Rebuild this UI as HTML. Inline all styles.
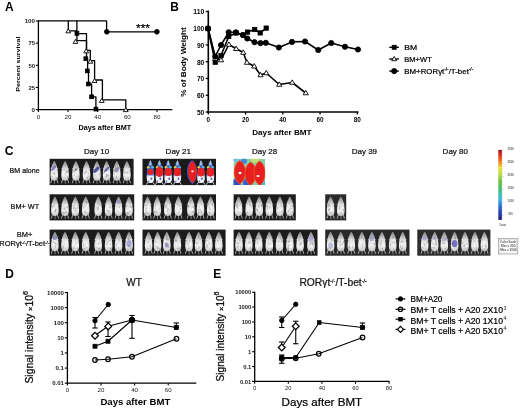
<!DOCTYPE html>
<html><head><meta charset="utf-8"><style>
html,body{margin:0;padding:0;background:#fff;}
svg{display:block;will-change:transform;}
text{font-family:"Liberation Sans", sans-serif;}
</style></head><body>
<svg width="520" height="410" viewBox="0 0 520 410" font-family='"Liberation Sans", sans-serif'>
<g>
<rect width="520" height="410" fill="#fff"/>
<text x="5.0" y="10.85" font-size="11.9" font-weight="bold" text-anchor="start" fill="#000" >A</text>
<line x1="38.40" y1="20.40" x2="38.40" y2="110.25" stroke="#000" stroke-width="1.3"/>
<line x1="37.75" y1="109.60" x2="172.30" y2="109.60" stroke="#000" stroke-width="1.3"/>
<line x1="35.80" y1="21.00" x2="38.40" y2="21.00" stroke="#000" stroke-width="1.1"/>
<text x="35.0" y="23.3" font-size="6.2" font-weight="bold" text-anchor="end" fill="#1a1a1a" textLength="10.3" lengthAdjust="spacingAndGlyphs" >100</text>
<line x1="35.80" y1="43.15" x2="38.40" y2="43.15" stroke="#000" stroke-width="1.1"/>
<text x="35.0" y="45.44999999999999" font-size="6.2" font-weight="bold" text-anchor="end" fill="#1a1a1a" textLength="6.6" lengthAdjust="spacingAndGlyphs" >75</text>
<line x1="35.80" y1="65.30" x2="38.40" y2="65.30" stroke="#000" stroke-width="1.1"/>
<text x="35.0" y="67.6" font-size="6.2" font-weight="bold" text-anchor="end" fill="#1a1a1a" textLength="6.6" lengthAdjust="spacingAndGlyphs" >50</text>
<line x1="35.80" y1="87.45" x2="38.40" y2="87.45" stroke="#000" stroke-width="1.1"/>
<text x="35.0" y="89.74999999999999" font-size="6.2" font-weight="bold" text-anchor="end" fill="#1a1a1a" textLength="6.6" lengthAdjust="spacingAndGlyphs" >25</text>
<line x1="35.80" y1="109.60" x2="38.40" y2="109.60" stroke="#000" stroke-width="1.1"/>
<text x="35.0" y="111.89999999999999" font-size="6.2" font-weight="bold" text-anchor="end" fill="#1a1a1a" >0</text>
<line x1="38.40" y1="109.60" x2="38.40" y2="112.00" stroke="#000" stroke-width="1.1"/>
<text x="38.4" y="118.6" font-size="6.2" font-weight="normal" text-anchor="middle" fill="#1a1a1a" >0</text>
<line x1="68.05" y1="109.60" x2="68.05" y2="112.00" stroke="#000" stroke-width="1.1"/>
<text x="68.05" y="118.6" font-size="6.2" font-weight="normal" text-anchor="middle" fill="#1a1a1a" >20</text>
<line x1="97.70" y1="109.60" x2="97.70" y2="112.00" stroke="#000" stroke-width="1.1"/>
<text x="97.69999999999999" y="118.6" font-size="6.2" font-weight="normal" text-anchor="middle" fill="#1a1a1a" >40</text>
<line x1="127.35" y1="109.60" x2="127.35" y2="112.00" stroke="#000" stroke-width="1.1"/>
<text x="127.35" y="118.6" font-size="6.2" font-weight="normal" text-anchor="middle" fill="#1a1a1a" >60</text>
<line x1="157.00" y1="109.60" x2="157.00" y2="112.00" stroke="#000" stroke-width="1.1"/>
<text x="157.0" y="118.6" font-size="6.2" font-weight="normal" text-anchor="middle" fill="#1a1a1a" >80</text>
<text x="78.5" y="130.1" font-size="7.1" font-weight="bold" text-anchor="start" fill="#000" textLength="52.8" lengthAdjust="spacingAndGlyphs" >Days after BMT</text>
<text transform="translate(20.0,64.1) scale(0.86,1) rotate(-90)" font-size="7.07" font-weight="bold" text-anchor="middle" fill="#000" textLength="55.2" lengthAdjust="spacingAndGlyphs">Percent survival</text>
<line x1="38.40" y1="20.75" x2="106.60" y2="20.75" stroke="#000" stroke-width="1.25"/>
<polyline points="106.60,20.75 106.60,31.80 157.00,31.80" fill="none" stroke="#000" stroke-width="1.3" stroke-linejoin="round"/>
<circle cx="106.80" cy="31.80" r="2.35" fill="#000" stroke="#000" stroke-width="0.9"/>
<circle cx="156.90" cy="31.80" r="2.35" fill="#000" stroke="#000" stroke-width="0.9"/>
<text x="136.0" y="32.0" font-size="10.5" font-weight="normal" text-anchor="start" fill="#000" stroke="#000" stroke-width="0.22" textLength="14" lengthAdjust="spacingAndGlyphs" >***</text>
<polyline points="68.30,20.75 68.30,30.80 76.90,30.80 76.90,40.60 86.50,40.60 86.50,50.40 90.30,50.40 90.30,60.60 94.60,60.60 94.60,80.00 102.40,80.00 102.40,99.90 125.80,99.90 125.80,109.60" fill="none" stroke="#000" stroke-width="1.3" stroke-linejoin="round"/>
<polyline points="76.90,20.75 76.90,33.70 86.50,33.70 86.50,58.70 87.60,58.70 87.60,71.00 88.50,71.00 88.50,84.00 91.60,84.00 91.60,96.80 95.90,96.80 95.90,109.60" fill="none" stroke="#000" stroke-width="1.3" stroke-linejoin="round"/>
<path d="M68.30,28.75 L70.70,32.83 L65.90,32.83 Z" fill="#fff" stroke="#000" stroke-width="0.9" stroke-linejoin="miter"/>
<path d="M75.50,39.35 L77.90,43.43 L73.10,43.43 Z" fill="#fff" stroke="#000" stroke-width="0.9" stroke-linejoin="miter"/>
<path d="M86.20,48.75 L88.60,52.83 L83.80,52.83 Z" fill="#fff" stroke="#000" stroke-width="0.9" stroke-linejoin="miter"/>
<path d="M90.30,59.15 L92.70,63.23 L87.90,63.23 Z" fill="#fff" stroke="#000" stroke-width="0.9" stroke-linejoin="miter"/>
<path d="M94.60,78.45 L97.00,82.53 L92.20,82.53 Z" fill="#fff" stroke="#000" stroke-width="0.9" stroke-linejoin="miter"/>
<path d="M101.80,98.35 L104.20,102.43 L99.40,102.43 Z" fill="#fff" stroke="#000" stroke-width="0.9" stroke-linejoin="miter"/>
<path d="M125.80,107.55 L128.20,111.63 L123.40,111.63 Z" fill="#fff" stroke="#000" stroke-width="0.9" stroke-linejoin="miter"/>
<rect x="75.00" y="31.50" width="3.8" height="3.8" fill="#000" stroke="#000" stroke-width="0.8"/>
<rect x="83.90" y="56.80" width="3.8" height="3.8" fill="#000" stroke="#000" stroke-width="0.8"/>
<rect x="85.40" y="69.00" width="3.8" height="3.8" fill="#000" stroke="#000" stroke-width="0.8"/>
<rect x="86.40" y="82.10" width="3.8" height="3.8" fill="#000" stroke="#000" stroke-width="0.8"/>
<rect x="89.70" y="94.90" width="3.8" height="3.8" fill="#000" stroke="#000" stroke-width="0.8"/>
<rect x="94.00" y="107.20" width="3.8" height="3.8" fill="#000" stroke="#000" stroke-width="0.8"/>
<text x="170.3" y="10.9" font-size="11.9" font-weight="bold" text-anchor="start" fill="#000" >B</text>
<line x1="208.30" y1="10.60" x2="208.30" y2="112.80" stroke="#000" stroke-width="1.6"/>
<line x1="207.50" y1="112.00" x2="358.50" y2="112.00" stroke="#000" stroke-width="1.6"/>
<line x1="205.70" y1="11.50" x2="208.30" y2="11.50" stroke="#000" stroke-width="1.3"/>
<text x="204.3" y="14.4" font-size="6.6" font-weight="bold" text-anchor="end" fill="#000" textLength="11.0" lengthAdjust="spacingAndGlyphs" >110</text>
<line x1="205.70" y1="28.25" x2="208.30" y2="28.25" stroke="#000" stroke-width="1.3"/>
<text x="204.3" y="31.15" font-size="6.6" font-weight="bold" text-anchor="end" fill="#000" textLength="11.0" lengthAdjust="spacingAndGlyphs" >100</text>
<line x1="205.70" y1="45.00" x2="208.30" y2="45.00" stroke="#000" stroke-width="1.3"/>
<text x="204.3" y="47.9" font-size="6.6" font-weight="bold" text-anchor="end" fill="#000" textLength="7.4" lengthAdjust="spacingAndGlyphs" >90</text>
<line x1="205.70" y1="61.75" x2="208.30" y2="61.75" stroke="#000" stroke-width="1.3"/>
<text x="204.3" y="64.65" font-size="6.6" font-weight="bold" text-anchor="end" fill="#000" textLength="7.4" lengthAdjust="spacingAndGlyphs" >80</text>
<line x1="205.70" y1="78.50" x2="208.30" y2="78.50" stroke="#000" stroke-width="1.3"/>
<text x="204.3" y="81.4" font-size="6.6" font-weight="bold" text-anchor="end" fill="#000" textLength="7.4" lengthAdjust="spacingAndGlyphs" >70</text>
<line x1="205.70" y1="95.25" x2="208.30" y2="95.25" stroke="#000" stroke-width="1.3"/>
<text x="204.3" y="98.15" font-size="6.6" font-weight="bold" text-anchor="end" fill="#000" textLength="7.4" lengthAdjust="spacingAndGlyphs" >60</text>
<line x1="205.70" y1="112.00" x2="208.30" y2="112.00" stroke="#000" stroke-width="1.3"/>
<text x="204.3" y="114.9" font-size="6.6" font-weight="bold" text-anchor="end" fill="#000" textLength="7.4" lengthAdjust="spacingAndGlyphs" >50</text>
<line x1="208.30" y1="112.00" x2="208.30" y2="114.60" stroke="#000" stroke-width="1.3"/>
<text x="208.3" y="122.3" font-size="6.4" font-weight="bold" text-anchor="middle" fill="#000" >0</text>
<line x1="245.55" y1="112.00" x2="245.55" y2="114.60" stroke="#000" stroke-width="1.3"/>
<text x="245.55" y="122.3" font-size="6.4" font-weight="bold" text-anchor="middle" fill="#000" >20</text>
<line x1="282.80" y1="112.00" x2="282.80" y2="114.60" stroke="#000" stroke-width="1.3"/>
<text x="282.8" y="122.3" font-size="6.4" font-weight="bold" text-anchor="middle" fill="#000" >40</text>
<line x1="320.05" y1="112.00" x2="320.05" y2="114.60" stroke="#000" stroke-width="1.3"/>
<text x="320.05" y="122.3" font-size="6.4" font-weight="bold" text-anchor="middle" fill="#000" >60</text>
<line x1="357.30" y1="112.00" x2="357.30" y2="114.60" stroke="#000" stroke-width="1.3"/>
<text x="357.3" y="122.3" font-size="6.4" font-weight="bold" text-anchor="middle" fill="#000" >80</text>
<text x="252.2" y="135.0" font-size="8.1" font-weight="bold" text-anchor="start" fill="#000" textLength="59.4" lengthAdjust="spacingAndGlyphs" >Days after BMT</text>
<text transform="translate(185.6,61.95) scale(0.86,1) rotate(-90)" font-size="8.15" font-weight="bold" text-anchor="middle" fill="#000" textLength="69.6" lengthAdjust="spacingAndGlyphs">% of Body Weight</text>
<polyline points="208.00,28.50 215.20,56.50 221.00,45.00 228.70,32.30 235.90,32.30 242.80,35.00 247.30,38.50 254.50,42.20 260.50,43.10 265.80,42.80 278.90,47.50 292.00,41.90 305.00,41.50 318.25,50.00 331.25,43.00 345.00,46.75 358.00,49.50" fill="none" stroke="#000" stroke-width="1.6" stroke-linejoin="round"/>
<polyline points="208.00,28.50 215.20,58.50 221.00,60.00 228.90,44.50 236.20,48.70 243.25,52.50 246.90,62.50 254.25,66.25 260.50,75.00 266.25,73.00 279.25,84.50 292.20,82.50 305.75,93.00" fill="none" stroke="#000" stroke-width="1.6" stroke-linejoin="round"/>
<polyline points="208.00,28.50 215.20,62.20 221.00,55.50 228.70,36.50 236.00,33.00 243.50,35.00 247.50,32.10 254.70,29.50 260.20,32.90 266.20,28.10" fill="none" stroke="#000" stroke-width="1.6" stroke-linejoin="round"/>
<rect x="205.85" y="26.35" width="4.3" height="4.3" fill="#000" stroke="#000" stroke-width="0.8"/>
<rect x="213.05" y="60.05" width="4.3" height="4.3" fill="#000" stroke="#000" stroke-width="0.8"/>
<rect x="218.85" y="53.35" width="4.3" height="4.3" fill="#000" stroke="#000" stroke-width="0.8"/>
<rect x="226.55" y="34.35" width="4.3" height="4.3" fill="#000" stroke="#000" stroke-width="0.8"/>
<rect x="233.85" y="30.85" width="4.3" height="4.3" fill="#000" stroke="#000" stroke-width="0.8"/>
<rect x="241.35" y="32.85" width="4.3" height="4.3" fill="#000" stroke="#000" stroke-width="0.8"/>
<rect x="245.35" y="29.95" width="4.3" height="4.3" fill="#000" stroke="#000" stroke-width="0.8"/>
<rect x="252.55" y="27.35" width="4.3" height="4.3" fill="#000" stroke="#000" stroke-width="0.8"/>
<rect x="258.05" y="30.75" width="4.3" height="4.3" fill="#000" stroke="#000" stroke-width="0.8"/>
<rect x="264.05" y="25.95" width="4.3" height="4.3" fill="#000" stroke="#000" stroke-width="0.8"/>
<path d="M208.00,25.85 L210.60,30.27 L205.40,30.27 Z" fill="#fff" stroke="#000" stroke-width="0.9" stroke-linejoin="miter"/>
<path d="M215.20,55.85 L217.80,60.27 L212.60,60.27 Z" fill="#fff" stroke="#000" stroke-width="0.9" stroke-linejoin="miter"/>
<path d="M221.00,57.35 L223.60,61.77 L218.40,61.77 Z" fill="#fff" stroke="#000" stroke-width="0.9" stroke-linejoin="miter"/>
<path d="M228.90,41.85 L231.50,46.27 L226.30,46.27 Z" fill="#fff" stroke="#000" stroke-width="0.9" stroke-linejoin="miter"/>
<path d="M236.20,46.05 L238.80,50.47 L233.60,50.47 Z" fill="#fff" stroke="#000" stroke-width="0.9" stroke-linejoin="miter"/>
<path d="M243.25,49.85 L245.85,54.27 L240.65,54.27 Z" fill="#fff" stroke="#000" stroke-width="0.9" stroke-linejoin="miter"/>
<path d="M246.90,59.85 L249.50,64.27 L244.30,64.27 Z" fill="#fff" stroke="#000" stroke-width="0.9" stroke-linejoin="miter"/>
<path d="M254.25,63.60 L256.85,68.02 L251.65,68.02 Z" fill="#fff" stroke="#000" stroke-width="0.9" stroke-linejoin="miter"/>
<path d="M260.50,72.35 L263.10,76.77 L257.90,76.77 Z" fill="#fff" stroke="#000" stroke-width="0.9" stroke-linejoin="miter"/>
<path d="M266.25,70.35 L268.85,74.77 L263.65,74.77 Z" fill="#fff" stroke="#000" stroke-width="0.9" stroke-linejoin="miter"/>
<path d="M279.25,81.85 L281.85,86.27 L276.65,86.27 Z" fill="#fff" stroke="#000" stroke-width="0.9" stroke-linejoin="miter"/>
<path d="M292.20,79.85 L294.80,84.27 L289.60,84.27 Z" fill="#fff" stroke="#000" stroke-width="0.9" stroke-linejoin="miter"/>
<path d="M305.75,90.35 L308.35,94.77 L303.15,94.77 Z" fill="#fff" stroke="#000" stroke-width="0.9" stroke-linejoin="miter"/>
<circle cx="208.00" cy="28.50" r="2.6" fill="#000" stroke="#000" stroke-width="0.9"/>
<circle cx="215.20" cy="56.50" r="2.6" fill="#000" stroke="#000" stroke-width="0.9"/>
<circle cx="221.00" cy="45.00" r="2.6" fill="#000" stroke="#000" stroke-width="0.9"/>
<circle cx="228.70" cy="32.30" r="2.6" fill="#000" stroke="#000" stroke-width="0.9"/>
<circle cx="235.90" cy="32.30" r="2.6" fill="#000" stroke="#000" stroke-width="0.9"/>
<circle cx="242.80" cy="35.00" r="2.6" fill="#000" stroke="#000" stroke-width="0.9"/>
<circle cx="247.30" cy="38.50" r="2.6" fill="#000" stroke="#000" stroke-width="0.9"/>
<circle cx="254.50" cy="42.20" r="2.6" fill="#000" stroke="#000" stroke-width="0.9"/>
<circle cx="260.50" cy="43.10" r="2.6" fill="#000" stroke="#000" stroke-width="0.9"/>
<circle cx="265.80" cy="42.80" r="2.6" fill="#000" stroke="#000" stroke-width="0.9"/>
<circle cx="278.90" cy="47.50" r="2.6" fill="#000" stroke="#000" stroke-width="0.9"/>
<circle cx="292.00" cy="41.90" r="2.6" fill="#000" stroke="#000" stroke-width="0.9"/>
<circle cx="305.00" cy="41.50" r="2.6" fill="#000" stroke="#000" stroke-width="0.9"/>
<circle cx="318.25" cy="50.00" r="2.6" fill="#000" stroke="#000" stroke-width="0.9"/>
<circle cx="331.25" cy="43.00" r="2.6" fill="#000" stroke="#000" stroke-width="0.9"/>
<circle cx="345.00" cy="46.75" r="2.6" fill="#000" stroke="#000" stroke-width="0.9"/>
<circle cx="358.00" cy="49.50" r="2.6" fill="#000" stroke="#000" stroke-width="0.9"/>
<line x1="389.30" y1="47.30" x2="398.80" y2="47.30" stroke="#000" stroke-width="1.4"/>
<rect x="392.20" y="45.30" width="4" height="4" fill="#000" stroke="#000" stroke-width="0.8"/>
<text x="404.2" y="49.5" font-size="7.9" font-weight="normal" text-anchor="start" fill="#000" stroke="#000" stroke-width="0.22" textLength="12.9" lengthAdjust="spacingAndGlyphs" >BM</text>
<line x1="389.30" y1="59.00" x2="398.80" y2="59.00" stroke="#000" stroke-width="1.4"/>
<path d="M394.20,56.45 L396.70,60.70 L391.70,60.70 Z" fill="#fff" stroke="#000" stroke-width="0.9" stroke-linejoin="miter"/>
<text x="404.2" y="61.6" font-size="7.9" font-weight="normal" text-anchor="start" fill="#000" stroke="#000" stroke-width="0.22" textLength="27.6" lengthAdjust="spacingAndGlyphs" >BM+WT</text>
<line x1="389.30" y1="71.10" x2="398.80" y2="71.10" stroke="#000" stroke-width="1.4"/>
<circle cx="394.20" cy="71.10" r="2.6" fill="#000" stroke="#000" stroke-width="0.9"/>
<text x="404.2" y="73.7" font-size="7.9" font-weight="normal" text-anchor="start" fill="#000" stroke="#000" stroke-width="0.22" textLength="69.0" lengthAdjust="spacingAndGlyphs" >BM+ROR&#947;t<tspan dy="-2.8" font-size="4.6">-/-</tspan><tspan dy="2.8">/T-bet</tspan><tspan dy="-2.8" font-size="4.6">-/-</tspan></text>
<text x="4.8" y="154.9" font-size="12.2" font-weight="bold" text-anchor="start" fill="#000" >C</text>
<text x="96.6" y="154.1" font-size="8.0" font-weight="normal" text-anchor="middle" fill="#111" stroke="#111" stroke-width="0.22" >Day 10</text>
<text x="178.3" y="154.1" font-size="8.0" font-weight="normal" text-anchor="middle" fill="#111" stroke="#111" stroke-width="0.22" >Day 21</text>
<text x="264.6" y="154.1" font-size="8.0" font-weight="normal" text-anchor="middle" fill="#111" stroke="#111" stroke-width="0.22" >Day 28</text>
<text x="364.4" y="154.1" font-size="8.0" font-weight="normal" text-anchor="middle" fill="#111" stroke="#111" stroke-width="0.22" >Day 39</text>
<text x="455.3" y="154.1" font-size="8.0" font-weight="normal" text-anchor="middle" fill="#111" stroke="#111" stroke-width="0.22" >Day 80</text>
<text x="24.6" y="173.4" font-size="7.1" font-weight="normal" text-anchor="middle" fill="#111" stroke="#111" stroke-width="0.22" >BM alone</text>
<text x="24.9" y="209.0" font-size="7.1" font-weight="normal" text-anchor="middle" fill="#111" stroke="#111" stroke-width="0.22" textLength="28.6" lengthAdjust="spacingAndGlyphs" >BM+ WT</text>
<text x="24.6" y="237.0" font-size="7.4" font-weight="normal" text-anchor="middle" fill="#111" stroke="#111" stroke-width="0.22" textLength="15.6" lengthAdjust="spacingAndGlyphs" >BM+</text>
<text x="24.3" y="246.3" font-size="7.5" font-weight="normal" text-anchor="middle" fill="#111" stroke="#111" stroke-width="0.22" >ROR&#947;t<tspan dy="-2.4" font-size="4.4">-/-</tspan><tspan dy="2.4">/T-bet</tspan><tspan dy="-2.4" font-size="4.4">-/-</tspan></text>
<defs><linearGradient id="hg" x1="0" y1="0" x2="0" y2="1"><stop offset="0" stop-color="#a0b8e0"/><stop offset="0.2" stop-color="#4868c8"/><stop offset="0.6" stop-color="#3858c8"/><stop offset="0.72" stop-color="#d8dcf0"/><stop offset="1" stop-color="#e8e8f0"/></linearGradient></defs>
<defs><linearGradient id="mg" x1="0" y1="0" x2="0" y2="1"><stop offset="0" stop-color="#7c7c7c"/><stop offset="0.22" stop-color="#b0b0b0"/><stop offset="0.42" stop-color="#e0e0e0"/><stop offset="0.72" stop-color="#efefef"/><stop offset="1" stop-color="#c4c4c4"/></linearGradient></defs>
<rect x="49.6" y="158.8" width="84.00" height="26.30" fill="#1c1c1c"/>
<path d="M51.85,179.00 l-1.2,4.2 M56.65,179.00 l1.2,4.2 M51.95,167.57 l-1.3,1.4 M56.55,167.57 l1.3,1.4" stroke="#a8a8a8" stroke-width="1.0"/>
<path d="M54.25,180.00 l0.3,3.8" stroke="#888" stroke-width="0.9"/>
<path d="M54.65,161.20 Q55.05,161.79 55.45,162.69 Q55.85,163.59 56.30,164.68 Q56.75,165.77 57.05,166.97 Q57.35,168.16 57.58,169.56 Q57.80,170.95 57.92,172.74 Q58.05,174.53 58.00,175.92 Q57.95,177.32 57.60,178.41 Q57.25,179.50 56.35,180.00 Q55.45,180.50 54.85,180.60 Q54.25,180.70 53.65,180.60 Q53.05,180.50 52.15,180.00 Q51.25,179.50 50.90,178.41 Q50.55,177.32 50.50,175.92 Q50.45,174.53 50.58,172.74 Q50.70,170.95 50.92,169.56 Q51.15,168.16 51.45,166.97 Q51.75,165.77 52.20,164.68 Q52.65,163.59 53.05,162.69 Q53.45,161.79 53.85,161.20 Q54.25,160.60 54.65,161.20 Z" fill="url(#mg)"/>
<ellipse cx="54.00" cy="173.30" rx="1.05" ry="0.97" fill="#8a8a8a" opacity="0.45"/>
<ellipse cx="54.29" cy="173.65" rx="0.61" ry="1.01" fill="#8a8a8a" opacity="0.45"/>
<ellipse cx="54.93" cy="176.27" rx="0.56" ry="0.84" fill="#8a8a8a" opacity="0.45"/>
<ellipse cx="52.12" cy="176.48" rx="0.92" ry="0.63" fill="#8a8a8a" opacity="0.45"/>
<ellipse cx="56.76" cy="178.46" rx="0.89" ry="1.09" fill="#8a8a8a" opacity="0.45"/>
<ellipse cx="52.47" cy="166.36" rx="0.82" ry="0.65" fill="#8a8a8a" opacity="0.45"/>
<ellipse cx="53.13" cy="171.48" rx="0.82" ry="1.46" fill="#f8f8f8" opacity="0.7"/>
<ellipse cx="54.04" cy="176.26" rx="1.11" ry="1.64" fill="#f8f8f8" opacity="0.7"/>
<ellipse cx="53.65" cy="168.16" rx="1.5" ry="3.4" fill="#5050b0" opacity="0.6" transform="rotate(40 53.65 168.16)"/>
<path d="M62.70,179.00 l-1.2,4.2 M67.50,179.00 l1.2,4.2 M62.80,167.57 l-1.3,1.4 M67.40,167.57 l1.3,1.4" stroke="#a8a8a8" stroke-width="1.0"/>
<path d="M65.10,180.00 l0.3,3.8" stroke="#888" stroke-width="0.9"/>
<path d="M65.50,161.20 Q65.90,161.79 66.30,162.69 Q66.70,163.59 67.15,164.68 Q67.60,165.77 67.90,166.97 Q68.20,168.16 68.42,169.56 Q68.65,170.95 68.77,172.74 Q68.90,174.53 68.85,175.92 Q68.80,177.32 68.45,178.41 Q68.10,179.50 67.20,180.00 Q66.30,180.50 65.70,180.60 Q65.10,180.70 64.50,180.60 Q63.90,180.50 63.00,180.00 Q62.10,179.50 61.75,178.41 Q61.40,177.32 61.35,175.92 Q61.30,174.53 61.42,172.74 Q61.55,170.95 61.77,169.56 Q62.00,168.16 62.30,166.97 Q62.60,165.77 63.05,164.68 Q63.50,163.59 63.90,162.69 Q64.30,161.79 64.70,161.20 Q65.10,160.60 65.50,161.20 Z" fill="url(#mg)"/>
<ellipse cx="65.10" cy="174.61" rx="0.77" ry="0.82" fill="#8a8a8a" opacity="0.45"/>
<ellipse cx="67.69" cy="178.85" rx="1.00" ry="1.17" fill="#8a8a8a" opacity="0.45"/>
<ellipse cx="64.14" cy="169.10" rx="0.67" ry="0.66" fill="#8a8a8a" opacity="0.45"/>
<ellipse cx="66.48" cy="171.27" rx="1.01" ry="0.91" fill="#8a8a8a" opacity="0.45"/>
<ellipse cx="67.48" cy="176.96" rx="0.50" ry="0.77" fill="#8a8a8a" opacity="0.45"/>
<ellipse cx="67.23" cy="172.16" rx="1.09" ry="0.92" fill="#8a8a8a" opacity="0.45"/>
<ellipse cx="63.56" cy="174.57" rx="1.27" ry="1.27" fill="#f8f8f8" opacity="0.7"/>
<ellipse cx="63.61" cy="172.20" rx="1.38" ry="1.76" fill="#f8f8f8" opacity="0.7"/>
<path d="M73.50,179.00 l-1.2,4.2 M78.30,179.00 l1.2,4.2 M73.60,167.57 l-1.3,1.4 M78.20,167.57 l1.3,1.4" stroke="#a8a8a8" stroke-width="1.0"/>
<path d="M75.90,180.00 l0.3,3.8" stroke="#888" stroke-width="0.9"/>
<path d="M76.30,161.20 Q76.70,161.79 77.10,162.69 Q77.50,163.59 77.95,164.68 Q78.40,165.77 78.70,166.97 Q79.00,168.16 79.22,169.56 Q79.45,170.95 79.58,172.74 Q79.70,174.53 79.65,175.92 Q79.60,177.32 79.25,178.41 Q78.90,179.50 78.00,180.00 Q77.10,180.50 76.50,180.60 Q75.90,180.70 75.30,180.60 Q74.70,180.50 73.80,180.00 Q72.90,179.50 72.55,178.41 Q72.20,177.32 72.15,175.92 Q72.10,174.53 72.23,172.74 Q72.35,170.95 72.58,169.56 Q72.80,168.16 73.10,166.97 Q73.40,165.77 73.85,164.68 Q74.30,163.59 74.70,162.69 Q75.10,161.79 75.50,161.20 Q75.90,160.60 76.30,161.20 Z" fill="url(#mg)"/>
<ellipse cx="73.91" cy="169.31" rx="0.56" ry="0.65" fill="#8a8a8a" opacity="0.45"/>
<ellipse cx="77.44" cy="168.43" rx="0.84" ry="0.96" fill="#8a8a8a" opacity="0.45"/>
<ellipse cx="74.29" cy="175.49" rx="0.58" ry="1.11" fill="#8a8a8a" opacity="0.45"/>
<ellipse cx="73.91" cy="171.53" rx="0.63" ry="0.82" fill="#8a8a8a" opacity="0.45"/>
<ellipse cx="78.35" cy="176.40" rx="0.68" ry="1.31" fill="#8a8a8a" opacity="0.45"/>
<ellipse cx="74.40" cy="171.19" rx="1.01" ry="1.11" fill="#8a8a8a" opacity="0.45"/>
<ellipse cx="74.46" cy="177.43" rx="0.93" ry="1.26" fill="#f8f8f8" opacity="0.7"/>
<ellipse cx="76.88" cy="172.17" rx="0.98" ry="1.07" fill="#f8f8f8" opacity="0.7"/>
<ellipse cx="75.90" cy="169.56" rx="0.9" ry="1.1" fill="#303040" opacity="0.8" transform="rotate(0 75.90 169.56)"/>
<path d="M84.10,179.00 l-1.2,4.2 M88.90,179.00 l1.2,4.2 M84.20,167.57 l-1.3,1.4 M88.80,167.57 l1.3,1.4" stroke="#a8a8a8" stroke-width="1.0"/>
<path d="M86.50,180.00 l0.3,3.8" stroke="#888" stroke-width="0.9"/>
<path d="M86.90,161.20 Q87.30,161.79 87.70,162.69 Q88.10,163.59 88.55,164.68 Q89.00,165.77 89.30,166.97 Q89.60,168.16 89.82,169.56 Q90.05,170.95 90.17,172.74 Q90.30,174.53 90.25,175.92 Q90.20,177.32 89.85,178.41 Q89.50,179.50 88.60,180.00 Q87.70,180.50 87.10,180.60 Q86.50,180.70 85.90,180.60 Q85.30,180.50 84.40,180.00 Q83.50,179.50 83.15,178.41 Q82.80,177.32 82.75,175.92 Q82.70,174.53 82.83,172.74 Q82.95,170.95 83.18,169.56 Q83.40,168.16 83.70,166.97 Q84.00,165.77 84.45,164.68 Q84.90,163.59 85.30,162.69 Q85.70,161.79 86.10,161.20 Q86.50,160.60 86.90,161.20 Z" fill="url(#mg)"/>
<ellipse cx="84.37" cy="173.59" rx="0.65" ry="1.08" fill="#8a8a8a" opacity="0.45"/>
<ellipse cx="85.83" cy="171.94" rx="1.08" ry="0.99" fill="#8a8a8a" opacity="0.45"/>
<ellipse cx="86.89" cy="177.21" rx="0.61" ry="0.72" fill="#8a8a8a" opacity="0.45"/>
<ellipse cx="88.62" cy="176.59" rx="0.65" ry="0.75" fill="#8a8a8a" opacity="0.45"/>
<ellipse cx="87.75" cy="178.15" rx="0.62" ry="1.36" fill="#8a8a8a" opacity="0.45"/>
<ellipse cx="88.49" cy="173.86" rx="0.75" ry="0.68" fill="#8a8a8a" opacity="0.45"/>
<ellipse cx="84.84" cy="177.22" rx="0.94" ry="1.70" fill="#f8f8f8" opacity="0.7"/>
<ellipse cx="85.63" cy="176.11" rx="1.16" ry="1.29" fill="#f8f8f8" opacity="0.7"/>
<path d="M94.50,179.00 l-1.2,4.2 M99.30,179.00 l1.2,4.2 M94.60,167.57 l-1.3,1.4 M99.20,167.57 l1.3,1.4" stroke="#a8a8a8" stroke-width="1.0"/>
<path d="M96.90,180.00 l0.3,3.8" stroke="#888" stroke-width="0.9"/>
<path d="M97.30,161.20 Q97.70,161.79 98.10,162.69 Q98.50,163.59 98.95,164.68 Q99.40,165.77 99.70,166.97 Q100.00,168.16 100.22,169.56 Q100.45,170.95 100.58,172.74 Q100.70,174.53 100.65,175.92 Q100.60,177.32 100.25,178.41 Q99.90,179.50 99.00,180.00 Q98.10,180.50 97.50,180.60 Q96.90,180.70 96.30,180.60 Q95.70,180.50 94.80,180.00 Q93.90,179.50 93.55,178.41 Q93.20,177.32 93.15,175.92 Q93.10,174.53 93.23,172.74 Q93.35,170.95 93.58,169.56 Q93.80,168.16 94.10,166.97 Q94.40,165.77 94.85,164.68 Q95.30,163.59 95.70,162.69 Q96.10,161.79 96.50,161.20 Q96.90,160.60 97.30,161.20 Z" fill="url(#mg)"/>
<ellipse cx="95.21" cy="175.35" rx="0.54" ry="0.78" fill="#8a8a8a" opacity="0.45"/>
<ellipse cx="97.21" cy="177.03" rx="0.87" ry="0.82" fill="#8a8a8a" opacity="0.45"/>
<ellipse cx="99.07" cy="168.77" rx="0.51" ry="0.82" fill="#8a8a8a" opacity="0.45"/>
<ellipse cx="96.62" cy="166.94" rx="0.61" ry="0.90" fill="#8a8a8a" opacity="0.45"/>
<ellipse cx="97.28" cy="167.85" rx="0.72" ry="1.31" fill="#8a8a8a" opacity="0.45"/>
<ellipse cx="99.40" cy="174.54" rx="0.91" ry="1.07" fill="#8a8a8a" opacity="0.45"/>
<ellipse cx="95.61" cy="169.83" rx="0.81" ry="1.91" fill="#f8f8f8" opacity="0.7"/>
<ellipse cx="97.62" cy="177.22" rx="0.81" ry="1.64" fill="#f8f8f8" opacity="0.7"/>
<ellipse cx="96.40" cy="169.75" rx="1.6" ry="4.0" fill="#3a3a9a" opacity="0.85" transform="rotate(45 96.40 169.75)"/>
<path d="M104.20,179.00 l-1.2,4.2 M109.00,179.00 l1.2,4.2 M104.30,167.57 l-1.3,1.4 M108.90,167.57 l1.3,1.4" stroke="#a8a8a8" stroke-width="1.0"/>
<path d="M106.60,180.00 l0.3,3.8" stroke="#888" stroke-width="0.9"/>
<path d="M107.00,161.20 Q107.40,161.79 107.80,162.69 Q108.20,163.59 108.65,164.68 Q109.10,165.77 109.40,166.97 Q109.70,168.16 109.92,169.56 Q110.15,170.95 110.27,172.74 Q110.40,174.53 110.35,175.92 Q110.30,177.32 109.95,178.41 Q109.60,179.50 108.70,180.00 Q107.80,180.50 107.20,180.60 Q106.60,180.70 106.00,180.60 Q105.40,180.50 104.50,180.00 Q103.60,179.50 103.25,178.41 Q102.90,177.32 102.85,175.92 Q102.80,174.53 102.92,172.74 Q103.05,170.95 103.28,169.56 Q103.50,168.16 103.80,166.97 Q104.10,165.77 104.55,164.68 Q105.00,163.59 105.40,162.69 Q105.80,161.79 106.20,161.20 Q106.60,160.60 107.00,161.20 Z" fill="url(#mg)"/>
<ellipse cx="106.51" cy="175.48" rx="0.69" ry="1.40" fill="#8a8a8a" opacity="0.45"/>
<ellipse cx="104.39" cy="173.13" rx="0.94" ry="1.32" fill="#8a8a8a" opacity="0.45"/>
<ellipse cx="107.83" cy="175.13" rx="0.98" ry="1.33" fill="#8a8a8a" opacity="0.45"/>
<ellipse cx="105.83" cy="174.90" rx="1.04" ry="1.30" fill="#8a8a8a" opacity="0.45"/>
<ellipse cx="106.17" cy="176.24" rx="1.02" ry="1.06" fill="#8a8a8a" opacity="0.45"/>
<ellipse cx="107.25" cy="171.04" rx="0.85" ry="1.09" fill="#8a8a8a" opacity="0.45"/>
<ellipse cx="105.09" cy="174.64" rx="1.40" ry="1.88" fill="#f8f8f8" opacity="0.7"/>
<ellipse cx="107.42" cy="172.65" rx="1.24" ry="1.58" fill="#f8f8f8" opacity="0.7"/>
<ellipse cx="106.60" cy="169.36" rx="1.3" ry="3.4" fill="#3a3a9a" opacity="0.7" transform="rotate(45 106.60 169.36)"/>
<path d="M114.40,179.00 l-1.2,4.2 M119.20,179.00 l1.2,4.2 M114.50,167.57 l-1.3,1.4 M119.10,167.57 l1.3,1.4" stroke="#a8a8a8" stroke-width="1.0"/>
<path d="M116.80,180.00 l0.3,3.8" stroke="#888" stroke-width="0.9"/>
<path d="M117.20,161.20 Q117.60,161.79 118.00,162.69 Q118.40,163.59 118.85,164.68 Q119.30,165.77 119.60,166.97 Q119.90,168.16 120.12,169.56 Q120.35,170.95 120.47,172.74 Q120.60,174.53 120.55,175.92 Q120.50,177.32 120.15,178.41 Q119.80,179.50 118.90,180.00 Q118.00,180.50 117.40,180.60 Q116.80,180.70 116.20,180.60 Q115.60,180.50 114.70,180.00 Q113.80,179.50 113.45,178.41 Q113.10,177.32 113.05,175.92 Q113.00,174.53 113.12,172.74 Q113.25,170.95 113.47,169.56 Q113.70,168.16 114.00,166.97 Q114.30,165.77 114.75,164.68 Q115.20,163.59 115.60,162.69 Q116.00,161.79 116.40,161.20 Q116.80,160.60 117.20,161.20 Z" fill="url(#mg)"/>
<ellipse cx="116.49" cy="176.85" rx="0.55" ry="1.20" fill="#8a8a8a" opacity="0.45"/>
<ellipse cx="114.35" cy="173.83" rx="0.79" ry="0.78" fill="#8a8a8a" opacity="0.45"/>
<ellipse cx="117.83" cy="172.50" rx="0.87" ry="1.34" fill="#8a8a8a" opacity="0.45"/>
<ellipse cx="115.53" cy="166.32" rx="0.68" ry="1.14" fill="#8a8a8a" opacity="0.45"/>
<ellipse cx="115.25" cy="168.33" rx="1.04" ry="1.13" fill="#8a8a8a" opacity="0.45"/>
<ellipse cx="116.50" cy="177.53" rx="0.70" ry="1.13" fill="#8a8a8a" opacity="0.45"/>
<ellipse cx="115.71" cy="172.98" rx="1.28" ry="1.91" fill="#f8f8f8" opacity="0.7"/>
<ellipse cx="118.17" cy="172.61" rx="1.15" ry="1.32" fill="#f8f8f8" opacity="0.7"/>
<ellipse cx="116.80" cy="169.75" rx="1.8" ry="3.2" fill="#505088" opacity="0.55" transform="rotate(40 116.80 169.75)"/>
<path d="M124.50,179.00 l-1.2,4.2 M129.30,179.00 l1.2,4.2 M124.60,167.57 l-1.3,1.4 M129.20,167.57 l1.3,1.4" stroke="#a8a8a8" stroke-width="1.0"/>
<path d="M126.90,180.00 l0.3,3.8" stroke="#888" stroke-width="0.9"/>
<path d="M127.30,161.20 Q127.70,161.79 128.10,162.69 Q128.50,163.59 128.95,164.68 Q129.40,165.77 129.70,166.97 Q130.00,168.16 130.23,169.56 Q130.45,170.95 130.58,172.74 Q130.70,174.53 130.65,175.92 Q130.60,177.32 130.25,178.41 Q129.90,179.50 129.00,180.00 Q128.10,180.50 127.50,180.60 Q126.90,180.70 126.30,180.60 Q125.70,180.50 124.80,180.00 Q123.90,179.50 123.55,178.41 Q123.20,177.32 123.15,175.92 Q123.10,174.53 123.23,172.74 Q123.35,170.95 123.58,169.56 Q123.80,168.16 124.10,166.97 Q124.40,165.77 124.85,164.68 Q125.30,163.59 125.70,162.69 Q126.10,161.79 126.50,161.20 Q126.90,160.60 127.30,161.20 Z" fill="url(#mg)"/>
<ellipse cx="125.01" cy="172.50" rx="1.00" ry="1.28" fill="#8a8a8a" opacity="0.45"/>
<ellipse cx="128.00" cy="178.27" rx="0.67" ry="0.74" fill="#8a8a8a" opacity="0.45"/>
<ellipse cx="126.64" cy="169.68" rx="0.63" ry="0.93" fill="#8a8a8a" opacity="0.45"/>
<ellipse cx="127.55" cy="172.46" rx="0.69" ry="1.27" fill="#8a8a8a" opacity="0.45"/>
<ellipse cx="129.41" cy="171.93" rx="0.54" ry="0.63" fill="#8a8a8a" opacity="0.45"/>
<ellipse cx="128.84" cy="166.70" rx="0.93" ry="1.06" fill="#8a8a8a" opacity="0.45"/>
<ellipse cx="126.21" cy="175.86" rx="0.81" ry="1.14" fill="#f8f8f8" opacity="0.7"/>
<ellipse cx="126.74" cy="169.75" rx="1.30" ry="1.24" fill="#f8f8f8" opacity="0.7"/>
<rect x="49.6" y="194.3" width="84.60" height="26.10" fill="#1c1c1c"/>
<path d="M52.50,214.30 l-1.2,4.2 M57.30,214.30 l1.2,4.2 M52.60,203.00 l-1.3,1.4 M57.20,203.00 l1.3,1.4" stroke="#a8a8a8" stroke-width="1.0"/>
<path d="M54.90,215.30 l0.3,3.8" stroke="#888" stroke-width="0.9"/>
<path d="M55.30,196.69 Q55.70,197.28 56.10,198.17 Q56.50,199.06 56.95,200.14 Q57.40,201.22 57.70,202.40 Q58.00,203.59 58.22,204.97 Q58.45,206.34 58.57,208.12 Q58.70,209.89 58.65,211.27 Q58.60,212.65 58.25,213.73 Q57.90,214.81 57.00,215.31 Q56.10,215.80 55.50,215.90 Q54.90,216.00 54.30,215.90 Q53.70,215.80 52.80,215.31 Q51.90,214.81 51.55,213.73 Q51.20,212.65 51.15,211.27 Q51.10,209.89 51.23,208.12 Q51.35,206.34 51.58,204.97 Q51.80,203.59 52.10,202.40 Q52.40,201.22 52.85,200.14 Q53.30,199.06 53.70,198.17 Q54.10,197.28 54.50,196.69 Q54.90,196.10 55.30,196.69 Z" fill="url(#mg)"/>
<ellipse cx="53.03" cy="202.21" rx="0.88" ry="0.96" fill="#8a8a8a" opacity="0.45"/>
<ellipse cx="55.58" cy="209.87" rx="0.98" ry="1.37" fill="#8a8a8a" opacity="0.45"/>
<ellipse cx="55.86" cy="204.13" rx="0.79" ry="0.74" fill="#8a8a8a" opacity="0.45"/>
<ellipse cx="52.36" cy="207.57" rx="0.93" ry="0.74" fill="#8a8a8a" opacity="0.45"/>
<ellipse cx="53.72" cy="205.98" rx="0.92" ry="1.02" fill="#8a8a8a" opacity="0.45"/>
<ellipse cx="55.50" cy="211.15" rx="0.74" ry="1.23" fill="#8a8a8a" opacity="0.45"/>
<ellipse cx="56.36" cy="205.65" rx="1.36" ry="1.72" fill="#f8f8f8" opacity="0.7"/>
<ellipse cx="53.57" cy="208.54" rx="1.18" ry="1.91" fill="#f8f8f8" opacity="0.7"/>
<path d="M62.60,214.30 l-1.2,4.2 M67.40,214.30 l1.2,4.2 M62.70,203.00 l-1.3,1.4 M67.30,203.00 l1.3,1.4" stroke="#a8a8a8" stroke-width="1.0"/>
<path d="M65.00,215.30 l0.3,3.8" stroke="#888" stroke-width="0.9"/>
<path d="M65.40,196.69 Q65.80,197.28 66.20,198.17 Q66.60,199.06 67.05,200.14 Q67.50,201.22 67.80,202.40 Q68.10,203.59 68.32,204.97 Q68.55,206.34 68.67,208.12 Q68.80,209.89 68.75,211.27 Q68.70,212.65 68.35,213.73 Q68.00,214.81 67.10,215.31 Q66.20,215.80 65.60,215.90 Q65.00,216.00 64.40,215.90 Q63.80,215.80 62.90,215.31 Q62.00,214.81 61.65,213.73 Q61.30,212.65 61.25,211.27 Q61.20,209.89 61.33,208.12 Q61.45,206.34 61.67,204.97 Q61.90,203.59 62.20,202.40 Q62.50,201.22 62.95,200.14 Q63.40,199.06 63.80,198.17 Q64.20,197.28 64.60,196.69 Q65.00,196.10 65.40,196.69 Z" fill="url(#mg)"/>
<ellipse cx="64.36" cy="208.79" rx="1.03" ry="1.24" fill="#8a8a8a" opacity="0.45"/>
<ellipse cx="67.31" cy="207.46" rx="0.89" ry="0.76" fill="#8a8a8a" opacity="0.45"/>
<ellipse cx="66.15" cy="211.93" rx="0.88" ry="1.17" fill="#8a8a8a" opacity="0.45"/>
<ellipse cx="63.51" cy="212.96" rx="1.09" ry="1.38" fill="#8a8a8a" opacity="0.45"/>
<ellipse cx="65.19" cy="211.59" rx="0.69" ry="1.33" fill="#8a8a8a" opacity="0.45"/>
<ellipse cx="66.85" cy="206.01" rx="0.55" ry="0.95" fill="#8a8a8a" opacity="0.45"/>
<ellipse cx="65.18" cy="211.02" rx="1.09" ry="1.03" fill="#f8f8f8" opacity="0.7"/>
<ellipse cx="66.11" cy="205.47" rx="1.28" ry="1.17" fill="#f8f8f8" opacity="0.7"/>
<path d="M72.90,214.30 l-1.2,4.2 M77.70,214.30 l1.2,4.2 M73.00,203.00 l-1.3,1.4 M77.60,203.00 l1.3,1.4" stroke="#a8a8a8" stroke-width="1.0"/>
<path d="M75.30,215.30 l0.3,3.8" stroke="#888" stroke-width="0.9"/>
<path d="M75.70,196.69 Q76.10,197.28 76.50,198.17 Q76.90,199.06 77.35,200.14 Q77.80,201.22 78.10,202.40 Q78.40,203.59 78.62,204.97 Q78.85,206.34 78.97,208.12 Q79.10,209.89 79.05,211.27 Q79.00,212.65 78.65,213.73 Q78.30,214.81 77.40,215.31 Q76.50,215.80 75.90,215.90 Q75.30,216.00 74.70,215.90 Q74.10,215.80 73.20,215.31 Q72.30,214.81 71.95,213.73 Q71.60,212.65 71.55,211.27 Q71.50,209.89 71.62,208.12 Q71.75,206.34 71.97,204.97 Q72.20,203.59 72.50,202.40 Q72.80,201.22 73.25,200.14 Q73.70,199.06 74.10,198.17 Q74.50,197.28 74.90,196.69 Q75.30,196.10 75.70,196.69 Z" fill="url(#mg)"/>
<ellipse cx="74.44" cy="211.55" rx="0.58" ry="0.72" fill="#8a8a8a" opacity="0.45"/>
<ellipse cx="75.39" cy="210.74" rx="1.00" ry="1.15" fill="#8a8a8a" opacity="0.45"/>
<ellipse cx="77.62" cy="207.83" rx="1.07" ry="0.67" fill="#8a8a8a" opacity="0.45"/>
<ellipse cx="73.85" cy="208.26" rx="0.67" ry="1.18" fill="#8a8a8a" opacity="0.45"/>
<ellipse cx="76.02" cy="208.21" rx="1.01" ry="1.05" fill="#8a8a8a" opacity="0.45"/>
<ellipse cx="74.32" cy="206.42" rx="1.01" ry="1.32" fill="#8a8a8a" opacity="0.45"/>
<ellipse cx="74.25" cy="211.67" rx="1.38" ry="1.52" fill="#f8f8f8" opacity="0.7"/>
<ellipse cx="75.56" cy="206.55" rx="1.12" ry="1.50" fill="#f8f8f8" opacity="0.7"/>
<path d="M83.30,214.30 l-1.2,4.2 M88.10,214.30 l1.2,4.2 M83.40,203.00 l-1.3,1.4 M88.00,203.00 l1.3,1.4" stroke="#a8a8a8" stroke-width="1.0"/>
<path d="M85.70,215.30 l0.3,3.8" stroke="#888" stroke-width="0.9"/>
<path d="M86.10,196.69 Q86.50,197.28 86.90,198.17 Q87.30,199.06 87.75,200.14 Q88.20,201.22 88.50,202.40 Q88.80,203.59 89.03,204.97 Q89.25,206.34 89.38,208.12 Q89.50,209.89 89.45,211.27 Q89.40,212.65 89.05,213.73 Q88.70,214.81 87.80,215.31 Q86.90,215.80 86.30,215.90 Q85.70,216.00 85.10,215.90 Q84.50,215.80 83.60,215.31 Q82.70,214.81 82.35,213.73 Q82.00,212.65 81.95,211.27 Q81.90,209.89 82.03,208.12 Q82.15,206.34 82.38,204.97 Q82.60,203.59 82.90,202.40 Q83.20,201.22 83.65,200.14 Q84.10,199.06 84.50,198.17 Q84.90,197.28 85.30,196.69 Q85.70,196.10 86.10,196.69 Z" fill="url(#mg)"/>
<ellipse cx="86.25" cy="201.97" rx="1.08" ry="1.01" fill="#8a8a8a" opacity="0.45"/>
<ellipse cx="85.18" cy="211.72" rx="0.84" ry="0.99" fill="#8a8a8a" opacity="0.45"/>
<ellipse cx="86.69" cy="202.45" rx="0.82" ry="0.93" fill="#8a8a8a" opacity="0.45"/>
<ellipse cx="88.08" cy="213.26" rx="0.66" ry="0.98" fill="#8a8a8a" opacity="0.45"/>
<ellipse cx="83.76" cy="207.08" rx="0.99" ry="1.32" fill="#8a8a8a" opacity="0.45"/>
<ellipse cx="85.58" cy="205.62" rx="0.61" ry="1.09" fill="#8a8a8a" opacity="0.45"/>
<ellipse cx="87.23" cy="205.99" rx="1.27" ry="1.02" fill="#f8f8f8" opacity="0.7"/>
<ellipse cx="84.60" cy="206.76" rx="1.21" ry="1.32" fill="#f8f8f8" opacity="0.7"/>
<path d="M95.80,214.30 l-1.2,4.2 M100.60,214.30 l1.2,4.2 M95.90,203.00 l-1.3,1.4 M100.50,203.00 l1.3,1.4" stroke="#a8a8a8" stroke-width="1.0"/>
<path d="M98.20,215.30 l0.3,3.8" stroke="#888" stroke-width="0.9"/>
<path d="M98.60,196.69 Q99.00,197.28 99.40,198.17 Q99.80,199.06 100.25,200.14 Q100.70,201.22 101.00,202.40 Q101.30,203.59 101.53,204.97 Q101.75,206.34 101.88,208.12 Q102.00,209.89 101.95,211.27 Q101.90,212.65 101.55,213.73 Q101.20,214.81 100.30,215.31 Q99.40,215.80 98.80,215.90 Q98.20,216.00 97.60,215.90 Q97.00,215.80 96.10,215.31 Q95.20,214.81 94.85,213.73 Q94.50,212.65 94.45,211.27 Q94.40,209.89 94.53,208.12 Q94.65,206.34 94.88,204.97 Q95.10,203.59 95.40,202.40 Q95.70,201.22 96.15,200.14 Q96.60,199.06 97.00,198.17 Q97.40,197.28 97.80,196.69 Q98.20,196.10 98.60,196.69 Z" fill="url(#mg)"/>
<ellipse cx="97.45" cy="209.43" rx="0.56" ry="1.18" fill="#8a8a8a" opacity="0.45"/>
<ellipse cx="96.24" cy="208.05" rx="0.65" ry="0.76" fill="#8a8a8a" opacity="0.45"/>
<ellipse cx="98.36" cy="207.12" rx="0.73" ry="0.93" fill="#8a8a8a" opacity="0.45"/>
<ellipse cx="98.35" cy="203.63" rx="0.62" ry="1.11" fill="#8a8a8a" opacity="0.45"/>
<ellipse cx="98.92" cy="208.29" rx="1.01" ry="1.09" fill="#8a8a8a" opacity="0.45"/>
<ellipse cx="100.06" cy="204.55" rx="0.94" ry="1.25" fill="#8a8a8a" opacity="0.45"/>
<ellipse cx="99.65" cy="207.45" rx="0.99" ry="1.92" fill="#f8f8f8" opacity="0.7"/>
<ellipse cx="97.19" cy="212.83" rx="1.33" ry="1.13" fill="#f8f8f8" opacity="0.7"/>
<path d="M106.20,214.30 l-1.2,4.2 M111.00,214.30 l1.2,4.2 M106.30,203.00 l-1.3,1.4 M110.90,203.00 l1.3,1.4" stroke="#a8a8a8" stroke-width="1.0"/>
<path d="M108.60,215.30 l0.3,3.8" stroke="#888" stroke-width="0.9"/>
<path d="M109.00,196.69 Q109.40,197.28 109.80,198.17 Q110.20,199.06 110.65,200.14 Q111.10,201.22 111.40,202.40 Q111.70,203.59 111.92,204.97 Q112.15,206.34 112.27,208.12 Q112.40,209.89 112.35,211.27 Q112.30,212.65 111.95,213.73 Q111.60,214.81 110.70,215.31 Q109.80,215.80 109.20,215.90 Q108.60,216.00 108.00,215.90 Q107.40,215.80 106.50,215.31 Q105.60,214.81 105.25,213.73 Q104.90,212.65 104.85,211.27 Q104.80,209.89 104.92,208.12 Q105.05,206.34 105.28,204.97 Q105.50,203.59 105.80,202.40 Q106.10,201.22 106.55,200.14 Q107.00,199.06 107.40,198.17 Q107.80,197.28 108.20,196.69 Q108.60,196.10 109.00,196.69 Z" fill="url(#mg)"/>
<ellipse cx="107.24" cy="210.78" rx="0.66" ry="0.68" fill="#8a8a8a" opacity="0.45"/>
<ellipse cx="110.33" cy="206.93" rx="0.97" ry="0.70" fill="#8a8a8a" opacity="0.45"/>
<ellipse cx="108.09" cy="210.26" rx="0.51" ry="0.76" fill="#8a8a8a" opacity="0.45"/>
<ellipse cx="109.55" cy="213.11" rx="1.08" ry="0.69" fill="#8a8a8a" opacity="0.45"/>
<ellipse cx="108.63" cy="211.17" rx="0.80" ry="1.15" fill="#8a8a8a" opacity="0.45"/>
<ellipse cx="106.98" cy="202.51" rx="0.56" ry="0.63" fill="#8a8a8a" opacity="0.45"/>
<ellipse cx="108.79" cy="209.02" rx="1.14" ry="1.15" fill="#f8f8f8" opacity="0.7"/>
<ellipse cx="107.46" cy="206.57" rx="1.30" ry="1.99" fill="#f8f8f8" opacity="0.7"/>
<path d="M116.20,214.30 l-1.2,4.2 M121.00,214.30 l1.2,4.2 M116.30,203.00 l-1.3,1.4 M120.90,203.00 l1.3,1.4" stroke="#a8a8a8" stroke-width="1.0"/>
<path d="M118.60,215.30 l0.3,3.8" stroke="#888" stroke-width="0.9"/>
<path d="M119.00,196.69 Q119.40,197.28 119.80,198.17 Q120.20,199.06 120.65,200.14 Q121.10,201.22 121.40,202.40 Q121.70,203.59 121.92,204.97 Q122.15,206.34 122.27,208.12 Q122.40,209.89 122.35,211.27 Q122.30,212.65 121.95,213.73 Q121.60,214.81 120.70,215.31 Q119.80,215.80 119.20,215.90 Q118.60,216.00 118.00,215.90 Q117.40,215.80 116.50,215.31 Q115.60,214.81 115.25,213.73 Q114.90,212.65 114.85,211.27 Q114.80,209.89 114.92,208.12 Q115.05,206.34 115.28,204.97 Q115.50,203.59 115.80,202.40 Q116.10,201.22 116.55,200.14 Q117.00,199.06 117.40,198.17 Q117.80,197.28 118.20,196.69 Q118.60,196.10 119.00,196.69 Z" fill="url(#mg)"/>
<ellipse cx="120.82" cy="202.82" rx="0.54" ry="1.36" fill="#8a8a8a" opacity="0.45"/>
<ellipse cx="118.40" cy="211.26" rx="0.70" ry="0.97" fill="#8a8a8a" opacity="0.45"/>
<ellipse cx="118.68" cy="207.04" rx="0.86" ry="0.61" fill="#8a8a8a" opacity="0.45"/>
<ellipse cx="119.65" cy="212.26" rx="0.61" ry="0.96" fill="#8a8a8a" opacity="0.45"/>
<ellipse cx="119.84" cy="206.73" rx="0.62" ry="0.73" fill="#8a8a8a" opacity="0.45"/>
<ellipse cx="118.67" cy="201.81" rx="1.04" ry="1.24" fill="#8a8a8a" opacity="0.45"/>
<ellipse cx="119.34" cy="211.75" rx="1.18" ry="1.40" fill="#f8f8f8" opacity="0.7"/>
<ellipse cx="118.96" cy="208.94" rx="1.39" ry="1.80" fill="#f8f8f8" opacity="0.7"/>
<ellipse cx="118.60" cy="202.01" rx="2.2" ry="2.2" fill="#8080c8" opacity="0.45" transform="rotate(0 118.60 202.01)"/>
<path d="M126.60,214.30 l-1.2,4.2 M131.40,214.30 l1.2,4.2 M126.70,203.00 l-1.3,1.4 M131.30,203.00 l1.3,1.4" stroke="#a8a8a8" stroke-width="1.0"/>
<path d="M129.00,215.30 l0.3,3.8" stroke="#888" stroke-width="0.9"/>
<path d="M129.40,196.69 Q129.80,197.28 130.20,198.17 Q130.60,199.06 131.05,200.14 Q131.50,201.22 131.80,202.40 Q132.10,203.59 132.32,204.97 Q132.55,206.34 132.68,208.12 Q132.80,209.89 132.75,211.27 Q132.70,212.65 132.35,213.73 Q132.00,214.81 131.10,215.31 Q130.20,215.80 129.60,215.90 Q129.00,216.00 128.40,215.90 Q127.80,215.80 126.90,215.31 Q126.00,214.81 125.65,213.73 Q125.30,212.65 125.25,211.27 Q125.20,209.89 125.33,208.12 Q125.45,206.34 125.68,204.97 Q125.90,203.59 126.20,202.40 Q126.50,201.22 126.95,200.14 Q127.40,199.06 127.80,198.17 Q128.20,197.28 128.60,196.69 Q129.00,196.10 129.40,196.69 Z" fill="url(#mg)"/>
<ellipse cx="127.74" cy="213.11" rx="0.95" ry="1.22" fill="#8a8a8a" opacity="0.45"/>
<ellipse cx="130.64" cy="206.73" rx="1.04" ry="1.30" fill="#8a8a8a" opacity="0.45"/>
<ellipse cx="130.01" cy="211.29" rx="0.96" ry="0.92" fill="#8a8a8a" opacity="0.45"/>
<ellipse cx="130.16" cy="202.51" rx="0.71" ry="0.98" fill="#8a8a8a" opacity="0.45"/>
<ellipse cx="126.46" cy="206.10" rx="0.88" ry="1.10" fill="#8a8a8a" opacity="0.45"/>
<ellipse cx="127.61" cy="213.53" rx="0.90" ry="0.87" fill="#8a8a8a" opacity="0.45"/>
<ellipse cx="129.58" cy="209.45" rx="1.12" ry="1.39" fill="#f8f8f8" opacity="0.7"/>
<ellipse cx="130.80" cy="210.03" rx="1.22" ry="1.76" fill="#f8f8f8" opacity="0.7"/>
<rect x="49.6" y="229.6" width="84.60" height="26.10" fill="#1c1c1c"/>
<path d="M52.50,249.60 l-1.2,4.2 M57.30,249.60 l1.2,4.2 M52.60,238.30 l-1.3,1.4 M57.20,238.30 l1.3,1.4" stroke="#a8a8a8" stroke-width="1.0"/>
<path d="M54.90,250.60 l0.3,3.8" stroke="#888" stroke-width="0.9"/>
<path d="M55.30,231.99 Q55.70,232.58 56.10,233.47 Q56.50,234.36 56.95,235.44 Q57.40,236.52 57.70,237.70 Q58.00,238.89 58.22,240.26 Q58.45,241.64 58.57,243.42 Q58.70,245.19 58.65,246.57 Q58.60,247.95 58.25,249.03 Q57.90,250.12 57.00,250.61 Q56.10,251.10 55.50,251.20 Q54.90,251.30 54.30,251.20 Q53.70,251.10 52.80,250.61 Q51.90,250.12 51.55,249.03 Q51.20,247.95 51.15,246.57 Q51.10,245.19 51.23,243.42 Q51.35,241.64 51.58,240.26 Q51.80,238.89 52.10,237.70 Q52.40,236.52 52.85,235.44 Q53.30,234.36 53.70,233.47 Q54.10,232.58 54.50,231.99 Q54.90,231.40 55.30,231.99 Z" fill="url(#mg)"/>
<ellipse cx="57.40" cy="237.20" rx="0.87" ry="1.19" fill="#8a8a8a" opacity="0.45"/>
<ellipse cx="53.63" cy="241.98" rx="0.53" ry="0.76" fill="#8a8a8a" opacity="0.45"/>
<ellipse cx="54.25" cy="238.16" rx="0.65" ry="1.32" fill="#8a8a8a" opacity="0.45"/>
<ellipse cx="55.16" cy="243.32" rx="1.08" ry="1.05" fill="#8a8a8a" opacity="0.45"/>
<ellipse cx="57.47" cy="244.96" rx="0.99" ry="0.66" fill="#8a8a8a" opacity="0.45"/>
<ellipse cx="55.41" cy="246.49" rx="0.53" ry="1.34" fill="#8a8a8a" opacity="0.45"/>
<ellipse cx="53.68" cy="243.98" rx="0.90" ry="1.50" fill="#f8f8f8" opacity="0.7"/>
<ellipse cx="55.30" cy="240.73" rx="1.37" ry="1.42" fill="#f8f8f8" opacity="0.7"/>
<ellipse cx="54.90" cy="237.70" rx="2.3" ry="2.4" fill="#6060b8" opacity="0.55" transform="rotate(0 54.90 237.70)"/>
<path d="M62.60,249.60 l-1.2,4.2 M67.40,249.60 l1.2,4.2 M62.70,238.30 l-1.3,1.4 M67.30,238.30 l1.3,1.4" stroke="#a8a8a8" stroke-width="1.0"/>
<path d="M65.00,250.60 l0.3,3.8" stroke="#888" stroke-width="0.9"/>
<path d="M65.40,231.99 Q65.80,232.58 66.20,233.47 Q66.60,234.36 67.05,235.44 Q67.50,236.52 67.80,237.70 Q68.10,238.89 68.32,240.26 Q68.55,241.64 68.67,243.42 Q68.80,245.19 68.75,246.57 Q68.70,247.95 68.35,249.03 Q68.00,250.12 67.10,250.61 Q66.20,251.10 65.60,251.20 Q65.00,251.30 64.40,251.20 Q63.80,251.10 62.90,250.61 Q62.00,250.12 61.65,249.03 Q61.30,247.95 61.25,246.57 Q61.20,245.19 61.33,243.42 Q61.45,241.64 61.67,240.26 Q61.90,238.89 62.20,237.70 Q62.50,236.52 62.95,235.44 Q63.40,234.36 63.80,233.47 Q64.20,232.58 64.60,231.99 Q65.00,231.40 65.40,231.99 Z" fill="url(#mg)"/>
<ellipse cx="65.14" cy="244.45" rx="0.72" ry="0.83" fill="#8a8a8a" opacity="0.45"/>
<ellipse cx="65.81" cy="243.98" rx="0.67" ry="1.17" fill="#8a8a8a" opacity="0.45"/>
<ellipse cx="63.94" cy="237.09" rx="0.65" ry="0.63" fill="#8a8a8a" opacity="0.45"/>
<ellipse cx="63.21" cy="246.43" rx="0.73" ry="1.32" fill="#8a8a8a" opacity="0.45"/>
<ellipse cx="66.29" cy="237.55" rx="1.09" ry="1.36" fill="#8a8a8a" opacity="0.45"/>
<ellipse cx="62.78" cy="248.33" rx="0.76" ry="0.98" fill="#8a8a8a" opacity="0.45"/>
<ellipse cx="66.70" cy="242.19" rx="1.11" ry="1.94" fill="#f8f8f8" opacity="0.7"/>
<ellipse cx="65.80" cy="243.96" rx="1.39" ry="1.82" fill="#f8f8f8" opacity="0.7"/>
<path d="M72.90,249.60 l-1.2,4.2 M77.70,249.60 l1.2,4.2 M73.00,238.30 l-1.3,1.4 M77.60,238.30 l1.3,1.4" stroke="#a8a8a8" stroke-width="1.0"/>
<path d="M75.30,250.60 l0.3,3.8" stroke="#888" stroke-width="0.9"/>
<path d="M75.70,231.99 Q76.10,232.58 76.50,233.47 Q76.90,234.36 77.35,235.44 Q77.80,236.52 78.10,237.70 Q78.40,238.89 78.62,240.26 Q78.85,241.64 78.97,243.42 Q79.10,245.19 79.05,246.57 Q79.00,247.95 78.65,249.03 Q78.30,250.12 77.40,250.61 Q76.50,251.10 75.90,251.20 Q75.30,251.30 74.70,251.20 Q74.10,251.10 73.20,250.61 Q72.30,250.12 71.95,249.03 Q71.60,247.95 71.55,246.57 Q71.50,245.19 71.62,243.42 Q71.75,241.64 71.97,240.26 Q72.20,238.89 72.50,237.70 Q72.80,236.52 73.25,235.44 Q73.70,234.36 74.10,233.47 Q74.50,232.58 74.90,231.99 Q75.30,231.40 75.70,231.99 Z" fill="url(#mg)"/>
<ellipse cx="75.84" cy="238.37" rx="0.87" ry="0.96" fill="#8a8a8a" opacity="0.45"/>
<ellipse cx="73.76" cy="237.57" rx="0.82" ry="0.70" fill="#8a8a8a" opacity="0.45"/>
<ellipse cx="75.00" cy="245.34" rx="0.77" ry="0.81" fill="#8a8a8a" opacity="0.45"/>
<ellipse cx="75.73" cy="242.21" rx="0.97" ry="1.02" fill="#8a8a8a" opacity="0.45"/>
<ellipse cx="77.89" cy="248.93" rx="0.94" ry="0.79" fill="#8a8a8a" opacity="0.45"/>
<ellipse cx="73.29" cy="248.17" rx="0.97" ry="1.10" fill="#8a8a8a" opacity="0.45"/>
<ellipse cx="74.79" cy="242.40" rx="1.21" ry="1.56" fill="#f8f8f8" opacity="0.7"/>
<ellipse cx="75.63" cy="245.25" rx="1.25" ry="1.19" fill="#f8f8f8" opacity="0.7"/>
<path d="M83.30,249.60 l-1.2,4.2 M88.10,249.60 l1.2,4.2 M83.40,238.30 l-1.3,1.4 M88.00,238.30 l1.3,1.4" stroke="#a8a8a8" stroke-width="1.0"/>
<path d="M85.70,250.60 l0.3,3.8" stroke="#888" stroke-width="0.9"/>
<path d="M86.10,231.99 Q86.50,232.58 86.90,233.47 Q87.30,234.36 87.75,235.44 Q88.20,236.52 88.50,237.70 Q88.80,238.89 89.03,240.26 Q89.25,241.64 89.38,243.42 Q89.50,245.19 89.45,246.57 Q89.40,247.95 89.05,249.03 Q88.70,250.12 87.80,250.61 Q86.90,251.10 86.30,251.20 Q85.70,251.30 85.10,251.20 Q84.50,251.10 83.60,250.61 Q82.70,250.12 82.35,249.03 Q82.00,247.95 81.95,246.57 Q81.90,245.19 82.03,243.42 Q82.15,241.64 82.38,240.26 Q82.60,238.89 82.90,237.70 Q83.20,236.52 83.65,235.44 Q84.10,234.36 84.50,233.47 Q84.90,232.58 85.30,231.99 Q85.70,231.40 86.10,231.99 Z" fill="url(#mg)"/>
<ellipse cx="84.39" cy="249.27" rx="1.05" ry="1.30" fill="#8a8a8a" opacity="0.45"/>
<ellipse cx="83.31" cy="237.68" rx="0.66" ry="0.94" fill="#8a8a8a" opacity="0.45"/>
<ellipse cx="86.34" cy="238.21" rx="0.82" ry="0.66" fill="#8a8a8a" opacity="0.45"/>
<ellipse cx="83.55" cy="245.44" rx="0.83" ry="1.10" fill="#8a8a8a" opacity="0.45"/>
<ellipse cx="85.04" cy="242.95" rx="0.63" ry="0.87" fill="#8a8a8a" opacity="0.45"/>
<ellipse cx="86.97" cy="247.49" rx="0.54" ry="0.70" fill="#8a8a8a" opacity="0.45"/>
<ellipse cx="86.81" cy="245.18" rx="1.26" ry="1.21" fill="#f8f8f8" opacity="0.7"/>
<ellipse cx="85.43" cy="242.30" rx="1.29" ry="1.37" fill="#f8f8f8" opacity="0.7"/>
<path d="M95.80,249.60 l-1.2,4.2 M100.60,249.60 l1.2,4.2 M95.90,238.30 l-1.3,1.4 M100.50,238.30 l1.3,1.4" stroke="#a8a8a8" stroke-width="1.0"/>
<path d="M98.20,250.60 l0.3,3.8" stroke="#888" stroke-width="0.9"/>
<path d="M98.60,231.99 Q99.00,232.58 99.40,233.47 Q99.80,234.36 100.25,235.44 Q100.70,236.52 101.00,237.70 Q101.30,238.89 101.53,240.26 Q101.75,241.64 101.88,243.42 Q102.00,245.19 101.95,246.57 Q101.90,247.95 101.55,249.03 Q101.20,250.12 100.30,250.61 Q99.40,251.10 98.80,251.20 Q98.20,251.30 97.60,251.20 Q97.00,251.10 96.10,250.61 Q95.20,250.12 94.85,249.03 Q94.50,247.95 94.45,246.57 Q94.40,245.19 94.53,243.42 Q94.65,241.64 94.88,240.26 Q95.10,238.89 95.40,237.70 Q95.70,236.52 96.15,235.44 Q96.60,234.36 97.00,233.47 Q97.40,232.58 97.80,231.99 Q98.20,231.40 98.60,231.99 Z" fill="url(#mg)"/>
<ellipse cx="99.00" cy="249.39" rx="0.70" ry="1.04" fill="#8a8a8a" opacity="0.45"/>
<ellipse cx="99.48" cy="248.53" rx="0.76" ry="0.90" fill="#8a8a8a" opacity="0.45"/>
<ellipse cx="96.10" cy="247.95" rx="0.55" ry="0.67" fill="#8a8a8a" opacity="0.45"/>
<ellipse cx="98.53" cy="243.03" rx="0.91" ry="0.84" fill="#8a8a8a" opacity="0.45"/>
<ellipse cx="99.63" cy="237.88" rx="0.63" ry="1.13" fill="#8a8a8a" opacity="0.45"/>
<ellipse cx="96.02" cy="240.75" rx="0.93" ry="1.16" fill="#8a8a8a" opacity="0.45"/>
<ellipse cx="97.42" cy="241.39" rx="1.01" ry="1.73" fill="#f8f8f8" opacity="0.7"/>
<ellipse cx="97.72" cy="241.19" rx="1.23" ry="1.57" fill="#f8f8f8" opacity="0.7"/>
<path d="M106.20,249.60 l-1.2,4.2 M111.00,249.60 l1.2,4.2 M106.30,238.30 l-1.3,1.4 M110.90,238.30 l1.3,1.4" stroke="#a8a8a8" stroke-width="1.0"/>
<path d="M108.60,250.60 l0.3,3.8" stroke="#888" stroke-width="0.9"/>
<path d="M109.00,231.99 Q109.40,232.58 109.80,233.47 Q110.20,234.36 110.65,235.44 Q111.10,236.52 111.40,237.70 Q111.70,238.89 111.92,240.26 Q112.15,241.64 112.27,243.42 Q112.40,245.19 112.35,246.57 Q112.30,247.95 111.95,249.03 Q111.60,250.12 110.70,250.61 Q109.80,251.10 109.20,251.20 Q108.60,251.30 108.00,251.20 Q107.40,251.10 106.50,250.61 Q105.60,250.12 105.25,249.03 Q104.90,247.95 104.85,246.57 Q104.80,245.19 104.92,243.42 Q105.05,241.64 105.28,240.26 Q105.50,238.89 105.80,237.70 Q106.10,236.52 106.55,235.44 Q107.00,234.36 107.40,233.47 Q107.80,232.58 108.20,231.99 Q108.60,231.40 109.00,231.99 Z" fill="url(#mg)"/>
<ellipse cx="110.78" cy="248.77" rx="1.05" ry="0.95" fill="#8a8a8a" opacity="0.45"/>
<ellipse cx="110.18" cy="240.76" rx="0.69" ry="0.92" fill="#8a8a8a" opacity="0.45"/>
<ellipse cx="110.86" cy="248.20" rx="0.65" ry="0.89" fill="#8a8a8a" opacity="0.45"/>
<ellipse cx="107.90" cy="241.50" rx="0.74" ry="0.91" fill="#8a8a8a" opacity="0.45"/>
<ellipse cx="107.01" cy="244.02" rx="0.98" ry="1.03" fill="#8a8a8a" opacity="0.45"/>
<ellipse cx="110.35" cy="244.01" rx="0.61" ry="1.21" fill="#8a8a8a" opacity="0.45"/>
<ellipse cx="109.97" cy="242.48" rx="0.81" ry="1.52" fill="#f8f8f8" opacity="0.7"/>
<ellipse cx="108.76" cy="244.74" rx="1.38" ry="1.65" fill="#f8f8f8" opacity="0.7"/>
<path d="M116.20,249.60 l-1.2,4.2 M121.00,249.60 l1.2,4.2 M116.30,238.30 l-1.3,1.4 M120.90,238.30 l1.3,1.4" stroke="#a8a8a8" stroke-width="1.0"/>
<path d="M118.60,250.60 l0.3,3.8" stroke="#888" stroke-width="0.9"/>
<path d="M119.00,231.99 Q119.40,232.58 119.80,233.47 Q120.20,234.36 120.65,235.44 Q121.10,236.52 121.40,237.70 Q121.70,238.89 121.92,240.26 Q122.15,241.64 122.27,243.42 Q122.40,245.19 122.35,246.57 Q122.30,247.95 121.95,249.03 Q121.60,250.12 120.70,250.61 Q119.80,251.10 119.20,251.20 Q118.60,251.30 118.00,251.20 Q117.40,251.10 116.50,250.61 Q115.60,250.12 115.25,249.03 Q114.90,247.95 114.85,246.57 Q114.80,245.19 114.92,243.42 Q115.05,241.64 115.28,240.26 Q115.50,238.89 115.80,237.70 Q116.10,236.52 116.55,235.44 Q117.00,234.36 117.40,233.47 Q117.80,232.58 118.20,231.99 Q118.60,231.40 119.00,231.99 Z" fill="url(#mg)"/>
<ellipse cx="120.18" cy="237.72" rx="0.83" ry="1.23" fill="#8a8a8a" opacity="0.45"/>
<ellipse cx="116.44" cy="237.95" rx="0.94" ry="1.32" fill="#8a8a8a" opacity="0.45"/>
<ellipse cx="116.44" cy="244.91" rx="0.59" ry="1.20" fill="#8a8a8a" opacity="0.45"/>
<ellipse cx="119.37" cy="240.01" rx="0.63" ry="1.21" fill="#8a8a8a" opacity="0.45"/>
<ellipse cx="118.71" cy="246.56" rx="0.74" ry="0.87" fill="#8a8a8a" opacity="0.45"/>
<ellipse cx="121.04" cy="245.39" rx="0.80" ry="1.03" fill="#8a8a8a" opacity="0.45"/>
<ellipse cx="119.40" cy="245.85" rx="1.35" ry="1.41" fill="#f8f8f8" opacity="0.7"/>
<ellipse cx="119.77" cy="245.52" rx="1.31" ry="1.81" fill="#f8f8f8" opacity="0.7"/>
<path d="M126.60,249.60 l-1.2,4.2 M131.40,249.60 l1.2,4.2 M126.70,238.30 l-1.3,1.4 M131.30,238.30 l1.3,1.4" stroke="#a8a8a8" stroke-width="1.0"/>
<path d="M129.00,250.60 l0.3,3.8" stroke="#888" stroke-width="0.9"/>
<path d="M129.40,231.99 Q129.80,232.58 130.20,233.47 Q130.60,234.36 131.05,235.44 Q131.50,236.52 131.80,237.70 Q132.10,238.89 132.32,240.26 Q132.55,241.64 132.68,243.42 Q132.80,245.19 132.75,246.57 Q132.70,247.95 132.35,249.03 Q132.00,250.12 131.10,250.61 Q130.20,251.10 129.60,251.20 Q129.00,251.30 128.40,251.20 Q127.80,251.10 126.90,250.61 Q126.00,250.12 125.65,249.03 Q125.30,247.95 125.25,246.57 Q125.20,245.19 125.33,243.42 Q125.45,241.64 125.68,240.26 Q125.90,238.89 126.20,237.70 Q126.50,236.52 126.95,235.44 Q127.40,234.36 127.80,233.47 Q128.20,232.58 128.60,231.99 Q129.00,231.40 129.40,231.99 Z" fill="url(#mg)"/>
<ellipse cx="130.74" cy="248.12" rx="1.07" ry="1.11" fill="#8a8a8a" opacity="0.45"/>
<ellipse cx="129.12" cy="245.87" rx="0.98" ry="0.94" fill="#8a8a8a" opacity="0.45"/>
<ellipse cx="128.59" cy="238.76" rx="0.94" ry="1.39" fill="#8a8a8a" opacity="0.45"/>
<ellipse cx="128.35" cy="239.03" rx="0.62" ry="0.94" fill="#8a8a8a" opacity="0.45"/>
<ellipse cx="127.92" cy="249.14" rx="0.54" ry="0.85" fill="#8a8a8a" opacity="0.45"/>
<ellipse cx="127.00" cy="245.09" rx="0.97" ry="0.74" fill="#8a8a8a" opacity="0.45"/>
<ellipse cx="127.42" cy="243.88" rx="1.15" ry="1.91" fill="#f8f8f8" opacity="0.7"/>
<ellipse cx="127.33" cy="241.12" rx="0.91" ry="1.22" fill="#f8f8f8" opacity="0.7"/>
<ellipse cx="129.00" cy="243.61" rx="2.6" ry="3.6" fill="#6060b8" opacity="0.5" transform="rotate(0 129.00 243.61)"/>
<rect x="142.5" y="158.8" width="73.5" height="26.30" fill="#1a1a1a"/>
<path d="M148.00,182.10 l-1.6,2.6 M152.80,182.10 l1.6,2.6" stroke="#d0d0e8" stroke-width="1.0"/>
<path d="M150.80,160.68 Q151.20,161.36 151.60,162.37 Q152.00,163.39 152.45,164.63 Q152.90,165.88 153.20,167.23 Q153.50,168.59 153.73,170.17 Q153.95,171.75 154.08,173.79 Q154.20,175.82 154.15,177.40 Q154.10,178.98 153.75,180.23 Q153.40,181.47 152.50,182.03 Q151.60,182.60 151.00,182.71 Q150.40,182.83 149.80,182.71 Q149.20,182.60 148.30,182.03 Q147.40,181.47 147.05,180.23 Q146.70,178.98 146.65,177.40 Q146.60,175.82 146.72,173.79 Q146.85,171.75 147.07,170.17 Q147.30,168.59 147.60,167.23 Q147.90,165.88 148.35,164.63 Q148.80,163.39 149.20,162.37 Q149.60,161.36 150.00,160.68 Q150.40,160.00 150.80,160.68 Z" fill="url(#hg)"/>
<path d="M150.40,160.30 L151.70,165.30 L149.10,165.30 Z" fill="#c0d4ec" opacity="0.85"/>
<ellipse cx="148.20" cy="167.23" rx="1.3" ry="1.2" fill="#d8d040"/>
<ellipse cx="152.60" cy="167.23" rx="1.3" ry="1.2" fill="#50c0e0"/>
<ellipse cx="150.40" cy="179.28" rx="3.4" ry="3.6" fill="#f4f4fa"/>
<ellipse cx="151.40" cy="178.80" rx="0.9" ry="1.3" fill="#3848b0" opacity="0.85"/>
<ellipse cx="148.80" cy="181.21" rx="0.9" ry="0.8" fill="#3848b0" opacity="0.7"/>
<ellipse cx="150.40" cy="172.05" rx="2.9" ry="3.0" fill="#e82222"/>
<path d="M157.00,182.10 l-1.6,2.6 M161.80,182.10 l1.6,2.6" stroke="#d0d0e8" stroke-width="1.0"/>
<path d="M159.80,160.68 Q160.20,161.36 160.60,162.37 Q161.00,163.39 161.45,164.63 Q161.90,165.88 162.20,167.23 Q162.50,168.59 162.73,170.17 Q162.95,171.75 163.08,173.79 Q163.20,175.82 163.15,177.40 Q163.10,178.98 162.75,180.23 Q162.40,181.47 161.50,182.03 Q160.60,182.60 160.00,182.71 Q159.40,182.83 158.80,182.71 Q158.20,182.60 157.30,182.03 Q156.40,181.47 156.05,180.23 Q155.70,178.98 155.65,177.40 Q155.60,175.82 155.72,173.79 Q155.85,171.75 156.07,170.17 Q156.30,168.59 156.60,167.23 Q156.90,165.88 157.35,164.63 Q157.80,163.39 158.20,162.37 Q158.60,161.36 159.00,160.68 Q159.40,160.00 159.80,160.68 Z" fill="url(#hg)"/>
<path d="M159.40,160.30 L160.70,165.30 L158.10,165.30 Z" fill="#c0d4ec" opacity="0.85"/>
<ellipse cx="157.20" cy="167.23" rx="1.3" ry="1.2" fill="#d8d040"/>
<ellipse cx="161.60" cy="167.23" rx="1.3" ry="1.2" fill="#50c0e0"/>
<ellipse cx="159.40" cy="179.28" rx="3.4" ry="3.6" fill="#f4f4fa"/>
<ellipse cx="160.40" cy="178.80" rx="0.9" ry="1.3" fill="#3848b0" opacity="0.85"/>
<ellipse cx="157.80" cy="181.21" rx="0.9" ry="0.8" fill="#3848b0" opacity="0.7"/>
<ellipse cx="159.40" cy="172.05" rx="4.0" ry="5.0" fill="#e82222"/>
<path d="M165.80,182.10 l-1.6,2.6 M170.60,182.10 l1.6,2.6" stroke="#d0d0e8" stroke-width="1.0"/>
<path d="M168.60,160.68 Q169.00,161.36 169.40,162.37 Q169.80,163.39 170.25,164.63 Q170.70,165.88 171.00,167.23 Q171.30,168.59 171.52,170.17 Q171.75,171.75 171.88,173.79 Q172.00,175.82 171.95,177.40 Q171.90,178.98 171.55,180.23 Q171.20,181.47 170.30,182.03 Q169.40,182.60 168.80,182.71 Q168.20,182.83 167.60,182.71 Q167.00,182.60 166.10,182.03 Q165.20,181.47 164.85,180.23 Q164.50,178.98 164.45,177.40 Q164.40,175.82 164.52,173.79 Q164.65,171.75 164.88,170.17 Q165.10,168.59 165.40,167.23 Q165.70,165.88 166.15,164.63 Q166.60,163.39 167.00,162.37 Q167.40,161.36 167.80,160.68 Q168.20,160.00 168.60,160.68 Z" fill="url(#hg)"/>
<path d="M168.20,160.30 L169.50,165.30 L166.90,165.30 Z" fill="#c0d4ec" opacity="0.85"/>
<ellipse cx="166.00" cy="167.23" rx="1.3" ry="1.2" fill="#d8d040"/>
<ellipse cx="170.40" cy="167.23" rx="1.3" ry="1.2" fill="#50c0e0"/>
<ellipse cx="168.20" cy="179.28" rx="3.4" ry="3.6" fill="#f4f4fa"/>
<ellipse cx="169.20" cy="178.80" rx="0.9" ry="1.3" fill="#3848b0" opacity="0.85"/>
<ellipse cx="166.60" cy="181.21" rx="0.9" ry="0.8" fill="#3848b0" opacity="0.7"/>
<ellipse cx="168.20" cy="172.05" rx="3.7" ry="4.0" fill="#e82222"/>
<path d="M175.00,182.10 l-1.6,2.6 M179.80,182.10 l1.6,2.6" stroke="#d0d0e8" stroke-width="1.0"/>
<path d="M177.80,160.68 Q178.20,161.36 178.60,162.37 Q179.00,163.39 179.45,164.63 Q179.90,165.88 180.20,167.23 Q180.50,168.59 180.73,170.17 Q180.95,171.75 181.08,173.79 Q181.20,175.82 181.15,177.40 Q181.10,178.98 180.75,180.23 Q180.40,181.47 179.50,182.03 Q178.60,182.60 178.00,182.71 Q177.40,182.83 176.80,182.71 Q176.20,182.60 175.30,182.03 Q174.40,181.47 174.05,180.23 Q173.70,178.98 173.65,177.40 Q173.60,175.82 173.72,173.79 Q173.85,171.75 174.07,170.17 Q174.30,168.59 174.60,167.23 Q174.90,165.88 175.35,164.63 Q175.80,163.39 176.20,162.37 Q176.60,161.36 177.00,160.68 Q177.40,160.00 177.80,160.68 Z" fill="url(#hg)"/>
<path d="M177.40,160.30 L178.70,165.30 L176.10,165.30 Z" fill="#c0d4ec" opacity="0.85"/>
<ellipse cx="175.20" cy="167.23" rx="1.3" ry="1.2" fill="#d8d040"/>
<ellipse cx="179.60" cy="167.23" rx="1.3" ry="1.2" fill="#50c0e0"/>
<ellipse cx="177.40" cy="179.28" rx="3.4" ry="3.6" fill="#f4f4fa"/>
<ellipse cx="178.40" cy="178.80" rx="0.9" ry="1.3" fill="#3848b0" opacity="0.85"/>
<ellipse cx="175.80" cy="181.21" rx="0.9" ry="0.8" fill="#3848b0" opacity="0.7"/>
<ellipse cx="177.40" cy="172.05" rx="3.7" ry="4.2" fill="#e82222"/>
<path d="M198.60,182.10 l-1.6,2.6 M203.40,182.10 l1.6,2.6" stroke="#d0d0e8" stroke-width="1.0"/>
<path d="M201.40,160.68 Q201.80,161.36 202.20,162.37 Q202.60,163.39 203.05,164.63 Q203.50,165.88 203.80,167.23 Q204.10,168.59 204.32,170.17 Q204.55,171.75 204.68,173.79 Q204.80,175.82 204.75,177.40 Q204.70,178.98 204.35,180.23 Q204.00,181.47 203.10,182.03 Q202.20,182.60 201.60,182.71 Q201.00,182.83 200.40,182.71 Q199.80,182.60 198.90,182.03 Q198.00,181.47 197.65,180.23 Q197.30,178.98 197.25,177.40 Q197.20,175.82 197.32,173.79 Q197.45,171.75 197.68,170.17 Q197.90,168.59 198.20,167.23 Q198.50,165.88 198.95,164.63 Q199.40,163.39 199.80,162.37 Q200.20,161.36 200.60,160.68 Q201.00,160.00 201.40,160.68 Z" fill="url(#hg)"/>
<path d="M201.00,160.30 L202.30,165.30 L199.70,165.30 Z" fill="#c0d4ec" opacity="0.85"/>
<ellipse cx="198.80" cy="167.23" rx="1.3" ry="1.2" fill="#d8d040"/>
<ellipse cx="203.20" cy="167.23" rx="1.3" ry="1.2" fill="#50c0e0"/>
<ellipse cx="201.00" cy="179.28" rx="3.4" ry="3.6" fill="#f4f4fa"/>
<ellipse cx="202.00" cy="178.80" rx="0.9" ry="1.3" fill="#3848b0" opacity="0.85"/>
<ellipse cx="199.40" cy="181.21" rx="0.9" ry="0.8" fill="#3848b0" opacity="0.7"/>
<ellipse cx="201.00" cy="172.05" rx="3.9" ry="4.4" fill="#e82222"/>
<path d="M208.00,182.10 l-1.6,2.6 M212.80,182.10 l1.6,2.6" stroke="#d0d0e8" stroke-width="1.0"/>
<path d="M210.80,160.68 Q211.20,161.36 211.60,162.37 Q212.00,163.39 212.45,164.63 Q212.90,165.88 213.20,167.23 Q213.50,168.59 213.73,170.17 Q213.95,171.75 214.08,173.79 Q214.20,175.82 214.15,177.40 Q214.10,178.98 213.75,180.23 Q213.40,181.47 212.50,182.03 Q211.60,182.60 211.00,182.71 Q210.40,182.83 209.80,182.71 Q209.20,182.60 208.30,182.03 Q207.40,181.47 207.05,180.23 Q206.70,178.98 206.65,177.40 Q206.60,175.82 206.72,173.79 Q206.85,171.75 207.07,170.17 Q207.30,168.59 207.60,167.23 Q207.90,165.88 208.35,164.63 Q208.80,163.39 209.20,162.37 Q209.60,161.36 210.00,160.68 Q210.40,160.00 210.80,160.68 Z" fill="url(#hg)"/>
<path d="M210.40,160.30 L211.70,165.30 L209.10,165.30 Z" fill="#c0d4ec" opacity="0.85"/>
<ellipse cx="208.20" cy="167.23" rx="1.3" ry="1.2" fill="#d8d040"/>
<ellipse cx="212.60" cy="167.23" rx="1.3" ry="1.2" fill="#50c0e0"/>
<ellipse cx="210.40" cy="179.28" rx="3.4" ry="3.6" fill="#f4f4fa"/>
<ellipse cx="211.40" cy="178.80" rx="0.9" ry="1.3" fill="#3848b0" opacity="0.85"/>
<ellipse cx="208.80" cy="181.21" rx="0.9" ry="0.8" fill="#3848b0" opacity="0.7"/>
<ellipse cx="210.40" cy="172.05" rx="3.9" ry="4.6" fill="#e82222"/>
<path d="M192.00,160.00 C198.80,164.82 198.80,178.80 192.50,184.10 C185.40,178.80 185.40,164.82 192.00,160.00 Z" fill="#4a5ad0"/>
<path d="M192.30,161.00 C198.20,165.30 198.20,178.32 192.60,183.10 C186.60,178.32 186.60,165.30 192.30,161.00 Z" fill="#e42020"/>
<ellipse cx="192.50" cy="171.33" rx="1.3" ry="1.1" fill="#fff" opacity="0.85"/>
<rect x="142.5" y="194.3" width="73.50" height="26.10" fill="#1c1c1c"/>
<path d="M145.20,214.30 l-1.2,4.2 M150.00,214.30 l1.2,4.2 M145.30,203.00 l-1.3,1.4 M149.90,203.00 l1.3,1.4" stroke="#a8a8a8" stroke-width="1.0"/>
<path d="M147.60,215.30 l0.3,3.8" stroke="#888" stroke-width="0.9"/>
<path d="M148.00,196.69 Q148.40,197.28 148.80,198.17 Q149.20,199.06 149.65,200.14 Q150.10,201.22 150.40,202.40 Q150.70,203.59 150.93,204.97 Q151.15,206.34 151.28,208.12 Q151.40,209.89 151.35,211.27 Q151.30,212.65 150.95,213.73 Q150.60,214.81 149.70,215.31 Q148.80,215.80 148.20,215.90 Q147.60,216.00 147.00,215.90 Q146.40,215.80 145.50,215.31 Q144.60,214.81 144.25,213.73 Q143.90,212.65 143.85,211.27 Q143.80,209.89 143.92,208.12 Q144.05,206.34 144.27,204.97 Q144.50,203.59 144.80,202.40 Q145.10,201.22 145.55,200.14 Q146.00,199.06 146.40,198.17 Q146.80,197.28 147.20,196.69 Q147.60,196.10 148.00,196.69 Z" fill="url(#mg)"/>
<ellipse cx="146.22" cy="210.66" rx="0.86" ry="0.78" fill="#8a8a8a" opacity="0.45"/>
<ellipse cx="145.96" cy="205.16" rx="0.60" ry="1.21" fill="#8a8a8a" opacity="0.45"/>
<ellipse cx="146.62" cy="208.53" rx="0.99" ry="0.98" fill="#8a8a8a" opacity="0.45"/>
<ellipse cx="146.35" cy="212.80" rx="1.05" ry="0.87" fill="#8a8a8a" opacity="0.45"/>
<ellipse cx="147.85" cy="213.68" rx="0.79" ry="0.78" fill="#8a8a8a" opacity="0.45"/>
<ellipse cx="145.26" cy="213.56" rx="0.98" ry="0.91" fill="#8a8a8a" opacity="0.45"/>
<ellipse cx="147.70" cy="209.03" rx="0.96" ry="1.99" fill="#f8f8f8" opacity="0.7"/>
<ellipse cx="148.17" cy="206.84" rx="0.81" ry="1.47" fill="#f8f8f8" opacity="0.7"/>
<path d="M154.80,214.30 l-1.2,4.2 M159.60,214.30 l1.2,4.2 M154.90,203.00 l-1.3,1.4 M159.50,203.00 l1.3,1.4" stroke="#a8a8a8" stroke-width="1.0"/>
<path d="M157.20,215.30 l0.3,3.8" stroke="#888" stroke-width="0.9"/>
<path d="M157.60,196.69 Q158.00,197.28 158.40,198.17 Q158.80,199.06 159.25,200.14 Q159.70,201.22 160.00,202.40 Q160.30,203.59 160.52,204.97 Q160.75,206.34 160.88,208.12 Q161.00,209.89 160.95,211.27 Q160.90,212.65 160.55,213.73 Q160.20,214.81 159.30,215.31 Q158.40,215.80 157.80,215.90 Q157.20,216.00 156.60,215.90 Q156.00,215.80 155.10,215.31 Q154.20,214.81 153.85,213.73 Q153.50,212.65 153.45,211.27 Q153.40,209.89 153.52,208.12 Q153.65,206.34 153.88,204.97 Q154.10,203.59 154.40,202.40 Q154.70,201.22 155.15,200.14 Q155.60,199.06 156.00,198.17 Q156.40,197.28 156.80,196.69 Q157.20,196.10 157.60,196.69 Z" fill="url(#mg)"/>
<ellipse cx="156.53" cy="211.66" rx="0.93" ry="1.08" fill="#8a8a8a" opacity="0.45"/>
<ellipse cx="155.42" cy="203.59" rx="0.69" ry="0.81" fill="#8a8a8a" opacity="0.45"/>
<ellipse cx="159.12" cy="208.12" rx="0.88" ry="1.39" fill="#8a8a8a" opacity="0.45"/>
<ellipse cx="155.99" cy="208.36" rx="0.59" ry="1.22" fill="#8a8a8a" opacity="0.45"/>
<ellipse cx="154.61" cy="211.97" rx="1.01" ry="1.26" fill="#8a8a8a" opacity="0.45"/>
<ellipse cx="155.03" cy="205.02" rx="0.93" ry="0.68" fill="#8a8a8a" opacity="0.45"/>
<ellipse cx="157.13" cy="208.66" rx="1.37" ry="1.59" fill="#f8f8f8" opacity="0.7"/>
<ellipse cx="158.49" cy="207.36" rx="1.27" ry="1.42" fill="#f8f8f8" opacity="0.7"/>
<path d="M165.40,214.30 l-1.2,4.2 M170.20,214.30 l1.2,4.2 M165.50,203.00 l-1.3,1.4 M170.10,203.00 l1.3,1.4" stroke="#a8a8a8" stroke-width="1.0"/>
<path d="M167.80,215.30 l0.3,3.8" stroke="#888" stroke-width="0.9"/>
<path d="M168.20,196.69 Q168.60,197.28 169.00,198.17 Q169.40,199.06 169.85,200.14 Q170.30,201.22 170.60,202.40 Q170.90,203.59 171.12,204.97 Q171.35,206.34 171.48,208.12 Q171.60,209.89 171.55,211.27 Q171.50,212.65 171.15,213.73 Q170.80,214.81 169.90,215.31 Q169.00,215.80 168.40,215.90 Q167.80,216.00 167.20,215.90 Q166.60,215.80 165.70,215.31 Q164.80,214.81 164.45,213.73 Q164.10,212.65 164.05,211.27 Q164.00,209.89 164.12,208.12 Q164.25,206.34 164.48,204.97 Q164.70,203.59 165.00,202.40 Q165.30,201.22 165.75,200.14 Q166.20,199.06 166.60,198.17 Q167.00,197.28 167.40,196.69 Q167.80,196.10 168.20,196.69 Z" fill="url(#mg)"/>
<ellipse cx="169.97" cy="202.76" rx="1.00" ry="0.77" fill="#8a8a8a" opacity="0.45"/>
<ellipse cx="168.03" cy="208.24" rx="0.59" ry="1.27" fill="#8a8a8a" opacity="0.45"/>
<ellipse cx="166.82" cy="205.53" rx="0.55" ry="0.84" fill="#8a8a8a" opacity="0.45"/>
<ellipse cx="167.63" cy="210.63" rx="0.72" ry="1.15" fill="#8a8a8a" opacity="0.45"/>
<ellipse cx="165.75" cy="206.59" rx="0.78" ry="1.37" fill="#8a8a8a" opacity="0.45"/>
<ellipse cx="169.51" cy="209.86" rx="0.51" ry="0.90" fill="#8a8a8a" opacity="0.45"/>
<ellipse cx="168.56" cy="206.84" rx="1.14" ry="1.46" fill="#f8f8f8" opacity="0.7"/>
<ellipse cx="166.04" cy="212.78" rx="1.28" ry="1.21" fill="#f8f8f8" opacity="0.7"/>
<path d="M176.00,214.30 l-1.2,4.2 M180.80,214.30 l1.2,4.2 M176.10,203.00 l-1.3,1.4 M180.70,203.00 l1.3,1.4" stroke="#a8a8a8" stroke-width="1.0"/>
<path d="M178.40,215.30 l0.3,3.8" stroke="#888" stroke-width="0.9"/>
<path d="M178.80,196.69 Q179.20,197.28 179.60,198.17 Q180.00,199.06 180.45,200.14 Q180.90,201.22 181.20,202.40 Q181.50,203.59 181.73,204.97 Q181.95,206.34 182.08,208.12 Q182.20,209.89 182.15,211.27 Q182.10,212.65 181.75,213.73 Q181.40,214.81 180.50,215.31 Q179.60,215.80 179.00,215.90 Q178.40,216.00 177.80,215.90 Q177.20,215.80 176.30,215.31 Q175.40,214.81 175.05,213.73 Q174.70,212.65 174.65,211.27 Q174.60,209.89 174.72,208.12 Q174.85,206.34 175.07,204.97 Q175.30,203.59 175.60,202.40 Q175.90,201.22 176.35,200.14 Q176.80,199.06 177.20,198.17 Q177.60,197.28 178.00,196.69 Q178.40,196.10 178.80,196.69 Z" fill="url(#mg)"/>
<ellipse cx="179.00" cy="205.28" rx="0.73" ry="1.03" fill="#8a8a8a" opacity="0.45"/>
<ellipse cx="177.35" cy="205.87" rx="0.74" ry="1.13" fill="#8a8a8a" opacity="0.45"/>
<ellipse cx="177.13" cy="204.14" rx="0.94" ry="0.86" fill="#8a8a8a" opacity="0.45"/>
<ellipse cx="180.71" cy="208.71" rx="0.93" ry="0.87" fill="#8a8a8a" opacity="0.45"/>
<ellipse cx="180.10" cy="202.78" rx="0.58" ry="0.68" fill="#8a8a8a" opacity="0.45"/>
<ellipse cx="179.32" cy="210.55" rx="0.61" ry="0.92" fill="#8a8a8a" opacity="0.45"/>
<ellipse cx="179.61" cy="209.64" rx="0.85" ry="1.23" fill="#f8f8f8" opacity="0.7"/>
<ellipse cx="177.17" cy="205.94" rx="1.04" ry="1.07" fill="#f8f8f8" opacity="0.7"/>
<path d="M188.50,214.30 l-1.2,4.2 M193.30,214.30 l1.2,4.2 M188.60,203.00 l-1.3,1.4 M193.20,203.00 l1.3,1.4" stroke="#a8a8a8" stroke-width="1.0"/>
<path d="M190.90,215.30 l0.3,3.8" stroke="#888" stroke-width="0.9"/>
<path d="M191.30,196.69 Q191.70,197.28 192.10,198.17 Q192.50,199.06 192.95,200.14 Q193.40,201.22 193.70,202.40 Q194.00,203.59 194.23,204.97 Q194.45,206.34 194.58,208.12 Q194.70,209.89 194.65,211.27 Q194.60,212.65 194.25,213.73 Q193.90,214.81 193.00,215.31 Q192.10,215.80 191.50,215.90 Q190.90,216.00 190.30,215.90 Q189.70,215.80 188.80,215.31 Q187.90,214.81 187.55,213.73 Q187.20,212.65 187.15,211.27 Q187.10,209.89 187.22,208.12 Q187.35,206.34 187.57,204.97 Q187.80,203.59 188.10,202.40 Q188.40,201.22 188.85,200.14 Q189.30,199.06 189.70,198.17 Q190.10,197.28 190.50,196.69 Q190.90,196.10 191.30,196.69 Z" fill="url(#mg)"/>
<ellipse cx="193.09" cy="207.00" rx="0.81" ry="1.12" fill="#8a8a8a" opacity="0.45"/>
<ellipse cx="192.29" cy="211.97" rx="0.73" ry="0.87" fill="#8a8a8a" opacity="0.45"/>
<ellipse cx="190.44" cy="201.81" rx="0.74" ry="1.16" fill="#8a8a8a" opacity="0.45"/>
<ellipse cx="193.41" cy="211.57" rx="0.90" ry="1.09" fill="#8a8a8a" opacity="0.45"/>
<ellipse cx="188.40" cy="205.79" rx="0.71" ry="1.12" fill="#8a8a8a" opacity="0.45"/>
<ellipse cx="188.85" cy="206.38" rx="0.81" ry="1.23" fill="#8a8a8a" opacity="0.45"/>
<ellipse cx="192.07" cy="209.78" rx="0.90" ry="1.77" fill="#f8f8f8" opacity="0.7"/>
<ellipse cx="192.35" cy="209.29" rx="1.01" ry="1.50" fill="#f8f8f8" opacity="0.7"/>
<path d="M198.10,214.30 l-1.2,4.2 M202.90,214.30 l1.2,4.2 M198.20,203.00 l-1.3,1.4 M202.80,203.00 l1.3,1.4" stroke="#a8a8a8" stroke-width="1.0"/>
<path d="M200.50,215.30 l0.3,3.8" stroke="#888" stroke-width="0.9"/>
<path d="M200.90,196.69 Q201.30,197.28 201.70,198.17 Q202.10,199.06 202.55,200.14 Q203.00,201.22 203.30,202.40 Q203.60,203.59 203.82,204.97 Q204.05,206.34 204.18,208.12 Q204.30,209.89 204.25,211.27 Q204.20,212.65 203.85,213.73 Q203.50,214.81 202.60,215.31 Q201.70,215.80 201.10,215.90 Q200.50,216.00 199.90,215.90 Q199.30,215.80 198.40,215.31 Q197.50,214.81 197.15,213.73 Q196.80,212.65 196.75,211.27 Q196.70,209.89 196.82,208.12 Q196.95,206.34 197.18,204.97 Q197.40,203.59 197.70,202.40 Q198.00,201.22 198.45,200.14 Q198.90,199.06 199.30,198.17 Q199.70,197.28 200.10,196.69 Q200.50,196.10 200.90,196.69 Z" fill="url(#mg)"/>
<ellipse cx="198.64" cy="210.61" rx="1.09" ry="1.01" fill="#8a8a8a" opacity="0.45"/>
<ellipse cx="201.62" cy="212.15" rx="0.62" ry="1.36" fill="#8a8a8a" opacity="0.45"/>
<ellipse cx="201.16" cy="204.11" rx="0.55" ry="0.80" fill="#8a8a8a" opacity="0.45"/>
<ellipse cx="200.90" cy="210.41" rx="0.70" ry="1.34" fill="#8a8a8a" opacity="0.45"/>
<ellipse cx="199.78" cy="207.45" rx="0.57" ry="1.38" fill="#8a8a8a" opacity="0.45"/>
<ellipse cx="198.61" cy="213.01" rx="0.83" ry="1.05" fill="#8a8a8a" opacity="0.45"/>
<ellipse cx="200.72" cy="207.05" rx="1.35" ry="1.99" fill="#f8f8f8" opacity="0.7"/>
<ellipse cx="201.64" cy="209.70" rx="0.87" ry="1.82" fill="#f8f8f8" opacity="0.7"/>
<path d="M208.30,214.30 l-1.2,4.2 M213.10,214.30 l1.2,4.2 M208.40,203.00 l-1.3,1.4 M213.00,203.00 l1.3,1.4" stroke="#a8a8a8" stroke-width="1.0"/>
<path d="M210.70,215.30 l0.3,3.8" stroke="#888" stroke-width="0.9"/>
<path d="M211.10,196.69 Q211.50,197.28 211.90,198.17 Q212.30,199.06 212.75,200.14 Q213.20,201.22 213.50,202.40 Q213.80,203.59 214.02,204.97 Q214.25,206.34 214.38,208.12 Q214.50,209.89 214.45,211.27 Q214.40,212.65 214.05,213.73 Q213.70,214.81 212.80,215.31 Q211.90,215.80 211.30,215.90 Q210.70,216.00 210.10,215.90 Q209.50,215.80 208.60,215.31 Q207.70,214.81 207.35,213.73 Q207.00,212.65 206.95,211.27 Q206.90,209.89 207.02,208.12 Q207.15,206.34 207.38,204.97 Q207.60,203.59 207.90,202.40 Q208.20,201.22 208.65,200.14 Q209.10,199.06 209.50,198.17 Q209.90,197.28 210.30,196.69 Q210.70,196.10 211.10,196.69 Z" fill="url(#mg)"/>
<ellipse cx="209.60" cy="212.93" rx="0.64" ry="1.06" fill="#8a8a8a" opacity="0.45"/>
<ellipse cx="212.42" cy="203.96" rx="0.83" ry="0.66" fill="#8a8a8a" opacity="0.45"/>
<ellipse cx="208.27" cy="203.89" rx="1.09" ry="1.35" fill="#8a8a8a" opacity="0.45"/>
<ellipse cx="211.52" cy="205.49" rx="0.90" ry="1.19" fill="#8a8a8a" opacity="0.45"/>
<ellipse cx="210.08" cy="209.08" rx="0.98" ry="0.61" fill="#8a8a8a" opacity="0.45"/>
<ellipse cx="209.14" cy="207.52" rx="0.59" ry="0.91" fill="#8a8a8a" opacity="0.45"/>
<ellipse cx="210.95" cy="206.33" rx="1.11" ry="1.26" fill="#f8f8f8" opacity="0.7"/>
<ellipse cx="210.94" cy="207.58" rx="1.19" ry="1.04" fill="#f8f8f8" opacity="0.7"/>
<rect x="142.5" y="229.6" width="83.10" height="26.10" fill="#1c1c1c"/>
<path d="M146.20,249.60 l-1.2,4.2 M151.00,249.60 l1.2,4.2 M146.30,238.30 l-1.3,1.4 M150.90,238.30 l1.3,1.4" stroke="#a8a8a8" stroke-width="1.0"/>
<path d="M148.60,250.60 l0.3,3.8" stroke="#888" stroke-width="0.9"/>
<path d="M149.00,231.99 Q149.40,232.58 149.80,233.47 Q150.20,234.36 150.65,235.44 Q151.10,236.52 151.40,237.70 Q151.70,238.89 151.93,240.26 Q152.15,241.64 152.28,243.42 Q152.40,245.19 152.35,246.57 Q152.30,247.95 151.95,249.03 Q151.60,250.12 150.70,250.61 Q149.80,251.10 149.20,251.20 Q148.60,251.30 148.00,251.20 Q147.40,251.10 146.50,250.61 Q145.60,250.12 145.25,249.03 Q144.90,247.95 144.85,246.57 Q144.80,245.19 144.92,243.42 Q145.05,241.64 145.27,240.26 Q145.50,238.89 145.80,237.70 Q146.10,236.52 146.55,235.44 Q147.00,234.36 147.40,233.47 Q147.80,232.58 148.20,231.99 Q148.60,231.40 149.00,231.99 Z" fill="url(#mg)"/>
<ellipse cx="149.49" cy="238.74" rx="1.08" ry="1.08" fill="#8a8a8a" opacity="0.45"/>
<ellipse cx="148.44" cy="242.10" rx="0.87" ry="1.15" fill="#8a8a8a" opacity="0.45"/>
<ellipse cx="149.94" cy="246.39" rx="0.79" ry="1.40" fill="#8a8a8a" opacity="0.45"/>
<ellipse cx="150.36" cy="247.70" rx="0.75" ry="0.95" fill="#8a8a8a" opacity="0.45"/>
<ellipse cx="148.94" cy="248.33" rx="0.82" ry="1.02" fill="#8a8a8a" opacity="0.45"/>
<ellipse cx="148.25" cy="248.32" rx="0.69" ry="0.64" fill="#8a8a8a" opacity="0.45"/>
<ellipse cx="149.41" cy="247.36" rx="1.24" ry="1.60" fill="#f8f8f8" opacity="0.7"/>
<ellipse cx="149.51" cy="242.67" rx="1.16" ry="1.07" fill="#f8f8f8" opacity="0.7"/>
<path d="M155.20,249.60 l-1.2,4.2 M160.00,249.60 l1.2,4.2 M155.30,238.30 l-1.3,1.4 M159.90,238.30 l1.3,1.4" stroke="#a8a8a8" stroke-width="1.0"/>
<path d="M157.60,250.60 l0.3,3.8" stroke="#888" stroke-width="0.9"/>
<path d="M158.00,231.99 Q158.40,232.58 158.80,233.47 Q159.20,234.36 159.65,235.44 Q160.10,236.52 160.40,237.70 Q160.70,238.89 160.93,240.26 Q161.15,241.64 161.28,243.42 Q161.40,245.19 161.35,246.57 Q161.30,247.95 160.95,249.03 Q160.60,250.12 159.70,250.61 Q158.80,251.10 158.20,251.20 Q157.60,251.30 157.00,251.20 Q156.40,251.10 155.50,250.61 Q154.60,250.12 154.25,249.03 Q153.90,247.95 153.85,246.57 Q153.80,245.19 153.92,243.42 Q154.05,241.64 154.27,240.26 Q154.50,238.89 154.80,237.70 Q155.10,236.52 155.55,235.44 Q156.00,234.36 156.40,233.47 Q156.80,232.58 157.20,231.99 Q157.60,231.40 158.00,231.99 Z" fill="url(#mg)"/>
<ellipse cx="155.65" cy="242.55" rx="0.80" ry="0.92" fill="#8a8a8a" opacity="0.45"/>
<ellipse cx="155.27" cy="245.68" rx="0.82" ry="0.79" fill="#8a8a8a" opacity="0.45"/>
<ellipse cx="156.59" cy="241.90" rx="0.64" ry="0.65" fill="#8a8a8a" opacity="0.45"/>
<ellipse cx="159.74" cy="249.10" rx="0.90" ry="1.29" fill="#8a8a8a" opacity="0.45"/>
<ellipse cx="157.19" cy="247.07" rx="0.63" ry="1.20" fill="#8a8a8a" opacity="0.45"/>
<ellipse cx="157.95" cy="248.31" rx="0.56" ry="1.23" fill="#8a8a8a" opacity="0.45"/>
<ellipse cx="156.25" cy="244.50" rx="1.37" ry="1.00" fill="#f8f8f8" opacity="0.7"/>
<ellipse cx="156.68" cy="242.62" rx="0.99" ry="1.06" fill="#f8f8f8" opacity="0.7"/>
<path d="M164.40,249.60 l-1.2,4.2 M169.20,249.60 l1.2,4.2 M164.50,238.30 l-1.3,1.4 M169.10,238.30 l1.3,1.4" stroke="#a8a8a8" stroke-width="1.0"/>
<path d="M166.80,250.60 l0.3,3.8" stroke="#888" stroke-width="0.9"/>
<path d="M167.20,231.99 Q167.60,232.58 168.00,233.47 Q168.40,234.36 168.85,235.44 Q169.30,236.52 169.60,237.70 Q169.90,238.89 170.12,240.26 Q170.35,241.64 170.48,243.42 Q170.60,245.19 170.55,246.57 Q170.50,247.95 170.15,249.03 Q169.80,250.12 168.90,250.61 Q168.00,251.10 167.40,251.20 Q166.80,251.30 166.20,251.20 Q165.60,251.10 164.70,250.61 Q163.80,250.12 163.45,249.03 Q163.10,247.95 163.05,246.57 Q163.00,245.19 163.12,243.42 Q163.25,241.64 163.48,240.26 Q163.70,238.89 164.00,237.70 Q164.30,236.52 164.75,235.44 Q165.20,234.36 165.60,233.47 Q166.00,232.58 166.40,231.99 Q166.80,231.40 167.20,231.99 Z" fill="url(#mg)"/>
<ellipse cx="168.85" cy="247.20" rx="0.74" ry="0.89" fill="#8a8a8a" opacity="0.45"/>
<ellipse cx="167.24" cy="237.49" rx="0.52" ry="1.32" fill="#8a8a8a" opacity="0.45"/>
<ellipse cx="165.80" cy="243.20" rx="1.06" ry="1.38" fill="#8a8a8a" opacity="0.45"/>
<ellipse cx="166.66" cy="239.52" rx="0.68" ry="1.34" fill="#8a8a8a" opacity="0.45"/>
<ellipse cx="168.86" cy="239.38" rx="1.00" ry="0.88" fill="#8a8a8a" opacity="0.45"/>
<ellipse cx="166.66" cy="239.08" rx="1.03" ry="1.40" fill="#8a8a8a" opacity="0.45"/>
<ellipse cx="165.73" cy="245.25" rx="0.91" ry="1.88" fill="#f8f8f8" opacity="0.7"/>
<ellipse cx="165.18" cy="241.10" rx="1.24" ry="1.31" fill="#f8f8f8" opacity="0.7"/>
<ellipse cx="166.80" cy="245.19" rx="2.0" ry="2.3" fill="#5050a8" opacity="0.55" transform="rotate(0 166.80 245.19)"/>
<path d="M175.00,249.60 l-1.2,4.2 M179.80,249.60 l1.2,4.2 M175.10,238.30 l-1.3,1.4 M179.70,238.30 l1.3,1.4" stroke="#a8a8a8" stroke-width="1.0"/>
<path d="M177.40,250.60 l0.3,3.8" stroke="#888" stroke-width="0.9"/>
<path d="M177.80,231.99 Q178.20,232.58 178.60,233.47 Q179.00,234.36 179.45,235.44 Q179.90,236.52 180.20,237.70 Q180.50,238.89 180.73,240.26 Q180.95,241.64 181.08,243.42 Q181.20,245.19 181.15,246.57 Q181.10,247.95 180.75,249.03 Q180.40,250.12 179.50,250.61 Q178.60,251.10 178.00,251.20 Q177.40,251.30 176.80,251.20 Q176.20,251.10 175.30,250.61 Q174.40,250.12 174.05,249.03 Q173.70,247.95 173.65,246.57 Q173.60,245.19 173.72,243.42 Q173.85,241.64 174.07,240.26 Q174.30,238.89 174.60,237.70 Q174.90,236.52 175.35,235.44 Q175.80,234.36 176.20,233.47 Q176.60,232.58 177.00,231.99 Q177.40,231.40 177.80,231.99 Z" fill="url(#mg)"/>
<ellipse cx="179.48" cy="247.88" rx="0.93" ry="0.71" fill="#8a8a8a" opacity="0.45"/>
<ellipse cx="178.42" cy="248.74" rx="0.77" ry="0.66" fill="#8a8a8a" opacity="0.45"/>
<ellipse cx="175.96" cy="240.79" rx="0.93" ry="0.76" fill="#8a8a8a" opacity="0.45"/>
<ellipse cx="175.74" cy="239.88" rx="0.90" ry="1.23" fill="#8a8a8a" opacity="0.45"/>
<ellipse cx="176.74" cy="245.26" rx="1.03" ry="1.07" fill="#8a8a8a" opacity="0.45"/>
<ellipse cx="175.99" cy="240.71" rx="1.06" ry="1.13" fill="#8a8a8a" opacity="0.45"/>
<ellipse cx="176.60" cy="245.31" rx="0.85" ry="1.98" fill="#f8f8f8" opacity="0.7"/>
<ellipse cx="177.19" cy="244.43" rx="1.12" ry="1.05" fill="#f8f8f8" opacity="0.7"/>
<path d="M186.60,249.60 l-1.2,4.2 M191.40,249.60 l1.2,4.2 M186.70,238.30 l-1.3,1.4 M191.30,238.30 l1.3,1.4" stroke="#a8a8a8" stroke-width="1.0"/>
<path d="M189.00,250.60 l0.3,3.8" stroke="#888" stroke-width="0.9"/>
<path d="M189.40,231.99 Q189.80,232.58 190.20,233.47 Q190.60,234.36 191.05,235.44 Q191.50,236.52 191.80,237.70 Q192.10,238.89 192.32,240.26 Q192.55,241.64 192.68,243.42 Q192.80,245.19 192.75,246.57 Q192.70,247.95 192.35,249.03 Q192.00,250.12 191.10,250.61 Q190.20,251.10 189.60,251.20 Q189.00,251.30 188.40,251.20 Q187.80,251.10 186.90,250.61 Q186.00,250.12 185.65,249.03 Q185.30,247.95 185.25,246.57 Q185.20,245.19 185.32,243.42 Q185.45,241.64 185.68,240.26 Q185.90,238.89 186.20,237.70 Q186.50,236.52 186.95,235.44 Q187.40,234.36 187.80,233.47 Q188.20,232.58 188.60,231.99 Q189.00,231.40 189.40,231.99 Z" fill="url(#mg)"/>
<ellipse cx="189.52" cy="240.50" rx="0.65" ry="1.24" fill="#8a8a8a" opacity="0.45"/>
<ellipse cx="186.85" cy="240.51" rx="0.95" ry="0.80" fill="#8a8a8a" opacity="0.45"/>
<ellipse cx="187.85" cy="243.83" rx="0.61" ry="1.32" fill="#8a8a8a" opacity="0.45"/>
<ellipse cx="191.54" cy="237.34" rx="0.78" ry="1.20" fill="#8a8a8a" opacity="0.45"/>
<ellipse cx="188.40" cy="248.63" rx="0.80" ry="0.74" fill="#8a8a8a" opacity="0.45"/>
<ellipse cx="189.29" cy="245.05" rx="0.72" ry="1.13" fill="#8a8a8a" opacity="0.45"/>
<ellipse cx="190.02" cy="244.34" rx="1.10" ry="1.85" fill="#f8f8f8" opacity="0.7"/>
<ellipse cx="189.66" cy="244.37" rx="1.37" ry="1.17" fill="#f8f8f8" opacity="0.7"/>
<path d="M196.20,249.60 l-1.2,4.2 M201.00,249.60 l1.2,4.2 M196.30,238.30 l-1.3,1.4 M200.90,238.30 l1.3,1.4" stroke="#a8a8a8" stroke-width="1.0"/>
<path d="M198.60,250.60 l0.3,3.8" stroke="#888" stroke-width="0.9"/>
<path d="M199.00,231.99 Q199.40,232.58 199.80,233.47 Q200.20,234.36 200.65,235.44 Q201.10,236.52 201.40,237.70 Q201.70,238.89 201.93,240.26 Q202.15,241.64 202.28,243.42 Q202.40,245.19 202.35,246.57 Q202.30,247.95 201.95,249.03 Q201.60,250.12 200.70,250.61 Q199.80,251.10 199.20,251.20 Q198.60,251.30 198.00,251.20 Q197.40,251.10 196.50,250.61 Q195.60,250.12 195.25,249.03 Q194.90,247.95 194.85,246.57 Q194.80,245.19 194.92,243.42 Q195.05,241.64 195.27,240.26 Q195.50,238.89 195.80,237.70 Q196.10,236.52 196.55,235.44 Q197.00,234.36 197.40,233.47 Q197.80,232.58 198.20,231.99 Q198.60,231.40 199.00,231.99 Z" fill="url(#mg)"/>
<ellipse cx="200.05" cy="239.00" rx="0.86" ry="0.79" fill="#8a8a8a" opacity="0.45"/>
<ellipse cx="198.29" cy="246.66" rx="0.97" ry="1.23" fill="#8a8a8a" opacity="0.45"/>
<ellipse cx="197.23" cy="243.08" rx="0.63" ry="1.06" fill="#8a8a8a" opacity="0.45"/>
<ellipse cx="198.59" cy="237.36" rx="0.86" ry="1.17" fill="#8a8a8a" opacity="0.45"/>
<ellipse cx="198.98" cy="247.92" rx="0.61" ry="0.72" fill="#8a8a8a" opacity="0.45"/>
<ellipse cx="196.09" cy="243.17" rx="0.76" ry="0.95" fill="#8a8a8a" opacity="0.45"/>
<ellipse cx="197.75" cy="246.56" rx="0.84" ry="1.91" fill="#f8f8f8" opacity="0.7"/>
<ellipse cx="198.85" cy="244.55" rx="1.27" ry="1.24" fill="#f8f8f8" opacity="0.7"/>
<path d="M206.40,249.60 l-1.2,4.2 M211.20,249.60 l1.2,4.2 M206.50,238.30 l-1.3,1.4 M211.10,238.30 l1.3,1.4" stroke="#a8a8a8" stroke-width="1.0"/>
<path d="M208.80,250.60 l0.3,3.8" stroke="#888" stroke-width="0.9"/>
<path d="M209.20,231.99 Q209.60,232.58 210.00,233.47 Q210.40,234.36 210.85,235.44 Q211.30,236.52 211.60,237.70 Q211.90,238.89 212.12,240.26 Q212.35,241.64 212.48,243.42 Q212.60,245.19 212.55,246.57 Q212.50,247.95 212.15,249.03 Q211.80,250.12 210.90,250.61 Q210.00,251.10 209.40,251.20 Q208.80,251.30 208.20,251.20 Q207.60,251.10 206.70,250.61 Q205.80,250.12 205.45,249.03 Q205.10,247.95 205.05,246.57 Q205.00,245.19 205.12,243.42 Q205.25,241.64 205.48,240.26 Q205.70,238.89 206.00,237.70 Q206.30,236.52 206.75,235.44 Q207.20,234.36 207.60,233.47 Q208.00,232.58 208.40,231.99 Q208.80,231.40 209.20,231.99 Z" fill="url(#mg)"/>
<ellipse cx="206.96" cy="240.84" rx="0.53" ry="0.85" fill="#8a8a8a" opacity="0.45"/>
<ellipse cx="209.43" cy="243.54" rx="0.66" ry="1.07" fill="#8a8a8a" opacity="0.45"/>
<ellipse cx="206.66" cy="247.26" rx="0.60" ry="0.80" fill="#8a8a8a" opacity="0.45"/>
<ellipse cx="207.03" cy="245.62" rx="1.00" ry="1.23" fill="#8a8a8a" opacity="0.45"/>
<ellipse cx="206.52" cy="242.09" rx="0.72" ry="0.77" fill="#8a8a8a" opacity="0.45"/>
<ellipse cx="211.25" cy="237.45" rx="0.79" ry="1.21" fill="#8a8a8a" opacity="0.45"/>
<ellipse cx="210.55" cy="241.40" rx="1.07" ry="1.74" fill="#f8f8f8" opacity="0.7"/>
<ellipse cx="207.14" cy="242.16" rx="1.33" ry="1.14" fill="#f8f8f8" opacity="0.7"/>
<path d="M216.40,249.60 l-1.2,4.2 M221.20,249.60 l1.2,4.2 M216.50,238.30 l-1.3,1.4 M221.10,238.30 l1.3,1.4" stroke="#a8a8a8" stroke-width="1.0"/>
<path d="M218.80,250.60 l0.3,3.8" stroke="#888" stroke-width="0.9"/>
<path d="M219.20,231.99 Q219.60,232.58 220.00,233.47 Q220.40,234.36 220.85,235.44 Q221.30,236.52 221.60,237.70 Q221.90,238.89 222.12,240.26 Q222.35,241.64 222.48,243.42 Q222.60,245.19 222.55,246.57 Q222.50,247.95 222.15,249.03 Q221.80,250.12 220.90,250.61 Q220.00,251.10 219.40,251.20 Q218.80,251.30 218.20,251.20 Q217.60,251.10 216.70,250.61 Q215.80,250.12 215.45,249.03 Q215.10,247.95 215.05,246.57 Q215.00,245.19 215.12,243.42 Q215.25,241.64 215.48,240.26 Q215.70,238.89 216.00,237.70 Q216.30,236.52 216.75,235.44 Q217.20,234.36 217.60,233.47 Q218.00,232.58 218.40,231.99 Q218.80,231.40 219.20,231.99 Z" fill="url(#mg)"/>
<ellipse cx="218.24" cy="240.67" rx="0.75" ry="0.66" fill="#8a8a8a" opacity="0.45"/>
<ellipse cx="216.38" cy="249.48" rx="0.96" ry="1.19" fill="#8a8a8a" opacity="0.45"/>
<ellipse cx="217.40" cy="240.11" rx="0.83" ry="0.79" fill="#8a8a8a" opacity="0.45"/>
<ellipse cx="218.60" cy="248.67" rx="0.72" ry="0.87" fill="#8a8a8a" opacity="0.45"/>
<ellipse cx="221.30" cy="244.62" rx="0.52" ry="0.92" fill="#8a8a8a" opacity="0.45"/>
<ellipse cx="219.58" cy="237.65" rx="0.71" ry="1.16" fill="#8a8a8a" opacity="0.45"/>
<ellipse cx="220.11" cy="244.92" rx="1.33" ry="1.46" fill="#f8f8f8" opacity="0.7"/>
<ellipse cx="218.41" cy="246.91" rx="1.03" ry="1.78" fill="#f8f8f8" opacity="0.7"/>
<defs><clipPath id="c28"><rect x="233.5" y="158.8" width="31.7" height="26.3"/></clipPath></defs>
<g clip-path="url(#c28)">
<rect x="233.5" y="158.8" width="31.7" height="26.3" fill="#8ccfa0"/>
<ellipse cx="236" cy="183" rx="5" ry="4" fill="#2850c8"/>
<ellipse cx="247" cy="183" rx="4" ry="5" fill="#3060d0"/>
<ellipse cx="244" cy="161" rx="3" ry="3" fill="#3a8ae0"/>
<ellipse cx="262" cy="183" rx="4" ry="3" fill="#60b0d0"/>
<ellipse cx="255" cy="160" rx="4" ry="2.5" fill="#c8e070"/>
<ellipse cx="236" cy="160" rx="3" ry="2" fill="#70c0e0"/>
<path d="M239.80,160.5 C247.40,164.73 247.40,179.30 239.80,184 C232.20,179.30 232.20,164.73 239.80,160.5 Z" fill="#e62020" stroke="#f06020" stroke-width="0.7"/>
<path d="M250.60,162 C258.20,166.23 258.20,180.80 250.60,185.5 C243.00,180.80 243.00,166.23 250.60,162 Z" fill="#e62020" stroke="#f06020" stroke-width="0.7"/>
<path d="M259.60,161 C267.20,165.41 267.20,180.60 259.60,185.5 C252.00,180.60 252.00,165.41 259.60,161 Z" fill="#e62020" stroke="#f06020" stroke-width="0.7"/>
<ellipse cx="240" cy="173" rx="1.5" ry="1.3" fill="#fff"/>
<ellipse cx="258" cy="176" rx="1.6" ry="1" fill="#fff"/>
</g>
<rect x="233.6" y="194.3" width="62.20" height="26.10" fill="#1c1c1c"/>
<path d="M236.20,214.30 l-1.2,4.2 M241.00,214.30 l1.2,4.2 M236.30,203.00 l-1.3,1.4 M240.90,203.00 l1.3,1.4" stroke="#a8a8a8" stroke-width="1.0"/>
<path d="M238.60,215.30 l0.3,3.8" stroke="#888" stroke-width="0.9"/>
<path d="M239.00,196.69 Q239.40,197.28 239.80,198.17 Q240.20,199.06 240.65,200.14 Q241.10,201.22 241.40,202.40 Q241.70,203.59 241.93,204.97 Q242.15,206.34 242.28,208.12 Q242.40,209.89 242.35,211.27 Q242.30,212.65 241.95,213.73 Q241.60,214.81 240.70,215.31 Q239.80,215.80 239.20,215.90 Q238.60,216.00 238.00,215.90 Q237.40,215.80 236.50,215.31 Q235.60,214.81 235.25,213.73 Q234.90,212.65 234.85,211.27 Q234.80,209.89 234.92,208.12 Q235.05,206.34 235.27,204.97 Q235.50,203.59 235.80,202.40 Q236.10,201.22 236.55,200.14 Q237.00,199.06 237.40,198.17 Q237.80,197.28 238.20,196.69 Q238.60,196.10 239.00,196.69 Z" fill="url(#mg)"/>
<ellipse cx="237.12" cy="206.00" rx="0.61" ry="1.04" fill="#8a8a8a" opacity="0.45"/>
<ellipse cx="236.85" cy="204.18" rx="0.63" ry="0.97" fill="#8a8a8a" opacity="0.45"/>
<ellipse cx="237.60" cy="207.25" rx="1.10" ry="1.14" fill="#8a8a8a" opacity="0.45"/>
<ellipse cx="240.49" cy="204.20" rx="0.73" ry="0.66" fill="#8a8a8a" opacity="0.45"/>
<ellipse cx="239.60" cy="206.19" rx="0.66" ry="0.61" fill="#8a8a8a" opacity="0.45"/>
<ellipse cx="236.95" cy="204.92" rx="0.74" ry="1.34" fill="#8a8a8a" opacity="0.45"/>
<ellipse cx="239.37" cy="207.08" rx="1.02" ry="1.15" fill="#f8f8f8" opacity="0.7"/>
<ellipse cx="240.17" cy="207.80" rx="1.26" ry="1.72" fill="#f8f8f8" opacity="0.7"/>
<path d="M246.80,214.30 l-1.2,4.2 M251.60,214.30 l1.2,4.2 M246.90,203.00 l-1.3,1.4 M251.50,203.00 l1.3,1.4" stroke="#a8a8a8" stroke-width="1.0"/>
<path d="M249.20,215.30 l0.3,3.8" stroke="#888" stroke-width="0.9"/>
<path d="M249.60,196.69 Q250.00,197.28 250.40,198.17 Q250.80,199.06 251.25,200.14 Q251.70,201.22 252.00,202.40 Q252.30,203.59 252.52,204.97 Q252.75,206.34 252.88,208.12 Q253.00,209.89 252.95,211.27 Q252.90,212.65 252.55,213.73 Q252.20,214.81 251.30,215.31 Q250.40,215.80 249.80,215.90 Q249.20,216.00 248.60,215.90 Q248.00,215.80 247.10,215.31 Q246.20,214.81 245.85,213.73 Q245.50,212.65 245.45,211.27 Q245.40,209.89 245.52,208.12 Q245.65,206.34 245.88,204.97 Q246.10,203.59 246.40,202.40 Q246.70,201.22 247.15,200.14 Q247.60,199.06 248.00,198.17 Q248.40,197.28 248.80,196.69 Q249.20,196.10 249.60,196.69 Z" fill="url(#mg)"/>
<ellipse cx="251.32" cy="201.87" rx="0.69" ry="0.91" fill="#8a8a8a" opacity="0.45"/>
<ellipse cx="247.03" cy="212.74" rx="0.70" ry="1.22" fill="#8a8a8a" opacity="0.45"/>
<ellipse cx="249.30" cy="202.31" rx="0.74" ry="0.79" fill="#8a8a8a" opacity="0.45"/>
<ellipse cx="246.81" cy="203.52" rx="0.86" ry="0.63" fill="#8a8a8a" opacity="0.45"/>
<ellipse cx="248.22" cy="206.96" rx="0.83" ry="0.71" fill="#8a8a8a" opacity="0.45"/>
<ellipse cx="250.27" cy="204.90" rx="0.94" ry="1.13" fill="#8a8a8a" opacity="0.45"/>
<ellipse cx="247.93" cy="206.58" rx="0.97" ry="1.71" fill="#f8f8f8" opacity="0.7"/>
<ellipse cx="248.86" cy="208.01" rx="1.32" ry="1.23" fill="#f8f8f8" opacity="0.7"/>
<path d="M256.80,214.30 l-1.2,4.2 M261.60,214.30 l1.2,4.2 M256.90,203.00 l-1.3,1.4 M261.50,203.00 l1.3,1.4" stroke="#a8a8a8" stroke-width="1.0"/>
<path d="M259.20,215.30 l0.3,3.8" stroke="#888" stroke-width="0.9"/>
<path d="M259.60,196.69 Q260.00,197.28 260.40,198.17 Q260.80,199.06 261.25,200.14 Q261.70,201.22 262.00,202.40 Q262.30,203.59 262.52,204.97 Q262.75,206.34 262.88,208.12 Q263.00,209.89 262.95,211.27 Q262.90,212.65 262.55,213.73 Q262.20,214.81 261.30,215.31 Q260.40,215.80 259.80,215.90 Q259.20,216.00 258.60,215.90 Q258.00,215.80 257.10,215.31 Q256.20,214.81 255.85,213.73 Q255.50,212.65 255.45,211.27 Q255.40,209.89 255.52,208.12 Q255.65,206.34 255.87,204.97 Q256.10,203.59 256.40,202.40 Q256.70,201.22 257.15,200.14 Q257.60,199.06 258.00,198.17 Q258.40,197.28 258.80,196.69 Q259.20,196.10 259.60,196.69 Z" fill="url(#mg)"/>
<ellipse cx="258.12" cy="205.97" rx="0.63" ry="0.63" fill="#8a8a8a" opacity="0.45"/>
<ellipse cx="256.73" cy="209.56" rx="0.84" ry="1.25" fill="#8a8a8a" opacity="0.45"/>
<ellipse cx="261.67" cy="205.37" rx="0.90" ry="1.34" fill="#8a8a8a" opacity="0.45"/>
<ellipse cx="257.72" cy="210.31" rx="0.90" ry="1.36" fill="#8a8a8a" opacity="0.45"/>
<ellipse cx="261.12" cy="204.57" rx="0.88" ry="0.67" fill="#8a8a8a" opacity="0.45"/>
<ellipse cx="258.82" cy="206.56" rx="0.54" ry="0.91" fill="#8a8a8a" opacity="0.45"/>
<ellipse cx="258.58" cy="208.88" rx="0.97" ry="1.16" fill="#f8f8f8" opacity="0.7"/>
<ellipse cx="258.85" cy="208.71" rx="0.90" ry="1.67" fill="#f8f8f8" opacity="0.7"/>
<path d="M266.90,214.30 l-1.2,4.2 M271.70,214.30 l1.2,4.2 M267.00,203.00 l-1.3,1.4 M271.60,203.00 l1.3,1.4" stroke="#a8a8a8" stroke-width="1.0"/>
<path d="M269.30,215.30 l0.3,3.8" stroke="#888" stroke-width="0.9"/>
<path d="M269.70,196.69 Q270.10,197.28 270.50,198.17 Q270.90,199.06 271.35,200.14 Q271.80,201.22 272.10,202.40 Q272.40,203.59 272.62,204.97 Q272.85,206.34 272.98,208.12 Q273.10,209.89 273.05,211.27 Q273.00,212.65 272.65,213.73 Q272.30,214.81 271.40,215.31 Q270.50,215.80 269.90,215.90 Q269.30,216.00 268.70,215.90 Q268.10,215.80 267.20,215.31 Q266.30,214.81 265.95,213.73 Q265.60,212.65 265.55,211.27 Q265.50,209.89 265.62,208.12 Q265.75,206.34 265.98,204.97 Q266.20,203.59 266.50,202.40 Q266.80,201.22 267.25,200.14 Q267.70,199.06 268.10,198.17 Q268.50,197.28 268.90,196.69 Q269.30,196.10 269.70,196.69 Z" fill="url(#mg)"/>
<ellipse cx="267.95" cy="202.79" rx="0.71" ry="0.94" fill="#8a8a8a" opacity="0.45"/>
<ellipse cx="267.48" cy="208.96" rx="0.92" ry="1.04" fill="#8a8a8a" opacity="0.45"/>
<ellipse cx="270.34" cy="201.91" rx="0.73" ry="0.89" fill="#8a8a8a" opacity="0.45"/>
<ellipse cx="267.03" cy="206.71" rx="0.53" ry="1.00" fill="#8a8a8a" opacity="0.45"/>
<ellipse cx="269.75" cy="207.53" rx="0.70" ry="0.80" fill="#8a8a8a" opacity="0.45"/>
<ellipse cx="266.82" cy="205.99" rx="1.04" ry="1.05" fill="#8a8a8a" opacity="0.45"/>
<ellipse cx="268.44" cy="210.23" rx="0.91" ry="1.47" fill="#f8f8f8" opacity="0.7"/>
<ellipse cx="269.71" cy="212.49" rx="1.02" ry="1.58" fill="#f8f8f8" opacity="0.7"/>
<path d="M277.50,214.30 l-1.2,4.2 M282.30,214.30 l1.2,4.2 M277.60,203.00 l-1.3,1.4 M282.20,203.00 l1.3,1.4" stroke="#a8a8a8" stroke-width="1.0"/>
<path d="M279.90,215.30 l0.3,3.8" stroke="#888" stroke-width="0.9"/>
<path d="M280.30,196.69 Q280.70,197.28 281.10,198.17 Q281.50,199.06 281.95,200.14 Q282.40,201.22 282.70,202.40 Q283.00,203.59 283.23,204.97 Q283.45,206.34 283.57,208.12 Q283.70,209.89 283.65,211.27 Q283.60,212.65 283.25,213.73 Q282.90,214.81 282.00,215.31 Q281.10,215.80 280.50,215.90 Q279.90,216.00 279.30,215.90 Q278.70,215.80 277.80,215.31 Q276.90,214.81 276.55,213.73 Q276.20,212.65 276.15,211.27 Q276.10,209.89 276.22,208.12 Q276.35,206.34 276.57,204.97 Q276.80,203.59 277.10,202.40 Q277.40,201.22 277.85,200.14 Q278.30,199.06 278.70,198.17 Q279.10,197.28 279.50,196.69 Q279.90,196.10 280.30,196.69 Z" fill="url(#mg)"/>
<ellipse cx="282.20" cy="211.34" rx="0.88" ry="1.10" fill="#8a8a8a" opacity="0.45"/>
<ellipse cx="279.44" cy="206.86" rx="0.67" ry="1.26" fill="#8a8a8a" opacity="0.45"/>
<ellipse cx="281.87" cy="206.43" rx="1.05" ry="0.63" fill="#8a8a8a" opacity="0.45"/>
<ellipse cx="278.01" cy="208.01" rx="0.69" ry="0.89" fill="#8a8a8a" opacity="0.45"/>
<ellipse cx="282.38" cy="203.51" rx="0.62" ry="0.78" fill="#8a8a8a" opacity="0.45"/>
<ellipse cx="280.84" cy="204.57" rx="0.50" ry="1.04" fill="#8a8a8a" opacity="0.45"/>
<ellipse cx="279.52" cy="206.85" rx="1.10" ry="1.65" fill="#f8f8f8" opacity="0.7"/>
<ellipse cx="280.07" cy="209.89" rx="1.14" ry="1.83" fill="#f8f8f8" opacity="0.7"/>
<path d="M287.50,214.30 l-1.2,4.2 M292.30,214.30 l1.2,4.2 M287.60,203.00 l-1.3,1.4 M292.20,203.00 l1.3,1.4" stroke="#a8a8a8" stroke-width="1.0"/>
<path d="M289.90,215.30 l0.3,3.8" stroke="#888" stroke-width="0.9"/>
<path d="M290.30,196.69 Q290.70,197.28 291.10,198.17 Q291.50,199.06 291.95,200.14 Q292.40,201.22 292.70,202.40 Q293.00,203.59 293.23,204.97 Q293.45,206.34 293.57,208.12 Q293.70,209.89 293.65,211.27 Q293.60,212.65 293.25,213.73 Q292.90,214.81 292.00,215.31 Q291.10,215.80 290.50,215.90 Q289.90,216.00 289.30,215.90 Q288.70,215.80 287.80,215.31 Q286.90,214.81 286.55,213.73 Q286.20,212.65 286.15,211.27 Q286.10,209.89 286.22,208.12 Q286.35,206.34 286.57,204.97 Q286.80,203.59 287.10,202.40 Q287.40,201.22 287.85,200.14 Q288.30,199.06 288.70,198.17 Q289.10,197.28 289.50,196.69 Q289.90,196.10 290.30,196.69 Z" fill="url(#mg)"/>
<ellipse cx="292.34" cy="205.82" rx="0.71" ry="1.31" fill="#8a8a8a" opacity="0.45"/>
<ellipse cx="288.93" cy="210.64" rx="0.92" ry="1.15" fill="#8a8a8a" opacity="0.45"/>
<ellipse cx="292.31" cy="212.01" rx="0.60" ry="1.10" fill="#8a8a8a" opacity="0.45"/>
<ellipse cx="289.85" cy="208.72" rx="0.72" ry="0.83" fill="#8a8a8a" opacity="0.45"/>
<ellipse cx="291.19" cy="208.35" rx="0.64" ry="0.80" fill="#8a8a8a" opacity="0.45"/>
<ellipse cx="288.99" cy="203.86" rx="0.81" ry="0.70" fill="#8a8a8a" opacity="0.45"/>
<ellipse cx="288.33" cy="205.51" rx="0.86" ry="1.70" fill="#f8f8f8" opacity="0.7"/>
<ellipse cx="288.51" cy="208.52" rx="1.26" ry="1.48" fill="#f8f8f8" opacity="0.7"/>
<rect x="233.6" y="229.6" width="83.90" height="26.10" fill="#1c1c1c"/>
<path d="M236.60,249.60 l-1.2,4.2 M241.40,249.60 l1.2,4.2 M236.70,238.30 l-1.3,1.4 M241.30,238.30 l1.3,1.4" stroke="#a8a8a8" stroke-width="1.0"/>
<path d="M239.00,250.60 l0.3,3.8" stroke="#888" stroke-width="0.9"/>
<path d="M239.40,231.99 Q239.80,232.58 240.20,233.47 Q240.60,234.36 241.05,235.44 Q241.50,236.52 241.80,237.70 Q242.10,238.89 242.32,240.26 Q242.55,241.64 242.68,243.42 Q242.80,245.19 242.75,246.57 Q242.70,247.95 242.35,249.03 Q242.00,250.12 241.10,250.61 Q240.20,251.10 239.60,251.20 Q239.00,251.30 238.40,251.20 Q237.80,251.10 236.90,250.61 Q236.00,250.12 235.65,249.03 Q235.30,247.95 235.25,246.57 Q235.20,245.19 235.32,243.42 Q235.45,241.64 235.68,240.26 Q235.90,238.89 236.20,237.70 Q236.50,236.52 236.95,235.44 Q237.40,234.36 237.80,233.47 Q238.20,232.58 238.60,231.99 Q239.00,231.40 239.40,231.99 Z" fill="url(#mg)"/>
<ellipse cx="237.25" cy="247.84" rx="1.02" ry="0.64" fill="#8a8a8a" opacity="0.45"/>
<ellipse cx="237.72" cy="243.31" rx="0.98" ry="0.91" fill="#8a8a8a" opacity="0.45"/>
<ellipse cx="240.12" cy="240.09" rx="0.93" ry="0.86" fill="#8a8a8a" opacity="0.45"/>
<ellipse cx="238.14" cy="246.49" rx="1.01" ry="1.26" fill="#8a8a8a" opacity="0.45"/>
<ellipse cx="239.35" cy="242.22" rx="0.92" ry="1.10" fill="#8a8a8a" opacity="0.45"/>
<ellipse cx="240.72" cy="247.02" rx="0.58" ry="0.90" fill="#8a8a8a" opacity="0.45"/>
<ellipse cx="239.61" cy="242.09" rx="0.91" ry="1.01" fill="#f8f8f8" opacity="0.7"/>
<ellipse cx="239.31" cy="247.68" rx="1.38" ry="1.13" fill="#f8f8f8" opacity="0.7"/>
<path d="M246.40,249.60 l-1.2,4.2 M251.20,249.60 l1.2,4.2 M246.50,238.30 l-1.3,1.4 M251.10,238.30 l1.3,1.4" stroke="#a8a8a8" stroke-width="1.0"/>
<path d="M248.80,250.60 l0.3,3.8" stroke="#888" stroke-width="0.9"/>
<path d="M249.20,231.99 Q249.60,232.58 250.00,233.47 Q250.40,234.36 250.85,235.44 Q251.30,236.52 251.60,237.70 Q251.90,238.89 252.12,240.26 Q252.35,241.64 252.48,243.42 Q252.60,245.19 252.55,246.57 Q252.50,247.95 252.15,249.03 Q251.80,250.12 250.90,250.61 Q250.00,251.10 249.40,251.20 Q248.80,251.30 248.20,251.20 Q247.60,251.10 246.70,250.61 Q245.80,250.12 245.45,249.03 Q245.10,247.95 245.05,246.57 Q245.00,245.19 245.12,243.42 Q245.25,241.64 245.48,240.26 Q245.70,238.89 246.00,237.70 Q246.30,236.52 246.75,235.44 Q247.20,234.36 247.60,233.47 Q248.00,232.58 248.40,231.99 Q248.80,231.40 249.20,231.99 Z" fill="url(#mg)"/>
<ellipse cx="249.78" cy="242.20" rx="0.88" ry="0.92" fill="#8a8a8a" opacity="0.45"/>
<ellipse cx="251.05" cy="249.38" rx="0.53" ry="1.17" fill="#8a8a8a" opacity="0.45"/>
<ellipse cx="246.82" cy="237.45" rx="0.67" ry="1.18" fill="#8a8a8a" opacity="0.45"/>
<ellipse cx="251.37" cy="238.43" rx="0.70" ry="0.62" fill="#8a8a8a" opacity="0.45"/>
<ellipse cx="249.02" cy="243.01" rx="0.72" ry="0.85" fill="#8a8a8a" opacity="0.45"/>
<ellipse cx="250.36" cy="247.49" rx="0.67" ry="0.91" fill="#8a8a8a" opacity="0.45"/>
<ellipse cx="249.22" cy="246.30" rx="1.39" ry="1.39" fill="#f8f8f8" opacity="0.7"/>
<ellipse cx="249.50" cy="244.57" rx="1.28" ry="1.15" fill="#f8f8f8" opacity="0.7"/>
<path d="M256.40,249.60 l-1.2,4.2 M261.20,249.60 l1.2,4.2 M256.50,238.30 l-1.3,1.4 M261.10,238.30 l1.3,1.4" stroke="#a8a8a8" stroke-width="1.0"/>
<path d="M258.80,250.60 l0.3,3.8" stroke="#888" stroke-width="0.9"/>
<path d="M259.20,231.99 Q259.60,232.58 260.00,233.47 Q260.40,234.36 260.85,235.44 Q261.30,236.52 261.60,237.70 Q261.90,238.89 262.12,240.26 Q262.35,241.64 262.48,243.42 Q262.60,245.19 262.55,246.57 Q262.50,247.95 262.15,249.03 Q261.80,250.12 260.90,250.61 Q260.00,251.10 259.40,251.20 Q258.80,251.30 258.20,251.20 Q257.60,251.10 256.70,250.61 Q255.80,250.12 255.45,249.03 Q255.10,247.95 255.05,246.57 Q255.00,245.19 255.12,243.42 Q255.25,241.64 255.48,240.26 Q255.70,238.89 256.00,237.70 Q256.30,236.52 256.75,235.44 Q257.20,234.36 257.60,233.47 Q258.00,232.58 258.40,231.99 Q258.80,231.40 259.20,231.99 Z" fill="url(#mg)"/>
<ellipse cx="257.11" cy="238.27" rx="1.06" ry="0.80" fill="#8a8a8a" opacity="0.45"/>
<ellipse cx="258.74" cy="238.43" rx="0.69" ry="0.62" fill="#8a8a8a" opacity="0.45"/>
<ellipse cx="259.14" cy="238.73" rx="0.88" ry="0.82" fill="#8a8a8a" opacity="0.45"/>
<ellipse cx="257.38" cy="243.00" rx="0.72" ry="0.81" fill="#8a8a8a" opacity="0.45"/>
<ellipse cx="256.47" cy="237.73" rx="1.04" ry="0.85" fill="#8a8a8a" opacity="0.45"/>
<ellipse cx="256.61" cy="239.22" rx="0.79" ry="1.40" fill="#8a8a8a" opacity="0.45"/>
<ellipse cx="257.73" cy="247.10" rx="1.09" ry="1.41" fill="#f8f8f8" opacity="0.7"/>
<ellipse cx="259.91" cy="243.38" rx="0.83" ry="1.55" fill="#f8f8f8" opacity="0.7"/>
<path d="M266.90,249.60 l-1.2,4.2 M271.70,249.60 l1.2,4.2 M267.00,238.30 l-1.3,1.4 M271.60,238.30 l1.3,1.4" stroke="#a8a8a8" stroke-width="1.0"/>
<path d="M269.30,250.60 l0.3,3.8" stroke="#888" stroke-width="0.9"/>
<path d="M269.70,231.99 Q270.10,232.58 270.50,233.47 Q270.90,234.36 271.35,235.44 Q271.80,236.52 272.10,237.70 Q272.40,238.89 272.62,240.26 Q272.85,241.64 272.98,243.42 Q273.10,245.19 273.05,246.57 Q273.00,247.95 272.65,249.03 Q272.30,250.12 271.40,250.61 Q270.50,251.10 269.90,251.20 Q269.30,251.30 268.70,251.20 Q268.10,251.10 267.20,250.61 Q266.30,250.12 265.95,249.03 Q265.60,247.95 265.55,246.57 Q265.50,245.19 265.62,243.42 Q265.75,241.64 265.98,240.26 Q266.20,238.89 266.50,237.70 Q266.80,236.52 267.25,235.44 Q267.70,234.36 268.10,233.47 Q268.50,232.58 268.90,231.99 Q269.30,231.40 269.70,231.99 Z" fill="url(#mg)"/>
<ellipse cx="270.12" cy="244.77" rx="0.67" ry="1.35" fill="#8a8a8a" opacity="0.45"/>
<ellipse cx="271.20" cy="249.45" rx="0.77" ry="1.27" fill="#8a8a8a" opacity="0.45"/>
<ellipse cx="270.47" cy="239.13" rx="0.52" ry="0.74" fill="#8a8a8a" opacity="0.45"/>
<ellipse cx="267.32" cy="237.86" rx="0.72" ry="1.20" fill="#8a8a8a" opacity="0.45"/>
<ellipse cx="268.31" cy="243.40" rx="0.51" ry="0.77" fill="#8a8a8a" opacity="0.45"/>
<ellipse cx="271.69" cy="237.06" rx="0.82" ry="1.25" fill="#8a8a8a" opacity="0.45"/>
<ellipse cx="270.35" cy="246.06" rx="1.04" ry="1.80" fill="#f8f8f8" opacity="0.7"/>
<ellipse cx="270.48" cy="246.31" rx="1.39" ry="1.10" fill="#f8f8f8" opacity="0.7"/>
<path d="M277.10,249.60 l-1.2,4.2 M281.90,249.60 l1.2,4.2 M277.20,238.30 l-1.3,1.4 M281.80,238.30 l1.3,1.4" stroke="#a8a8a8" stroke-width="1.0"/>
<path d="M279.50,250.60 l0.3,3.8" stroke="#888" stroke-width="0.9"/>
<path d="M279.90,231.99 Q280.30,232.58 280.70,233.47 Q281.10,234.36 281.55,235.44 Q282.00,236.52 282.30,237.70 Q282.60,238.89 282.83,240.26 Q283.05,241.64 283.18,243.42 Q283.30,245.19 283.25,246.57 Q283.20,247.95 282.85,249.03 Q282.50,250.12 281.60,250.61 Q280.70,251.10 280.10,251.20 Q279.50,251.30 278.90,251.20 Q278.30,251.10 277.40,250.61 Q276.50,250.12 276.15,249.03 Q275.80,247.95 275.75,246.57 Q275.70,245.19 275.82,243.42 Q275.95,241.64 276.17,240.26 Q276.40,238.89 276.70,237.70 Q277.00,236.52 277.45,235.44 Q277.90,234.36 278.30,233.47 Q278.70,232.58 279.10,231.99 Q279.50,231.40 279.90,231.99 Z" fill="url(#mg)"/>
<ellipse cx="281.84" cy="241.99" rx="0.92" ry="0.80" fill="#8a8a8a" opacity="0.45"/>
<ellipse cx="281.63" cy="237.21" rx="0.85" ry="0.78" fill="#8a8a8a" opacity="0.45"/>
<ellipse cx="278.92" cy="241.57" rx="0.89" ry="1.25" fill="#8a8a8a" opacity="0.45"/>
<ellipse cx="278.80" cy="244.96" rx="0.71" ry="0.82" fill="#8a8a8a" opacity="0.45"/>
<ellipse cx="281.61" cy="240.97" rx="0.56" ry="0.87" fill="#8a8a8a" opacity="0.45"/>
<ellipse cx="280.76" cy="239.58" rx="0.95" ry="1.04" fill="#8a8a8a" opacity="0.45"/>
<ellipse cx="280.15" cy="241.66" rx="0.86" ry="1.14" fill="#f8f8f8" opacity="0.7"/>
<ellipse cx="278.96" cy="243.66" rx="0.81" ry="1.50" fill="#f8f8f8" opacity="0.7"/>
<path d="M287.50,249.60 l-1.2,4.2 M292.30,249.60 l1.2,4.2 M287.60,238.30 l-1.3,1.4 M292.20,238.30 l1.3,1.4" stroke="#a8a8a8" stroke-width="1.0"/>
<path d="M289.90,250.60 l0.3,3.8" stroke="#888" stroke-width="0.9"/>
<path d="M290.30,231.99 Q290.70,232.58 291.10,233.47 Q291.50,234.36 291.95,235.44 Q292.40,236.52 292.70,237.70 Q293.00,238.89 293.23,240.26 Q293.45,241.64 293.57,243.42 Q293.70,245.19 293.65,246.57 Q293.60,247.95 293.25,249.03 Q292.90,250.12 292.00,250.61 Q291.10,251.10 290.50,251.20 Q289.90,251.30 289.30,251.20 Q288.70,251.10 287.80,250.61 Q286.90,250.12 286.55,249.03 Q286.20,247.95 286.15,246.57 Q286.10,245.19 286.22,243.42 Q286.35,241.64 286.57,240.26 Q286.80,238.89 287.10,237.70 Q287.40,236.52 287.85,235.44 Q288.30,234.36 288.70,233.47 Q289.10,232.58 289.50,231.99 Q289.90,231.40 290.30,231.99 Z" fill="url(#mg)"/>
<ellipse cx="289.40" cy="240.97" rx="0.82" ry="1.36" fill="#8a8a8a" opacity="0.45"/>
<ellipse cx="288.36" cy="248.02" rx="0.69" ry="1.20" fill="#8a8a8a" opacity="0.45"/>
<ellipse cx="287.86" cy="249.37" rx="0.76" ry="1.37" fill="#8a8a8a" opacity="0.45"/>
<ellipse cx="288.44" cy="242.06" rx="0.92" ry="0.74" fill="#8a8a8a" opacity="0.45"/>
<ellipse cx="288.72" cy="245.45" rx="1.07" ry="0.86" fill="#8a8a8a" opacity="0.45"/>
<ellipse cx="288.25" cy="241.42" rx="1.09" ry="0.72" fill="#8a8a8a" opacity="0.45"/>
<ellipse cx="290.39" cy="243.24" rx="1.19" ry="1.21" fill="#f8f8f8" opacity="0.7"/>
<ellipse cx="290.32" cy="247.26" rx="1.31" ry="1.63" fill="#f8f8f8" opacity="0.7"/>
<path d="M297.70,249.60 l-1.2,4.2 M302.50,249.60 l1.2,4.2 M297.80,238.30 l-1.3,1.4 M302.40,238.30 l1.3,1.4" stroke="#a8a8a8" stroke-width="1.0"/>
<path d="M300.10,250.60 l0.3,3.8" stroke="#888" stroke-width="0.9"/>
<path d="M300.50,231.99 Q300.90,232.58 301.30,233.47 Q301.70,234.36 302.15,235.44 Q302.60,236.52 302.90,237.70 Q303.20,238.89 303.43,240.26 Q303.65,241.64 303.78,243.42 Q303.90,245.19 303.85,246.57 Q303.80,247.95 303.45,249.03 Q303.10,250.12 302.20,250.61 Q301.30,251.10 300.70,251.20 Q300.10,251.30 299.50,251.20 Q298.90,251.10 298.00,250.61 Q297.10,250.12 296.75,249.03 Q296.40,247.95 296.35,246.57 Q296.30,245.19 296.43,243.42 Q296.55,241.64 296.77,240.26 Q297.00,238.89 297.30,237.70 Q297.60,236.52 298.05,235.44 Q298.50,234.36 298.90,233.47 Q299.30,232.58 299.70,231.99 Q300.10,231.40 300.50,231.99 Z" fill="url(#mg)"/>
<ellipse cx="300.13" cy="244.07" rx="0.57" ry="1.27" fill="#8a8a8a" opacity="0.45"/>
<ellipse cx="301.09" cy="242.63" rx="0.90" ry="0.94" fill="#8a8a8a" opacity="0.45"/>
<ellipse cx="299.50" cy="239.82" rx="0.86" ry="1.06" fill="#8a8a8a" opacity="0.45"/>
<ellipse cx="300.18" cy="237.32" rx="0.88" ry="0.96" fill="#8a8a8a" opacity="0.45"/>
<ellipse cx="300.59" cy="244.41" rx="1.06" ry="0.72" fill="#8a8a8a" opacity="0.45"/>
<ellipse cx="299.94" cy="249.43" rx="0.94" ry="0.85" fill="#8a8a8a" opacity="0.45"/>
<ellipse cx="300.95" cy="248.06" rx="1.04" ry="1.87" fill="#f8f8f8" opacity="0.7"/>
<ellipse cx="298.76" cy="248.07" rx="1.09" ry="1.23" fill="#f8f8f8" opacity="0.7"/>
<path d="M308.60,249.60 l-1.2,4.2 M313.40,249.60 l1.2,4.2 M308.70,238.30 l-1.3,1.4 M313.30,238.30 l1.3,1.4" stroke="#a8a8a8" stroke-width="1.0"/>
<path d="M311.00,250.60 l0.3,3.8" stroke="#888" stroke-width="0.9"/>
<path d="M311.40,231.99 Q311.80,232.58 312.20,233.47 Q312.60,234.36 313.05,235.44 Q313.50,236.52 313.80,237.70 Q314.10,238.89 314.33,240.26 Q314.55,241.64 314.68,243.42 Q314.80,245.19 314.75,246.57 Q314.70,247.95 314.35,249.03 Q314.00,250.12 313.10,250.61 Q312.20,251.10 311.60,251.20 Q311.00,251.30 310.40,251.20 Q309.80,251.10 308.90,250.61 Q308.00,250.12 307.65,249.03 Q307.30,247.95 307.25,246.57 Q307.20,245.19 307.32,243.42 Q307.45,241.64 307.67,240.26 Q307.90,238.89 308.20,237.70 Q308.50,236.52 308.95,235.44 Q309.40,234.36 309.80,233.47 Q310.20,232.58 310.60,231.99 Q311.00,231.40 311.40,231.99 Z" fill="url(#mg)"/>
<ellipse cx="312.77" cy="245.10" rx="1.06" ry="1.26" fill="#8a8a8a" opacity="0.45"/>
<ellipse cx="312.55" cy="243.37" rx="1.10" ry="0.65" fill="#8a8a8a" opacity="0.45"/>
<ellipse cx="312.92" cy="245.89" rx="0.65" ry="1.25" fill="#8a8a8a" opacity="0.45"/>
<ellipse cx="310.76" cy="243.68" rx="1.02" ry="0.76" fill="#8a8a8a" opacity="0.45"/>
<ellipse cx="309.85" cy="245.03" rx="0.54" ry="1.04" fill="#8a8a8a" opacity="0.45"/>
<ellipse cx="312.49" cy="243.10" rx="0.65" ry="1.24" fill="#8a8a8a" opacity="0.45"/>
<ellipse cx="312.28" cy="246.34" rx="1.13" ry="1.91" fill="#f8f8f8" opacity="0.7"/>
<ellipse cx="312.07" cy="241.46" rx="1.02" ry="1.10" fill="#f8f8f8" opacity="0.7"/>
<ellipse cx="311.00" cy="239.28" rx="2.6" ry="3.5" fill="#8080c8" opacity="0.45" transform="rotate(0 311.00 239.28)"/>
<rect x="325.2" y="194.3" width="21.00" height="26.10" fill="#2a2a2a"/>
<path d="M328.20,214.30 l-1.2,4.2 M333.00,214.30 l1.2,4.2 M328.30,203.00 l-1.3,1.4 M332.90,203.00 l1.3,1.4" stroke="#a8a8a8" stroke-width="1.0"/>
<path d="M330.60,215.30 l0.3,3.8" stroke="#888" stroke-width="0.9"/>
<path d="M331.00,196.69 Q331.40,197.28 331.80,198.17 Q332.20,199.06 332.65,200.14 Q333.10,201.22 333.40,202.40 Q333.70,203.59 333.93,204.97 Q334.15,206.34 334.28,208.12 Q334.40,209.89 334.35,211.27 Q334.30,212.65 333.95,213.73 Q333.60,214.81 332.70,215.31 Q331.80,215.80 331.20,215.90 Q330.60,216.00 330.00,215.90 Q329.40,215.80 328.50,215.31 Q327.60,214.81 327.25,213.73 Q326.90,212.65 326.85,211.27 Q326.80,209.89 326.93,208.12 Q327.05,206.34 327.27,204.97 Q327.50,203.59 327.80,202.40 Q328.10,201.22 328.55,200.14 Q329.00,199.06 329.40,198.17 Q329.80,197.28 330.20,196.69 Q330.60,196.10 331.00,196.69 Z" fill="url(#mg)"/>
<ellipse cx="328.19" cy="205.98" rx="1.02" ry="1.27" fill="#8a8a8a" opacity="0.45"/>
<ellipse cx="328.61" cy="203.91" rx="0.73" ry="1.28" fill="#8a8a8a" opacity="0.45"/>
<ellipse cx="331.21" cy="212.99" rx="0.54" ry="1.39" fill="#8a8a8a" opacity="0.45"/>
<ellipse cx="329.08" cy="209.55" rx="1.03" ry="1.18" fill="#8a8a8a" opacity="0.45"/>
<ellipse cx="329.02" cy="210.04" rx="0.76" ry="0.61" fill="#8a8a8a" opacity="0.45"/>
<ellipse cx="329.77" cy="205.59" rx="0.88" ry="0.82" fill="#8a8a8a" opacity="0.45"/>
<ellipse cx="330.97" cy="210.44" rx="0.91" ry="1.13" fill="#f8f8f8" opacity="0.7"/>
<ellipse cx="331.30" cy="208.64" rx="0.88" ry="1.12" fill="#f8f8f8" opacity="0.7"/>
<path d="M338.40,214.30 l-1.2,4.2 M343.20,214.30 l1.2,4.2 M338.50,203.00 l-1.3,1.4 M343.10,203.00 l1.3,1.4" stroke="#a8a8a8" stroke-width="1.0"/>
<path d="M340.80,215.30 l0.3,3.8" stroke="#888" stroke-width="0.9"/>
<path d="M341.20,196.69 Q341.60,197.28 342.00,198.17 Q342.40,199.06 342.85,200.14 Q343.30,201.22 343.60,202.40 Q343.90,203.59 344.12,204.97 Q344.35,206.34 344.48,208.12 Q344.60,209.89 344.55,211.27 Q344.50,212.65 344.15,213.73 Q343.80,214.81 342.90,215.31 Q342.00,215.80 341.40,215.90 Q340.80,216.00 340.20,215.90 Q339.60,215.80 338.70,215.31 Q337.80,214.81 337.45,213.73 Q337.10,212.65 337.05,211.27 Q337.00,209.89 337.12,208.12 Q337.25,206.34 337.48,204.97 Q337.70,203.59 338.00,202.40 Q338.30,201.22 338.75,200.14 Q339.20,199.06 339.60,198.17 Q340.00,197.28 340.40,196.69 Q340.80,196.10 341.20,196.69 Z" fill="url(#mg)"/>
<ellipse cx="343.09" cy="209.31" rx="0.71" ry="0.76" fill="#8a8a8a" opacity="0.45"/>
<ellipse cx="343.37" cy="210.34" rx="0.94" ry="0.89" fill="#8a8a8a" opacity="0.45"/>
<ellipse cx="339.81" cy="206.76" rx="0.59" ry="1.10" fill="#8a8a8a" opacity="0.45"/>
<ellipse cx="340.41" cy="211.96" rx="0.75" ry="0.97" fill="#8a8a8a" opacity="0.45"/>
<ellipse cx="340.83" cy="213.49" rx="0.71" ry="1.16" fill="#8a8a8a" opacity="0.45"/>
<ellipse cx="339.42" cy="208.92" rx="0.67" ry="1.30" fill="#8a8a8a" opacity="0.45"/>
<ellipse cx="340.03" cy="211.70" rx="1.21" ry="1.45" fill="#f8f8f8" opacity="0.7"/>
<ellipse cx="342.36" cy="208.02" rx="1.25" ry="1.60" fill="#f8f8f8" opacity="0.7"/>
<rect x="325.2" y="229.6" width="84.30" height="26.10" fill="#282828"/>
<path d="M328.20,249.60 l-1.2,4.2 M333.00,249.60 l1.2,4.2 M328.30,238.30 l-1.3,1.4 M332.90,238.30 l1.3,1.4" stroke="#a8a8a8" stroke-width="1.0"/>
<path d="M330.60,250.60 l0.3,3.8" stroke="#888" stroke-width="0.9"/>
<path d="M331.00,231.99 Q331.40,232.58 331.80,233.47 Q332.20,234.36 332.65,235.44 Q333.10,236.52 333.40,237.70 Q333.70,238.89 333.93,240.26 Q334.15,241.64 334.28,243.42 Q334.40,245.19 334.35,246.57 Q334.30,247.95 333.95,249.03 Q333.60,250.12 332.70,250.61 Q331.80,251.10 331.20,251.20 Q330.60,251.30 330.00,251.20 Q329.40,251.10 328.50,250.61 Q327.60,250.12 327.25,249.03 Q326.90,247.95 326.85,246.57 Q326.80,245.19 326.93,243.42 Q327.05,241.64 327.27,240.26 Q327.50,238.89 327.80,237.70 Q328.10,236.52 328.55,235.44 Q329.00,234.36 329.40,233.47 Q329.80,232.58 330.20,231.99 Q330.60,231.40 331.00,231.99 Z" fill="url(#mg)"/>
<ellipse cx="330.33" cy="237.73" rx="0.75" ry="0.83" fill="#8a8a8a" opacity="0.45"/>
<ellipse cx="330.29" cy="248.95" rx="0.68" ry="1.16" fill="#8a8a8a" opacity="0.45"/>
<ellipse cx="331.49" cy="240.00" rx="0.75" ry="0.71" fill="#8a8a8a" opacity="0.45"/>
<ellipse cx="332.66" cy="240.09" rx="0.75" ry="0.87" fill="#8a8a8a" opacity="0.45"/>
<ellipse cx="332.27" cy="247.64" rx="0.85" ry="1.04" fill="#8a8a8a" opacity="0.45"/>
<ellipse cx="328.52" cy="248.22" rx="0.55" ry="0.89" fill="#8a8a8a" opacity="0.45"/>
<ellipse cx="330.15" cy="245.96" rx="1.20" ry="1.34" fill="#f8f8f8" opacity="0.7"/>
<ellipse cx="332.03" cy="247.75" rx="0.81" ry="1.63" fill="#f8f8f8" opacity="0.7"/>
<ellipse cx="330.60" cy="245.19" rx="2.3" ry="2.8" fill="#8080c8" opacity="0.45" transform="rotate(0 330.60 245.19)"/>
<path d="M338.40,249.60 l-1.2,4.2 M343.20,249.60 l1.2,4.2 M338.50,238.30 l-1.3,1.4 M343.10,238.30 l1.3,1.4" stroke="#a8a8a8" stroke-width="1.0"/>
<path d="M340.80,250.60 l0.3,3.8" stroke="#888" stroke-width="0.9"/>
<path d="M341.20,231.99 Q341.60,232.58 342.00,233.47 Q342.40,234.36 342.85,235.44 Q343.30,236.52 343.60,237.70 Q343.90,238.89 344.12,240.26 Q344.35,241.64 344.48,243.42 Q344.60,245.19 344.55,246.57 Q344.50,247.95 344.15,249.03 Q343.80,250.12 342.90,250.61 Q342.00,251.10 341.40,251.20 Q340.80,251.30 340.20,251.20 Q339.60,251.10 338.70,250.61 Q337.80,250.12 337.45,249.03 Q337.10,247.95 337.05,246.57 Q337.00,245.19 337.12,243.42 Q337.25,241.64 337.48,240.26 Q337.70,238.89 338.00,237.70 Q338.30,236.52 338.75,235.44 Q339.20,234.36 339.60,233.47 Q340.00,232.58 340.40,231.99 Q340.80,231.40 341.20,231.99 Z" fill="url(#mg)"/>
<ellipse cx="340.64" cy="241.48" rx="0.78" ry="0.85" fill="#8a8a8a" opacity="0.45"/>
<ellipse cx="341.69" cy="244.55" rx="1.08" ry="1.38" fill="#8a8a8a" opacity="0.45"/>
<ellipse cx="343.36" cy="241.90" rx="1.00" ry="1.12" fill="#8a8a8a" opacity="0.45"/>
<ellipse cx="341.85" cy="249.49" rx="0.54" ry="0.97" fill="#8a8a8a" opacity="0.45"/>
<ellipse cx="340.29" cy="245.19" rx="0.63" ry="1.39" fill="#8a8a8a" opacity="0.45"/>
<ellipse cx="339.29" cy="241.58" rx="0.59" ry="0.92" fill="#8a8a8a" opacity="0.45"/>
<ellipse cx="341.67" cy="240.92" rx="0.90" ry="1.65" fill="#f8f8f8" opacity="0.7"/>
<ellipse cx="341.24" cy="246.11" rx="0.95" ry="1.81" fill="#f8f8f8" opacity="0.7"/>
<path d="M348.90,249.60 l-1.2,4.2 M353.70,249.60 l1.2,4.2 M349.00,238.30 l-1.3,1.4 M353.60,238.30 l1.3,1.4" stroke="#a8a8a8" stroke-width="1.0"/>
<path d="M351.30,250.60 l0.3,3.8" stroke="#888" stroke-width="0.9"/>
<path d="M351.70,231.99 Q352.10,232.58 352.50,233.47 Q352.90,234.36 353.35,235.44 Q353.80,236.52 354.10,237.70 Q354.40,238.89 354.62,240.26 Q354.85,241.64 354.98,243.42 Q355.10,245.19 355.05,246.57 Q355.00,247.95 354.65,249.03 Q354.30,250.12 353.40,250.61 Q352.50,251.10 351.90,251.20 Q351.30,251.30 350.70,251.20 Q350.10,251.10 349.20,250.61 Q348.30,250.12 347.95,249.03 Q347.60,247.95 347.55,246.57 Q347.50,245.19 347.62,243.42 Q347.75,241.64 347.98,240.26 Q348.20,238.89 348.50,237.70 Q348.80,236.52 349.25,235.44 Q349.70,234.36 350.10,233.47 Q350.50,232.58 350.90,231.99 Q351.30,231.40 351.70,231.99 Z" fill="url(#mg)"/>
<ellipse cx="352.50" cy="246.70" rx="0.57" ry="0.97" fill="#8a8a8a" opacity="0.45"/>
<ellipse cx="348.78" cy="247.75" rx="1.07" ry="1.32" fill="#8a8a8a" opacity="0.45"/>
<ellipse cx="348.83" cy="241.34" rx="0.82" ry="1.03" fill="#8a8a8a" opacity="0.45"/>
<ellipse cx="349.28" cy="246.87" rx="0.68" ry="1.01" fill="#8a8a8a" opacity="0.45"/>
<ellipse cx="349.35" cy="244.08" rx="0.58" ry="0.67" fill="#8a8a8a" opacity="0.45"/>
<ellipse cx="351.36" cy="240.62" rx="0.97" ry="0.80" fill="#8a8a8a" opacity="0.45"/>
<ellipse cx="350.99" cy="240.69" rx="0.93" ry="1.45" fill="#f8f8f8" opacity="0.7"/>
<ellipse cx="351.51" cy="243.88" rx="1.31" ry="1.10" fill="#f8f8f8" opacity="0.7"/>
<path d="M359.50,249.60 l-1.2,4.2 M364.30,249.60 l1.2,4.2 M359.60,238.30 l-1.3,1.4 M364.20,238.30 l1.3,1.4" stroke="#a8a8a8" stroke-width="1.0"/>
<path d="M361.90,250.60 l0.3,3.8" stroke="#888" stroke-width="0.9"/>
<path d="M362.30,231.99 Q362.70,232.58 363.10,233.47 Q363.50,234.36 363.95,235.44 Q364.40,236.52 364.70,237.70 Q365.00,238.89 365.23,240.26 Q365.45,241.64 365.57,243.42 Q365.70,245.19 365.65,246.57 Q365.60,247.95 365.25,249.03 Q364.90,250.12 364.00,250.61 Q363.10,251.10 362.50,251.20 Q361.90,251.30 361.30,251.20 Q360.70,251.10 359.80,250.61 Q358.90,250.12 358.55,249.03 Q358.20,247.95 358.15,246.57 Q358.10,245.19 358.22,243.42 Q358.35,241.64 358.57,240.26 Q358.80,238.89 359.10,237.70 Q359.40,236.52 359.85,235.44 Q360.30,234.36 360.70,233.47 Q361.10,232.58 361.50,231.99 Q361.90,231.40 362.30,231.99 Z" fill="url(#mg)"/>
<ellipse cx="363.72" cy="238.87" rx="1.08" ry="1.02" fill="#8a8a8a" opacity="0.45"/>
<ellipse cx="361.41" cy="244.63" rx="1.02" ry="1.37" fill="#8a8a8a" opacity="0.45"/>
<ellipse cx="361.45" cy="237.05" rx="0.59" ry="1.25" fill="#8a8a8a" opacity="0.45"/>
<ellipse cx="363.12" cy="245.90" rx="0.59" ry="1.02" fill="#8a8a8a" opacity="0.45"/>
<ellipse cx="359.45" cy="238.31" rx="0.68" ry="1.37" fill="#8a8a8a" opacity="0.45"/>
<ellipse cx="362.64" cy="247.60" rx="0.53" ry="0.93" fill="#8a8a8a" opacity="0.45"/>
<ellipse cx="360.38" cy="242.32" rx="0.87" ry="1.92" fill="#f8f8f8" opacity="0.7"/>
<ellipse cx="361.28" cy="244.12" rx="1.19" ry="1.89" fill="#f8f8f8" opacity="0.7"/>
<path d="M369.50,249.60 l-1.2,4.2 M374.30,249.60 l1.2,4.2 M369.60,238.30 l-1.3,1.4 M374.20,238.30 l1.3,1.4" stroke="#a8a8a8" stroke-width="1.0"/>
<path d="M371.90,250.60 l0.3,3.8" stroke="#888" stroke-width="0.9"/>
<path d="M372.30,231.99 Q372.70,232.58 373.10,233.47 Q373.50,234.36 373.95,235.44 Q374.40,236.52 374.70,237.70 Q375.00,238.89 375.23,240.26 Q375.45,241.64 375.57,243.42 Q375.70,245.19 375.65,246.57 Q375.60,247.95 375.25,249.03 Q374.90,250.12 374.00,250.61 Q373.10,251.10 372.50,251.20 Q371.90,251.30 371.30,251.20 Q370.70,251.10 369.80,250.61 Q368.90,250.12 368.55,249.03 Q368.20,247.95 368.15,246.57 Q368.10,245.19 368.22,243.42 Q368.35,241.64 368.57,240.26 Q368.80,238.89 369.10,237.70 Q369.40,236.52 369.85,235.44 Q370.30,234.36 370.70,233.47 Q371.10,232.58 371.50,231.99 Q371.90,231.40 372.30,231.99 Z" fill="url(#mg)"/>
<ellipse cx="374.22" cy="244.08" rx="0.80" ry="1.32" fill="#8a8a8a" opacity="0.45"/>
<ellipse cx="371.35" cy="240.69" rx="0.94" ry="0.81" fill="#8a8a8a" opacity="0.45"/>
<ellipse cx="371.21" cy="242.33" rx="0.79" ry="0.89" fill="#8a8a8a" opacity="0.45"/>
<ellipse cx="371.54" cy="242.60" rx="0.53" ry="1.27" fill="#8a8a8a" opacity="0.45"/>
<ellipse cx="369.62" cy="243.57" rx="0.83" ry="0.92" fill="#8a8a8a" opacity="0.45"/>
<ellipse cx="370.46" cy="238.17" rx="0.72" ry="0.85" fill="#8a8a8a" opacity="0.45"/>
<ellipse cx="371.84" cy="242.08" rx="1.25" ry="1.49" fill="#f8f8f8" opacity="0.7"/>
<ellipse cx="370.13" cy="243.47" rx="1.38" ry="1.01" fill="#f8f8f8" opacity="0.7"/>
<ellipse cx="371.90" cy="238.30" rx="2.3" ry="2.8" fill="#8080c8" opacity="0.5" transform="rotate(0 371.90 238.30)"/>
<path d="M379.50,249.60 l-1.2,4.2 M384.30,249.60 l1.2,4.2 M379.60,238.30 l-1.3,1.4 M384.20,238.30 l1.3,1.4" stroke="#a8a8a8" stroke-width="1.0"/>
<path d="M381.90,250.60 l0.3,3.8" stroke="#888" stroke-width="0.9"/>
<path d="M382.30,231.99 Q382.70,232.58 383.10,233.47 Q383.50,234.36 383.95,235.44 Q384.40,236.52 384.70,237.70 Q385.00,238.89 385.23,240.26 Q385.45,241.64 385.57,243.42 Q385.70,245.19 385.65,246.57 Q385.60,247.95 385.25,249.03 Q384.90,250.12 384.00,250.61 Q383.10,251.10 382.50,251.20 Q381.90,251.30 381.30,251.20 Q380.70,251.10 379.80,250.61 Q378.90,250.12 378.55,249.03 Q378.20,247.95 378.15,246.57 Q378.10,245.19 378.22,243.42 Q378.35,241.64 378.57,240.26 Q378.80,238.89 379.10,237.70 Q379.40,236.52 379.85,235.44 Q380.30,234.36 380.70,233.47 Q381.10,232.58 381.50,231.99 Q381.90,231.40 382.30,231.99 Z" fill="url(#mg)"/>
<ellipse cx="382.39" cy="249.03" rx="0.72" ry="1.08" fill="#8a8a8a" opacity="0.45"/>
<ellipse cx="381.22" cy="240.71" rx="0.87" ry="1.07" fill="#8a8a8a" opacity="0.45"/>
<ellipse cx="380.94" cy="243.19" rx="0.81" ry="1.20" fill="#8a8a8a" opacity="0.45"/>
<ellipse cx="379.58" cy="238.09" rx="0.65" ry="0.82" fill="#8a8a8a" opacity="0.45"/>
<ellipse cx="383.44" cy="242.28" rx="1.02" ry="0.92" fill="#8a8a8a" opacity="0.45"/>
<ellipse cx="380.79" cy="245.49" rx="0.55" ry="1.39" fill="#8a8a8a" opacity="0.45"/>
<ellipse cx="383.09" cy="242.85" rx="0.99" ry="1.82" fill="#f8f8f8" opacity="0.7"/>
<ellipse cx="382.94" cy="245.33" rx="0.83" ry="1.76" fill="#f8f8f8" opacity="0.7"/>
<path d="M390.30,249.60 l-1.2,4.2 M395.10,249.60 l1.2,4.2 M390.40,238.30 l-1.3,1.4 M395.00,238.30 l1.3,1.4" stroke="#a8a8a8" stroke-width="1.0"/>
<path d="M392.70,250.60 l0.3,3.8" stroke="#888" stroke-width="0.9"/>
<path d="M393.10,231.99 Q393.50,232.58 393.90,233.47 Q394.30,234.36 394.75,235.44 Q395.20,236.52 395.50,237.70 Q395.80,238.89 396.02,240.26 Q396.25,241.64 396.38,243.42 Q396.50,245.19 396.45,246.57 Q396.40,247.95 396.05,249.03 Q395.70,250.12 394.80,250.61 Q393.90,251.10 393.30,251.20 Q392.70,251.30 392.10,251.20 Q391.50,251.10 390.60,250.61 Q389.70,250.12 389.35,249.03 Q389.00,247.95 388.95,246.57 Q388.90,245.19 389.02,243.42 Q389.15,241.64 389.38,240.26 Q389.60,238.89 389.90,237.70 Q390.20,236.52 390.65,235.44 Q391.10,234.36 391.50,233.47 Q391.90,232.58 392.30,231.99 Q392.70,231.40 393.10,231.99 Z" fill="url(#mg)"/>
<ellipse cx="390.35" cy="244.79" rx="0.83" ry="1.34" fill="#8a8a8a" opacity="0.45"/>
<ellipse cx="393.42" cy="237.20" rx="1.06" ry="1.20" fill="#8a8a8a" opacity="0.45"/>
<ellipse cx="393.12" cy="236.99" rx="0.94" ry="0.93" fill="#8a8a8a" opacity="0.45"/>
<ellipse cx="393.63" cy="249.32" rx="1.05" ry="0.66" fill="#8a8a8a" opacity="0.45"/>
<ellipse cx="394.16" cy="242.47" rx="0.95" ry="0.90" fill="#8a8a8a" opacity="0.45"/>
<ellipse cx="392.43" cy="242.42" rx="0.57" ry="0.86" fill="#8a8a8a" opacity="0.45"/>
<ellipse cx="393.54" cy="240.83" rx="0.87" ry="1.83" fill="#f8f8f8" opacity="0.7"/>
<ellipse cx="393.30" cy="244.58" rx="0.87" ry="1.12" fill="#f8f8f8" opacity="0.7"/>
<path d="M400.30,249.60 l-1.2,4.2 M405.10,249.60 l1.2,4.2 M400.40,238.30 l-1.3,1.4 M405.00,238.30 l1.3,1.4" stroke="#a8a8a8" stroke-width="1.0"/>
<path d="M402.70,250.60 l0.3,3.8" stroke="#888" stroke-width="0.9"/>
<path d="M403.10,231.99 Q403.50,232.58 403.90,233.47 Q404.30,234.36 404.75,235.44 Q405.20,236.52 405.50,237.70 Q405.80,238.89 406.02,240.26 Q406.25,241.64 406.38,243.42 Q406.50,245.19 406.45,246.57 Q406.40,247.95 406.05,249.03 Q405.70,250.12 404.80,250.61 Q403.90,251.10 403.30,251.20 Q402.70,251.30 402.10,251.20 Q401.50,251.10 400.60,250.61 Q399.70,250.12 399.35,249.03 Q399.00,247.95 398.95,246.57 Q398.90,245.19 399.02,243.42 Q399.15,241.64 399.38,240.26 Q399.60,238.89 399.90,237.70 Q400.20,236.52 400.65,235.44 Q401.10,234.36 401.50,233.47 Q401.90,232.58 402.30,231.99 Q402.70,231.40 403.10,231.99 Z" fill="url(#mg)"/>
<ellipse cx="401.71" cy="248.94" rx="0.84" ry="1.34" fill="#8a8a8a" opacity="0.45"/>
<ellipse cx="401.20" cy="242.15" rx="0.82" ry="1.27" fill="#8a8a8a" opacity="0.45"/>
<ellipse cx="400.74" cy="247.93" rx="0.78" ry="0.63" fill="#8a8a8a" opacity="0.45"/>
<ellipse cx="402.35" cy="241.68" rx="0.90" ry="1.34" fill="#8a8a8a" opacity="0.45"/>
<ellipse cx="402.67" cy="245.61" rx="0.73" ry="1.22" fill="#8a8a8a" opacity="0.45"/>
<ellipse cx="400.65" cy="246.28" rx="0.60" ry="1.07" fill="#8a8a8a" opacity="0.45"/>
<ellipse cx="401.63" cy="242.99" rx="0.90" ry="1.35" fill="#f8f8f8" opacity="0.7"/>
<ellipse cx="403.03" cy="244.36" rx="1.03" ry="1.57" fill="#f8f8f8" opacity="0.7"/>
<rect x="417.3" y="229.6" width="73.10" height="26.10" fill="#2c2c2c"/>
<path d="M422.30,249.60 l-1.2,4.2 M427.10,249.60 l1.2,4.2 M422.40,238.30 l-1.3,1.4 M427.00,238.30 l1.3,1.4" stroke="#a8a8a8" stroke-width="1.0"/>
<path d="M424.70,250.60 l0.3,3.8" stroke="#888" stroke-width="0.9"/>
<path d="M425.10,231.99 Q425.50,232.58 425.90,233.47 Q426.30,234.36 426.75,235.44 Q427.20,236.52 427.50,237.70 Q427.80,238.89 428.02,240.26 Q428.25,241.64 428.38,243.42 Q428.50,245.19 428.45,246.57 Q428.40,247.95 428.05,249.03 Q427.70,250.12 426.80,250.61 Q425.90,251.10 425.30,251.20 Q424.70,251.30 424.10,251.20 Q423.50,251.10 422.60,250.61 Q421.70,250.12 421.35,249.03 Q421.00,247.95 420.95,246.57 Q420.90,245.19 421.02,243.42 Q421.15,241.64 421.38,240.26 Q421.60,238.89 421.90,237.70 Q422.20,236.52 422.65,235.44 Q423.10,234.36 423.50,233.47 Q423.90,232.58 424.30,231.99 Q424.70,231.40 425.10,231.99 Z" fill="url(#mg)"/>
<ellipse cx="426.48" cy="241.43" rx="0.85" ry="0.98" fill="#8a8a8a" opacity="0.45"/>
<ellipse cx="427.20" cy="241.05" rx="0.92" ry="0.79" fill="#8a8a8a" opacity="0.45"/>
<ellipse cx="423.46" cy="246.13" rx="0.84" ry="0.81" fill="#8a8a8a" opacity="0.45"/>
<ellipse cx="422.43" cy="247.32" rx="0.73" ry="1.17" fill="#8a8a8a" opacity="0.45"/>
<ellipse cx="424.35" cy="244.70" rx="0.84" ry="1.38" fill="#8a8a8a" opacity="0.45"/>
<ellipse cx="426.83" cy="242.66" rx="0.79" ry="0.79" fill="#8a8a8a" opacity="0.45"/>
<ellipse cx="425.61" cy="241.07" rx="0.98" ry="1.85" fill="#f8f8f8" opacity="0.7"/>
<ellipse cx="423.03" cy="245.77" rx="1.14" ry="1.55" fill="#f8f8f8" opacity="0.7"/>
<ellipse cx="424.70" cy="238.30" rx="2.3" ry="2.5" fill="#8080c8" opacity="0.5" transform="rotate(0 424.70 238.30)"/>
<path d="M432.30,249.60 l-1.2,4.2 M437.10,249.60 l1.2,4.2 M432.40,238.30 l-1.3,1.4 M437.00,238.30 l1.3,1.4" stroke="#a8a8a8" stroke-width="1.0"/>
<path d="M434.70,250.60 l0.3,3.8" stroke="#888" stroke-width="0.9"/>
<path d="M435.10,231.99 Q435.50,232.58 435.90,233.47 Q436.30,234.36 436.75,235.44 Q437.20,236.52 437.50,237.70 Q437.80,238.89 438.02,240.26 Q438.25,241.64 438.38,243.42 Q438.50,245.19 438.45,246.57 Q438.40,247.95 438.05,249.03 Q437.70,250.12 436.80,250.61 Q435.90,251.10 435.30,251.20 Q434.70,251.30 434.10,251.20 Q433.50,251.10 432.60,250.61 Q431.70,250.12 431.35,249.03 Q431.00,247.95 430.95,246.57 Q430.90,245.19 431.02,243.42 Q431.15,241.64 431.38,240.26 Q431.60,238.89 431.90,237.70 Q432.20,236.52 432.65,235.44 Q433.10,234.36 433.50,233.47 Q433.90,232.58 434.30,231.99 Q434.70,231.40 435.10,231.99 Z" fill="url(#mg)"/>
<ellipse cx="433.83" cy="238.83" rx="1.07" ry="1.21" fill="#8a8a8a" opacity="0.45"/>
<ellipse cx="436.29" cy="238.15" rx="0.97" ry="0.77" fill="#8a8a8a" opacity="0.45"/>
<ellipse cx="433.14" cy="243.66" rx="0.87" ry="0.70" fill="#8a8a8a" opacity="0.45"/>
<ellipse cx="436.08" cy="244.26" rx="1.04" ry="1.34" fill="#8a8a8a" opacity="0.45"/>
<ellipse cx="435.68" cy="241.51" rx="1.07" ry="1.17" fill="#8a8a8a" opacity="0.45"/>
<ellipse cx="433.61" cy="247.73" rx="0.94" ry="0.81" fill="#8a8a8a" opacity="0.45"/>
<ellipse cx="433.80" cy="240.43" rx="1.12" ry="1.25" fill="#f8f8f8" opacity="0.7"/>
<ellipse cx="433.95" cy="242.26" rx="0.88" ry="1.48" fill="#f8f8f8" opacity="0.7"/>
<ellipse cx="434.70" cy="238.30" rx="2" ry="2" fill="#8080c8" opacity="0.35" transform="rotate(0 434.70 238.30)"/>
<path d="M441.90,249.60 l-1.2,4.2 M446.70,249.60 l1.2,4.2 M442.00,238.30 l-1.3,1.4 M446.60,238.30 l1.3,1.4" stroke="#a8a8a8" stroke-width="1.0"/>
<path d="M444.30,250.60 l0.3,3.8" stroke="#888" stroke-width="0.9"/>
<path d="M444.70,231.99 Q445.10,232.58 445.50,233.47 Q445.90,234.36 446.35,235.44 Q446.80,236.52 447.10,237.70 Q447.40,238.89 447.62,240.26 Q447.85,241.64 447.98,243.42 Q448.10,245.19 448.05,246.57 Q448.00,247.95 447.65,249.03 Q447.30,250.12 446.40,250.61 Q445.50,251.10 444.90,251.20 Q444.30,251.30 443.70,251.20 Q443.10,251.10 442.20,250.61 Q441.30,250.12 440.95,249.03 Q440.60,247.95 440.55,246.57 Q440.50,245.19 440.62,243.42 Q440.75,241.64 440.98,240.26 Q441.20,238.89 441.50,237.70 Q441.80,236.52 442.25,235.44 Q442.70,234.36 443.10,233.47 Q443.50,232.58 443.90,231.99 Q444.30,231.40 444.70,231.99 Z" fill="url(#mg)"/>
<ellipse cx="443.12" cy="240.51" rx="0.67" ry="1.01" fill="#8a8a8a" opacity="0.45"/>
<ellipse cx="446.24" cy="238.93" rx="1.02" ry="1.28" fill="#8a8a8a" opacity="0.45"/>
<ellipse cx="444.87" cy="243.77" rx="0.94" ry="1.03" fill="#8a8a8a" opacity="0.45"/>
<ellipse cx="445.13" cy="248.51" rx="0.97" ry="0.81" fill="#8a8a8a" opacity="0.45"/>
<ellipse cx="441.98" cy="248.73" rx="0.72" ry="1.23" fill="#8a8a8a" opacity="0.45"/>
<ellipse cx="442.91" cy="242.63" rx="0.72" ry="1.18" fill="#8a8a8a" opacity="0.45"/>
<ellipse cx="445.90" cy="244.25" rx="1.14" ry="1.35" fill="#f8f8f8" opacity="0.7"/>
<ellipse cx="443.34" cy="247.75" rx="0.87" ry="1.94" fill="#f8f8f8" opacity="0.7"/>
<ellipse cx="444.30" cy="238.89" rx="2.2" ry="2.2" fill="#8080c8" opacity="0.45" transform="rotate(0 444.30 238.89)"/>
<path d="M452.20,249.60 l-1.2,4.2 M457.00,249.60 l1.2,4.2 M452.30,238.30 l-1.3,1.4 M456.90,238.30 l1.3,1.4" stroke="#a8a8a8" stroke-width="1.0"/>
<path d="M454.60,250.60 l0.3,3.8" stroke="#888" stroke-width="0.9"/>
<path d="M455.00,231.99 Q455.40,232.58 455.80,233.47 Q456.20,234.36 456.65,235.44 Q457.10,236.52 457.40,237.70 Q457.70,238.89 457.93,240.26 Q458.15,241.64 458.28,243.42 Q458.40,245.19 458.35,246.57 Q458.30,247.95 457.95,249.03 Q457.60,250.12 456.70,250.61 Q455.80,251.10 455.20,251.20 Q454.60,251.30 454.00,251.20 Q453.40,251.10 452.50,250.61 Q451.60,250.12 451.25,249.03 Q450.90,247.95 450.85,246.57 Q450.80,245.19 450.93,243.42 Q451.05,241.64 451.27,240.26 Q451.50,238.89 451.80,237.70 Q452.10,236.52 452.55,235.44 Q453.00,234.36 453.40,233.47 Q453.80,232.58 454.20,231.99 Q454.60,231.40 455.00,231.99 Z" fill="url(#mg)"/>
<ellipse cx="455.42" cy="237.82" rx="1.04" ry="0.68" fill="#8a8a8a" opacity="0.45"/>
<ellipse cx="454.94" cy="238.43" rx="1.09" ry="0.85" fill="#8a8a8a" opacity="0.45"/>
<ellipse cx="456.54" cy="237.69" rx="0.90" ry="0.65" fill="#8a8a8a" opacity="0.45"/>
<ellipse cx="452.15" cy="244.11" rx="1.09" ry="1.15" fill="#8a8a8a" opacity="0.45"/>
<ellipse cx="456.45" cy="246.81" rx="0.81" ry="0.66" fill="#8a8a8a" opacity="0.45"/>
<ellipse cx="454.74" cy="239.24" rx="0.82" ry="0.88" fill="#8a8a8a" opacity="0.45"/>
<ellipse cx="454.60" cy="241.82" rx="1.22" ry="1.42" fill="#f8f8f8" opacity="0.7"/>
<ellipse cx="454.55" cy="240.89" rx="1.09" ry="1.56" fill="#f8f8f8" opacity="0.7"/>
<ellipse cx="454.60" cy="243.61" rx="2.8" ry="3.6" fill="#4848b0" opacity="0.75" transform="rotate(0 454.60 243.61)"/>
<path d="M462.60,249.60 l-1.2,4.2 M467.40,249.60 l1.2,4.2 M462.70,238.30 l-1.3,1.4 M467.30,238.30 l1.3,1.4" stroke="#a8a8a8" stroke-width="1.0"/>
<path d="M465.00,250.60 l0.3,3.8" stroke="#888" stroke-width="0.9"/>
<path d="M465.40,231.99 Q465.80,232.58 466.20,233.47 Q466.60,234.36 467.05,235.44 Q467.50,236.52 467.80,237.70 Q468.10,238.89 468.33,240.26 Q468.55,241.64 468.68,243.42 Q468.80,245.19 468.75,246.57 Q468.70,247.95 468.35,249.03 Q468.00,250.12 467.10,250.61 Q466.20,251.10 465.60,251.20 Q465.00,251.30 464.40,251.20 Q463.80,251.10 462.90,250.61 Q462.00,250.12 461.65,249.03 Q461.30,247.95 461.25,246.57 Q461.20,245.19 461.32,243.42 Q461.45,241.64 461.67,240.26 Q461.90,238.89 462.20,237.70 Q462.50,236.52 462.95,235.44 Q463.40,234.36 463.80,233.47 Q464.20,232.58 464.60,231.99 Q465.00,231.40 465.40,231.99 Z" fill="url(#mg)"/>
<ellipse cx="467.46" cy="243.99" rx="0.58" ry="0.84" fill="#8a8a8a" opacity="0.45"/>
<ellipse cx="464.15" cy="245.77" rx="1.06" ry="1.38" fill="#8a8a8a" opacity="0.45"/>
<ellipse cx="467.34" cy="248.58" rx="1.02" ry="1.35" fill="#8a8a8a" opacity="0.45"/>
<ellipse cx="462.50" cy="243.09" rx="0.85" ry="1.15" fill="#8a8a8a" opacity="0.45"/>
<ellipse cx="465.59" cy="244.65" rx="1.06" ry="0.67" fill="#8a8a8a" opacity="0.45"/>
<ellipse cx="465.10" cy="249.01" rx="0.52" ry="0.69" fill="#8a8a8a" opacity="0.45"/>
<ellipse cx="466.33" cy="247.81" rx="0.81" ry="1.03" fill="#f8f8f8" opacity="0.7"/>
<ellipse cx="466.19" cy="245.69" rx="1.11" ry="1.58" fill="#f8f8f8" opacity="0.7"/>
<path d="M472.50,249.60 l-1.2,4.2 M477.30,249.60 l1.2,4.2 M472.60,238.30 l-1.3,1.4 M477.20,238.30 l1.3,1.4" stroke="#a8a8a8" stroke-width="1.0"/>
<path d="M474.90,250.60 l0.3,3.8" stroke="#888" stroke-width="0.9"/>
<path d="M475.30,231.99 Q475.70,232.58 476.10,233.47 Q476.50,234.36 476.95,235.44 Q477.40,236.52 477.70,237.70 Q478.00,238.89 478.23,240.26 Q478.45,241.64 478.57,243.42 Q478.70,245.19 478.65,246.57 Q478.60,247.95 478.25,249.03 Q477.90,250.12 477.00,250.61 Q476.10,251.10 475.50,251.20 Q474.90,251.30 474.30,251.20 Q473.70,251.10 472.80,250.61 Q471.90,250.12 471.55,249.03 Q471.20,247.95 471.15,246.57 Q471.10,245.19 471.22,243.42 Q471.35,241.64 471.57,240.26 Q471.80,238.89 472.10,237.70 Q472.40,236.52 472.85,235.44 Q473.30,234.36 473.70,233.47 Q474.10,232.58 474.50,231.99 Q474.90,231.40 475.30,231.99 Z" fill="url(#mg)"/>
<ellipse cx="476.24" cy="247.10" rx="0.50" ry="0.65" fill="#8a8a8a" opacity="0.45"/>
<ellipse cx="476.43" cy="249.21" rx="1.00" ry="0.93" fill="#8a8a8a" opacity="0.45"/>
<ellipse cx="474.04" cy="241.29" rx="0.51" ry="1.22" fill="#8a8a8a" opacity="0.45"/>
<ellipse cx="473.66" cy="244.30" rx="0.82" ry="0.87" fill="#8a8a8a" opacity="0.45"/>
<ellipse cx="475.81" cy="242.65" rx="0.64" ry="1.31" fill="#8a8a8a" opacity="0.45"/>
<ellipse cx="473.21" cy="238.81" rx="0.65" ry="0.98" fill="#8a8a8a" opacity="0.45"/>
<ellipse cx="475.92" cy="242.89" rx="0.94" ry="1.65" fill="#f8f8f8" opacity="0.7"/>
<ellipse cx="474.04" cy="244.38" rx="0.95" ry="1.88" fill="#f8f8f8" opacity="0.7"/>
<path d="M482.00,249.60 l-1.2,4.2 M486.80,249.60 l1.2,4.2 M482.10,238.30 l-1.3,1.4 M486.70,238.30 l1.3,1.4" stroke="#a8a8a8" stroke-width="1.0"/>
<path d="M484.40,250.60 l0.3,3.8" stroke="#888" stroke-width="0.9"/>
<path d="M484.80,231.99 Q485.20,232.58 485.60,233.47 Q486.00,234.36 486.45,235.44 Q486.90,236.52 487.20,237.70 Q487.50,238.89 487.73,240.26 Q487.95,241.64 488.07,243.42 Q488.20,245.19 488.15,246.57 Q488.10,247.95 487.75,249.03 Q487.40,250.12 486.50,250.61 Q485.60,251.10 485.00,251.20 Q484.40,251.30 483.80,251.20 Q483.20,251.10 482.30,250.61 Q481.40,250.12 481.05,249.03 Q480.70,247.95 480.65,246.57 Q480.60,245.19 480.72,243.42 Q480.85,241.64 481.07,240.26 Q481.30,238.89 481.60,237.70 Q481.90,236.52 482.35,235.44 Q482.80,234.36 483.20,233.47 Q483.60,232.58 484.00,231.99 Q484.40,231.40 484.80,231.99 Z" fill="url(#mg)"/>
<ellipse cx="482.76" cy="239.84" rx="0.68" ry="0.86" fill="#8a8a8a" opacity="0.45"/>
<ellipse cx="485.58" cy="245.42" rx="0.97" ry="1.03" fill="#8a8a8a" opacity="0.45"/>
<ellipse cx="482.21" cy="246.54" rx="0.65" ry="0.77" fill="#8a8a8a" opacity="0.45"/>
<ellipse cx="483.95" cy="249.40" rx="0.72" ry="0.89" fill="#8a8a8a" opacity="0.45"/>
<ellipse cx="486.54" cy="249.40" rx="0.73" ry="0.71" fill="#8a8a8a" opacity="0.45"/>
<ellipse cx="485.91" cy="246.78" rx="0.70" ry="1.23" fill="#8a8a8a" opacity="0.45"/>
<ellipse cx="483.97" cy="242.53" rx="1.16" ry="1.74" fill="#f8f8f8" opacity="0.7"/>
<ellipse cx="484.31" cy="246.71" rx="0.81" ry="1.50" fill="#f8f8f8" opacity="0.7"/>
<line x1="67.40" y1="292.00" x2="67.40" y2="383.80" stroke="#000" stroke-width="1.3"/>
<line x1="66.80" y1="383.20" x2="196.30" y2="383.20" stroke="#000" stroke-width="1.3"/>
<line x1="64.80" y1="292.50" x2="67.40" y2="292.50" stroke="#000" stroke-width="1.1"/>
<text x="64.0" y="294.7" font-size="6.1" font-weight="bold" text-anchor="end" fill="#1a1a1a" >10000</text>
<line x1="64.80" y1="307.62" x2="67.40" y2="307.62" stroke="#000" stroke-width="1.1"/>
<text x="64.0" y="309.81666666666666" font-size="6.1" font-weight="bold" text-anchor="end" fill="#1a1a1a" >1000</text>
<line x1="64.80" y1="322.73" x2="67.40" y2="322.73" stroke="#000" stroke-width="1.1"/>
<text x="64.0" y="324.93333333333334" font-size="6.1" font-weight="bold" text-anchor="end" fill="#1a1a1a" >100</text>
<line x1="64.80" y1="337.85" x2="67.40" y2="337.85" stroke="#000" stroke-width="1.1"/>
<text x="64.0" y="340.05" font-size="6.1" font-weight="bold" text-anchor="end" fill="#1a1a1a" >10</text>
<line x1="64.80" y1="352.97" x2="67.40" y2="352.97" stroke="#000" stroke-width="1.1"/>
<text x="64.0" y="355.16666666666663" font-size="6.1" font-weight="bold" text-anchor="end" fill="#1a1a1a" >1</text>
<line x1="64.80" y1="368.08" x2="67.40" y2="368.08" stroke="#000" stroke-width="1.1"/>
<text x="64.0" y="370.2833333333333" font-size="6.1" font-weight="bold" text-anchor="end" fill="#1a1a1a" >0.1</text>
<line x1="64.80" y1="383.20" x2="67.40" y2="383.20" stroke="#000" stroke-width="1.1"/>
<text x="64.0" y="385.4" font-size="6.1" font-weight="bold" text-anchor="end" fill="#1a1a1a" >0.01</text>
<line x1="67.40" y1="383.20" x2="67.40" y2="385.60" stroke="#000" stroke-width="1.1"/>
<text x="67.4" y="392.09999999999997" font-size="6.1" font-weight="normal" text-anchor="middle" fill="#1a1a1a" >0</text>
<line x1="101.00" y1="383.20" x2="101.00" y2="385.60" stroke="#000" stroke-width="1.1"/>
<text x="101.0" y="392.09999999999997" font-size="6.1" font-weight="normal" text-anchor="middle" fill="#1a1a1a" >20</text>
<line x1="134.60" y1="383.20" x2="134.60" y2="385.60" stroke="#000" stroke-width="1.1"/>
<text x="134.60000000000002" y="392.09999999999997" font-size="6.1" font-weight="normal" text-anchor="middle" fill="#1a1a1a" >40</text>
<line x1="168.20" y1="383.20" x2="168.20" y2="385.60" stroke="#000" stroke-width="1.1"/>
<text x="168.2" y="392.09999999999997" font-size="6.1" font-weight="normal" text-anchor="middle" fill="#1a1a1a" >60</text>
<text x="5.3" y="277.5" font-size="11.9" font-weight="bold" text-anchor="start" fill="#000" >D</text>
<text x="134.0" y="285.5" font-size="10.0" font-weight="normal" text-anchor="middle" fill="#111" stroke="#111" stroke-width="0.22" >WT</text>
<text x="100.4" y="405.1" font-size="9.5" font-weight="bold" text-anchor="start" fill="#000" textLength="69.9" lengthAdjust="spacingAndGlyphs" >Days after BMT</text>
<text transform="translate(33.0,383.6) rotate(-90)" font-size="10.4" font-weight="normal" fill="#111" stroke="#111" stroke-width="0.3" textLength="92.6" lengthAdjust="spacingAndGlyphs">Signal intensity <tspan font-size="7.5">&#215;</tspan>10<tspan dy="-4.6" font-size="7.2">6</tspan></text>
<line x1="254.70" y1="291.75" x2="254.70" y2="382.00" stroke="#000" stroke-width="1.3"/>
<line x1="254.10" y1="381.40" x2="389.50" y2="381.40" stroke="#000" stroke-width="1.3"/>
<line x1="252.10" y1="292.25" x2="254.70" y2="292.25" stroke="#000" stroke-width="1.1"/>
<text x="251.29999999999998" y="294.45" font-size="5.8" font-weight="bold" text-anchor="end" fill="#1a1a1a" >10000</text>
<line x1="252.10" y1="307.11" x2="254.70" y2="307.11" stroke="#000" stroke-width="1.1"/>
<text x="251.29999999999998" y="309.30833333333334" font-size="5.8" font-weight="bold" text-anchor="end" fill="#1a1a1a" >1000</text>
<line x1="252.10" y1="321.97" x2="254.70" y2="321.97" stroke="#000" stroke-width="1.1"/>
<text x="251.29999999999998" y="324.16666666666663" font-size="5.8" font-weight="bold" text-anchor="end" fill="#1a1a1a" >100</text>
<line x1="252.10" y1="336.82" x2="254.70" y2="336.82" stroke="#000" stroke-width="1.1"/>
<text x="251.29999999999998" y="339.025" font-size="5.8" font-weight="bold" text-anchor="end" fill="#1a1a1a" >10</text>
<line x1="252.10" y1="351.68" x2="254.70" y2="351.68" stroke="#000" stroke-width="1.1"/>
<text x="251.29999999999998" y="353.8833333333333" font-size="5.8" font-weight="bold" text-anchor="end" fill="#1a1a1a" >1</text>
<line x1="252.10" y1="366.54" x2="254.70" y2="366.54" stroke="#000" stroke-width="1.1"/>
<text x="251.29999999999998" y="368.7416666666666" font-size="5.8" font-weight="bold" text-anchor="end" fill="#1a1a1a" >0.1</text>
<line x1="252.10" y1="381.40" x2="254.70" y2="381.40" stroke="#000" stroke-width="1.1"/>
<text x="251.29999999999998" y="383.59999999999997" font-size="5.8" font-weight="bold" text-anchor="end" fill="#1a1a1a" >0.01</text>
<line x1="254.70" y1="381.40" x2="254.70" y2="383.80" stroke="#000" stroke-width="1.1"/>
<text x="254.7" y="390.29999999999995" font-size="5.8" font-weight="normal" text-anchor="middle" fill="#1a1a1a" >0</text>
<line x1="288.30" y1="381.40" x2="288.30" y2="383.80" stroke="#000" stroke-width="1.1"/>
<text x="288.3" y="390.29999999999995" font-size="5.8" font-weight="normal" text-anchor="middle" fill="#1a1a1a" >20</text>
<line x1="321.90" y1="381.40" x2="321.90" y2="383.80" stroke="#000" stroke-width="1.1"/>
<text x="321.9" y="390.29999999999995" font-size="5.8" font-weight="normal" text-anchor="middle" fill="#1a1a1a" >40</text>
<line x1="355.50" y1="381.40" x2="355.50" y2="383.80" stroke="#000" stroke-width="1.1"/>
<text x="355.5" y="390.29999999999995" font-size="5.8" font-weight="normal" text-anchor="middle" fill="#1a1a1a" >60</text>
<line x1="389.10" y1="381.40" x2="389.10" y2="383.80" stroke="#000" stroke-width="1.1"/>
<text x="389.1" y="390.29999999999995" font-size="5.8" font-weight="normal" text-anchor="middle" fill="#1a1a1a" >80</text>
<text x="213.3" y="277.5" font-size="11.9" font-weight="bold" text-anchor="start" fill="#000" >E</text>
<text x="299.4" y="285.9" font-size="10.3" font-weight="normal" text-anchor="start" fill="#111" stroke="#111" stroke-width="0.22" >ROR&#947;t<tspan dy="-3.4" font-size="5.4">-/-</tspan><tspan dy="3.4">/T-bet</tspan><tspan dy="-3.4" font-size="5.4">-/-</tspan></text>
<text x="281.6" y="405.75" font-size="11.4" font-weight="normal" text-anchor="start" fill="#000" stroke="#000" stroke-width="0.22" textLength="80.6" lengthAdjust="spacingAndGlyphs" >Days after BMT</text>
<text transform="translate(223.6,381.4) rotate(-90)" font-size="10.1" font-weight="normal" fill="#111" stroke="#111" stroke-width="0.3" textLength="90.0" lengthAdjust="spacingAndGlyphs">Signal intensity <tspan font-size="7.5">&#215;</tspan>10<tspan dy="-4.6" font-size="7.2">6</tspan></text>
<line x1="95.00" y1="317.50" x2="95.00" y2="328.00" stroke="#000" stroke-width="1.1"/>
<line x1="92.30" y1="317.50" x2="97.70" y2="317.50" stroke="#000" stroke-width="1.1"/>
<line x1="92.30" y1="328.00" x2="97.70" y2="328.00" stroke="#000" stroke-width="1.1"/>
<line x1="108.00" y1="322.00" x2="108.00" y2="336.50" stroke="#000" stroke-width="1.1"/>
<line x1="105.30" y1="322.00" x2="110.70" y2="322.00" stroke="#000" stroke-width="1.1"/>
<line x1="105.30" y1="336.50" x2="110.70" y2="336.50" stroke="#000" stroke-width="1.1"/>
<line x1="132.00" y1="315.50" x2="132.00" y2="338.30" stroke="#000" stroke-width="1.1"/>
<line x1="129.30" y1="315.50" x2="134.70" y2="315.50" stroke="#000" stroke-width="1.1"/>
<line x1="129.30" y1="338.30" x2="134.70" y2="338.30" stroke="#000" stroke-width="1.1"/>
<line x1="176.30" y1="323.00" x2="176.30" y2="327.50" stroke="#000" stroke-width="1.1"/>
<line x1="173.60" y1="323.00" x2="179.00" y2="323.00" stroke="#000" stroke-width="1.1"/>
<line x1="173.60" y1="327.50" x2="179.00" y2="327.50" stroke="#000" stroke-width="1.1"/>
<polyline points="95.00,320.75 108.25,304.50" fill="none" stroke="#000" stroke-width="1.1" stroke-linejoin="round"/>
<polyline points="95.00,335.50 108.00,326.25 132.00,320.00" fill="none" stroke="#000" stroke-width="1.1" stroke-linejoin="round"/>
<polyline points="95.00,346.25 108.00,341.25 132.00,320.00 176.30,327.50" fill="none" stroke="#000" stroke-width="1.1" stroke-linejoin="round"/>
<polyline points="95.00,360.00 108.00,359.25 132.00,356.75 176.50,338.75" fill="none" stroke="#000" stroke-width="1.1" stroke-linejoin="round"/>
<circle cx="95.00" cy="320.75" r="2.2" fill="#000" stroke="#000" stroke-width="0.9"/>
<circle cx="108.25" cy="304.50" r="2.2" fill="#000" stroke="#000" stroke-width="0.9"/>
<path d="M95.00,332.40 L98.40,335.80 L95.00,339.20 L91.60,335.80 Z" fill="#fff" stroke="#000" stroke-width="1.25"/>
<path d="M108.20,323.00 L111.60,326.40 L108.20,329.80 L104.80,326.40 Z" fill="#fff" stroke="#000" stroke-width="1.25"/>
<rect x="93.00" y="344.25" width="4" height="4" fill="#000" stroke="#000" stroke-width="0.8"/>
<rect x="106.00" y="339.25" width="4" height="4" fill="#000" stroke="#000" stroke-width="0.8"/>
<rect x="130.00" y="318.50" width="4" height="4" fill="#000" stroke="#000" stroke-width="0.8"/>
<rect x="174.30" y="325.50" width="4" height="4" fill="#000" stroke="#000" stroke-width="0.8"/>
<circle cx="132.00" cy="320.00" r="2.8" fill="#000" stroke="#000" stroke-width="0.9"/>
<circle cx="95.00" cy="360.00" r="2.3" fill="none" stroke="#000" stroke-width="1.2"/>
<circle cx="108.00" cy="359.25" r="2.3" fill="none" stroke="#000" stroke-width="1.2"/>
<circle cx="132.00" cy="356.75" r="2.3" fill="none" stroke="#000" stroke-width="1.2"/>
<circle cx="176.50" cy="338.75" r="2.3" fill="none" stroke="#000" stroke-width="1.2"/>
<line x1="281.75" y1="317.00" x2="281.75" y2="327.50" stroke="#000" stroke-width="1.1"/>
<line x1="279.05" y1="317.00" x2="284.45" y2="317.00" stroke="#000" stroke-width="1.1"/>
<line x1="279.05" y1="327.50" x2="284.45" y2="327.50" stroke="#000" stroke-width="1.1"/>
<line x1="281.75" y1="342.00" x2="281.75" y2="348.00" stroke="#000" stroke-width="1.1"/>
<line x1="279.05" y1="342.00" x2="284.45" y2="342.00" stroke="#000" stroke-width="1.1"/>
<line x1="279.05" y1="348.00" x2="284.45" y2="348.00" stroke="#000" stroke-width="1.1"/>
<line x1="295.75" y1="321.25" x2="295.75" y2="343.75" stroke="#000" stroke-width="1.1"/>
<line x1="293.05" y1="321.25" x2="298.45" y2="321.25" stroke="#000" stroke-width="1.1"/>
<line x1="293.05" y1="343.75" x2="298.45" y2="343.75" stroke="#000" stroke-width="1.1"/>
<line x1="362.50" y1="323.00" x2="362.50" y2="327.50" stroke="#000" stroke-width="1.1"/>
<line x1="359.80" y1="323.00" x2="365.20" y2="323.00" stroke="#000" stroke-width="1.1"/>
<line x1="359.80" y1="327.50" x2="365.20" y2="327.50" stroke="#000" stroke-width="1.1"/>
<line x1="281.75" y1="355.00" x2="281.75" y2="363.30" stroke="#000" stroke-width="1.1"/>
<line x1="279.05" y1="355.00" x2="284.45" y2="355.00" stroke="#000" stroke-width="1.1"/>
<line x1="279.05" y1="363.30" x2="284.45" y2="363.30" stroke="#000" stroke-width="1.1"/>
<polyline points="281.75,320.50 295.75,304.25" fill="none" stroke="#000" stroke-width="1.1" stroke-linejoin="round"/>
<polyline points="281.75,347.50 295.75,326.25" fill="none" stroke="#000" stroke-width="1.1" stroke-linejoin="round"/>
<polyline points="281.75,357.50 295.75,357.50 319.25,322.50 362.50,327.50" fill="none" stroke="#000" stroke-width="1.1" stroke-linejoin="round"/>
<polyline points="281.75,358.75 295.75,358.25 318.75,353.75 362.50,337.50" fill="none" stroke="#000" stroke-width="1.1" stroke-linejoin="round"/>
<circle cx="281.75" cy="320.50" r="2.2" fill="#000" stroke="#000" stroke-width="0.9"/>
<circle cx="295.75" cy="304.25" r="2.2" fill="#000" stroke="#000" stroke-width="0.9"/>
<path d="M281.75,344.10 L285.15,347.50 L281.75,350.90 L278.35,347.50 Z" fill="#fff" stroke="#000" stroke-width="1.25"/>
<path d="M295.75,322.85 L299.15,326.25 L295.75,329.65 L292.35,326.25 Z" fill="#fff" stroke="#000" stroke-width="1.25"/>
<circle cx="281.75" cy="358.75" r="2.3" fill="none" stroke="#000" stroke-width="1.2"/>
<circle cx="295.75" cy="358.25" r="2.3" fill="none" stroke="#000" stroke-width="1.2"/>
<circle cx="318.75" cy="353.75" r="2.3" fill="none" stroke="#000" stroke-width="1.2"/>
<circle cx="362.50" cy="337.50" r="2.3" fill="none" stroke="#000" stroke-width="1.2"/>
<rect x="279.75" y="355.80" width="4" height="4" fill="#000" stroke="#000" stroke-width="0.8"/>
<rect x="293.95" y="355.70" width="3.6" height="3.6" fill="#000" stroke="#000" stroke-width="0.8"/>
<rect x="317.45" y="320.70" width="3.6" height="3.6" fill="#000" stroke="#000" stroke-width="0.8"/>
<rect x="360.50" y="325.50" width="4" height="4" fill="#000" stroke="#000" stroke-width="0.8"/>
<line x1="395.60" y1="298.90" x2="405.40" y2="298.90" stroke="#000" stroke-width="1.2"/>
<circle cx="400.50" cy="298.90" r="2.2" fill="#000" stroke="#000" stroke-width="0.9"/>
<text x="410.6" y="301.7" font-size="8.45" font-weight="normal" text-anchor="start" fill="#000" stroke="#000" stroke-width="0.22" textLength="31.8" lengthAdjust="spacingAndGlyphs" >BM+A20</text>
<line x1="395.60" y1="309.30" x2="405.40" y2="309.30" stroke="#000" stroke-width="1.2"/>
<circle cx="400.50" cy="309.30" r="2.2" fill="none" stroke="#000" stroke-width="1.2"/>
<text x="410.6" y="313.2" font-size="8.45" font-weight="normal" text-anchor="start" fill="#000" stroke="#000" stroke-width="0.22" textLength="92.4" lengthAdjust="spacingAndGlyphs" >BM+ T cells + A20 2X10</text>
<text x="503.6" y="309.59999999999997" font-size="5.4" font-weight="normal" text-anchor="start" fill="#222" >3</text>
<line x1="395.60" y1="319.20" x2="405.40" y2="319.20" stroke="#000" stroke-width="1.2"/>
<rect x="398.70" y="317.40" width="3.6" height="3.6" fill="#000" stroke="#000" stroke-width="0.8"/>
<text x="410.6" y="323.6" font-size="8.45" font-weight="normal" text-anchor="start" fill="#000" stroke="#000" stroke-width="0.22" textLength="92.4" lengthAdjust="spacingAndGlyphs" >BM+ T cells + A20 1X10</text>
<text x="503.6" y="320.0" font-size="5.4" font-weight="normal" text-anchor="start" fill="#222" >4</text>
<line x1="395.60" y1="329.40" x2="405.40" y2="329.40" stroke="#000" stroke-width="1.2"/>
<path d="M400.50,326.40 L403.50,329.40 L400.50,332.40 L397.50,329.40 Z" fill="#fff" stroke="#000" stroke-width="1.2"/>
<text x="410.6" y="334.0" font-size="8.45" font-weight="normal" text-anchor="start" fill="#000" stroke="#000" stroke-width="0.22" textLength="92.4" lengthAdjust="spacingAndGlyphs" >BM+ T cells + A20 5X10</text>
<text x="503.6" y="330.4" font-size="5.4" font-weight="normal" text-anchor="start" fill="#222" >4</text>
<defs><linearGradient id="cb" x1="0" y1="0" x2="0" y2="1"><stop offset="0" stop-color="#8a1515"/><stop offset="0.05" stop-color="#d02020"/><stop offset="0.12" stop-color="#f05020"/><stop offset="0.2" stop-color="#f0a020"/><stop offset="0.25" stop-color="#f0e030"/><stop offset="0.33" stop-color="#c8e040"/><stop offset="0.45" stop-color="#70c040"/><stop offset="0.58" stop-color="#40c080"/><stop offset="0.7" stop-color="#40b8e0"/><stop offset="0.8" stop-color="#3070d0"/><stop offset="0.9" stop-color="#2840b0"/><stop offset="1.0" stop-color="#202070"/></linearGradient></defs>
<rect x="498.3" y="149.9" width="3.6" height="70" fill="url(#cb)"/>
<line x1="501.90" y1="150.20" x2="503.80" y2="150.20" stroke="#888" stroke-width="0.35"/>
<line x1="501.90" y1="152.82" x2="503.00" y2="152.82" stroke="#888" stroke-width="0.35"/>
<line x1="501.90" y1="155.44" x2="503.00" y2="155.44" stroke="#888" stroke-width="0.35"/>
<line x1="501.90" y1="158.06" x2="503.00" y2="158.06" stroke="#888" stroke-width="0.35"/>
<line x1="501.90" y1="160.68" x2="503.00" y2="160.68" stroke="#888" stroke-width="0.35"/>
<line x1="501.90" y1="163.30" x2="503.80" y2="163.30" stroke="#888" stroke-width="0.35"/>
<line x1="501.90" y1="165.92" x2="503.00" y2="165.92" stroke="#888" stroke-width="0.35"/>
<line x1="501.90" y1="168.54" x2="503.00" y2="168.54" stroke="#888" stroke-width="0.35"/>
<line x1="501.90" y1="171.16" x2="503.00" y2="171.16" stroke="#888" stroke-width="0.35"/>
<line x1="501.90" y1="173.78" x2="503.00" y2="173.78" stroke="#888" stroke-width="0.35"/>
<line x1="501.90" y1="176.40" x2="503.80" y2="176.40" stroke="#888" stroke-width="0.35"/>
<line x1="501.90" y1="179.02" x2="503.00" y2="179.02" stroke="#888" stroke-width="0.35"/>
<line x1="501.90" y1="181.64" x2="503.00" y2="181.64" stroke="#888" stroke-width="0.35"/>
<line x1="501.90" y1="184.26" x2="503.00" y2="184.26" stroke="#888" stroke-width="0.35"/>
<line x1="501.90" y1="186.88" x2="503.00" y2="186.88" stroke="#888" stroke-width="0.35"/>
<line x1="501.90" y1="189.50" x2="503.80" y2="189.50" stroke="#888" stroke-width="0.35"/>
<line x1="501.90" y1="192.12" x2="503.00" y2="192.12" stroke="#888" stroke-width="0.35"/>
<line x1="501.90" y1="194.74" x2="503.00" y2="194.74" stroke="#888" stroke-width="0.35"/>
<line x1="501.90" y1="197.36" x2="503.00" y2="197.36" stroke="#888" stroke-width="0.35"/>
<line x1="501.90" y1="199.98" x2="503.00" y2="199.98" stroke="#888" stroke-width="0.35"/>
<line x1="501.90" y1="202.60" x2="503.80" y2="202.60" stroke="#888" stroke-width="0.35"/>
<line x1="501.90" y1="205.22" x2="503.00" y2="205.22" stroke="#888" stroke-width="0.35"/>
<line x1="501.90" y1="207.84" x2="503.00" y2="207.84" stroke="#888" stroke-width="0.35"/>
<line x1="501.90" y1="210.46" x2="503.00" y2="210.46" stroke="#888" stroke-width="0.35"/>
<line x1="501.90" y1="213.08" x2="503.00" y2="213.08" stroke="#888" stroke-width="0.35"/>
<line x1="501.90" y1="215.70" x2="503.80" y2="215.70" stroke="#888" stroke-width="0.35"/>
<line x1="501.90" y1="218.32" x2="503.00" y2="218.32" stroke="#888" stroke-width="0.35"/>
<text x="507.5" y="149.89999999999998" font-size="3.4" font-weight="bold" text-anchor="start" fill="#666" textLength="6.4" lengthAdjust="spacingAndGlyphs" >3000</text>
<text x="507.5" y="162.99999999999997" font-size="3.4" font-weight="bold" text-anchor="start" fill="#666" textLength="6.4" lengthAdjust="spacingAndGlyphs" >2500</text>
<text x="507.5" y="176.09999999999997" font-size="3.4" font-weight="bold" text-anchor="start" fill="#666" textLength="6.4" lengthAdjust="spacingAndGlyphs" >2000</text>
<text x="507.5" y="189.2" font-size="3.4" font-weight="bold" text-anchor="start" fill="#666" textLength="6.4" lengthAdjust="spacingAndGlyphs" >1500</text>
<text x="507.5" y="202.29999999999998" font-size="3.4" font-weight="bold" text-anchor="start" fill="#666" textLength="6.4" lengthAdjust="spacingAndGlyphs" >1000</text>
<text x="508.3" y="215.39999999999998" font-size="3.4" font-weight="bold" text-anchor="start" fill="#666" textLength="4.6" lengthAdjust="spacingAndGlyphs" >500</text>
<text x="499.2" y="226.2" font-size="3.3" font-weight="bold" text-anchor="start" fill="#555" textLength="7.0" lengthAdjust="spacingAndGlyphs" >Counts</text>
<rect x="498.4" y="238.4" width="19.4" height="15.6" fill="#fff" stroke="#888" stroke-width="0.6"/>
<rect x="499.4" y="239.4" width="17.4" height="13.6" fill="none" stroke="#bbb" stroke-width="0.4"/>
<text x="500.2" y="243.2" font-size="3.3" font-weight="bold" text-anchor="start" fill="#555" textLength="16.0" lengthAdjust="spacingAndGlyphs" >Color Scale</text>
<text x="501.0" y="247.3" font-size="3.3" font-weight="bold" text-anchor="start" fill="#555" textLength="14.4" lengthAdjust="spacingAndGlyphs" >Min = 300</text>
<text x="500.2" y="251.3" font-size="3.3" font-weight="bold" text-anchor="start" fill="#555" textLength="16.2" lengthAdjust="spacingAndGlyphs" >Max = 3000</text>
</g>
</svg>
</body></html>
